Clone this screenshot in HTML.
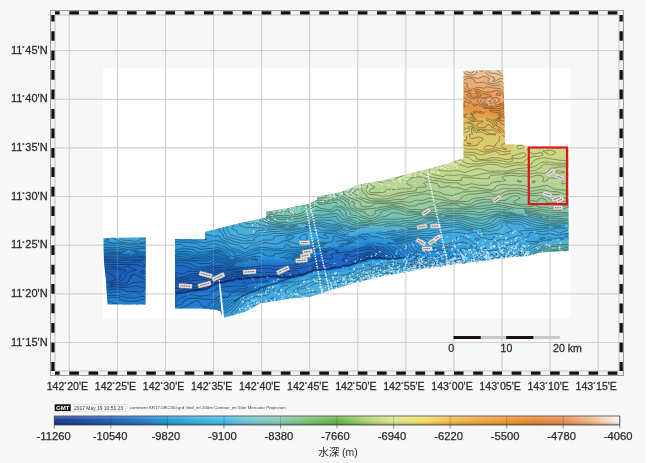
<!DOCTYPE html>
<html><head><meta charset="utf-8"><title>map</title>
<style>html,body{margin:0;padding:0;background:#f7f7f7;overflow:hidden}svg{display:block;filter:blur(0.35px)}</style>
</head><body><svg width="648" height="463" viewBox="0 0 648 463"><defs><linearGradient id="cb" x1="0" x2="1" y1="0" y2="0"><stop offset="0" stop-color="#1a3a90"/><stop offset="0.05" stop-color="#1e4aa8"/><stop offset="0.1" stop-color="#2060b8"/><stop offset="0.15" stop-color="#2478c8"/><stop offset="0.2" stop-color="#2898d8"/><stop offset="0.25" stop-color="#38b0e0"/><stop offset="0.3" stop-color="#48bce8"/><stop offset="0.35" stop-color="#78c8d0"/><stop offset="0.4" stop-color="#88ccb0"/><stop offset="0.45" stop-color="#78c470"/><stop offset="0.5" stop-color="#68b848"/><stop offset="0.55" stop-color="#a8d470"/><stop offset="0.6" stop-color="#e0e890"/><stop offset="0.65" stop-color="#f0e070"/><stop offset="0.7" stop-color="#f0c050"/><stop offset="0.75" stop-color="#f0a840"/><stop offset="0.8" stop-color="#f09838"/><stop offset="0.85" stop-color="#e88838"/><stop offset="0.9" stop-color="#e89050"/><stop offset="0.95" stop-color="#f0b888"/><stop offset="1.0" stop-color="#fff8f0"/></linearGradient><linearGradient id="cbs" x1="0" x2="0" y1="0" y2="1"><stop offset="0" stop-color="#fff" stop-opacity="0.3"/><stop offset="0.45" stop-color="#fff" stop-opacity="0"/><stop offset="0.8" stop-color="#000" stop-opacity="0.1"/><stop offset="1" stop-color="#000" stop-opacity="0.35"/></linearGradient></defs><rect x="0" y="0" width="648" height="463" fill="#f7f7f7"/><rect x="645" y="0" width="3" height="463" fill="#fdfdfd"/><rect x="103" y="68.5" width="468" height="250" fill="#ffffff"/><path d="M69.30 15V371 M117.38 15V371 M165.46 15V371 M213.54 15V371 M261.62 15V371 M309.70 15V371 M357.78 15V371 M405.86 15V371 M453.94 15V371 M502.02 15V371 M550.10 15V371 M598.18 15V371 M55 50.60H619 M55 99.25H619 M55 147.90H619 M55 196.55H619 M55 245.20H619 M55 293.85H619 M55 342.50H619" stroke="#c8c8c8" stroke-width="1" fill="none"/><defs><clipPath id="dm"><path d="M103.5 238.0 L145.8 237.5 L145.5 304.5 L107.5 304.5 L106.0 280.0 L104.0 262.0ZM175.0 239.0 L205.0 239.0 L205.0 232.0 L240.0 223.0 L266.0 217.8 L266.0 211.6 L286.0 208.5 L308.0 203.9 L317.0 200.0 L317.0 196.7 L340.0 192.3 L361.0 184.3 L380.0 181.0 L411.0 173.2 L442.0 165.5 L457.0 160.0 L463.5 158.5 L463.5 71.0 L480.0 70.5 L503.0 70.0 L504.0 100.0 L505.0 144.5 L523.0 144.5 L528.0 147.0 L568.5 147.5 L568.5 251.0 L540.0 252.5 L528.0 256.0 L505.0 257.7 L490.0 260.0 L480.0 261.0 L470.0 262.5 L457.0 264.0 L440.0 266.5 L422.0 269.0 L400.0 273.0 L376.0 277.5 L350.0 284.5 L330.0 290.5 L310.0 297.0 L290.0 298.5 L275.0 301.0 L260.0 303.5 L245.0 312.0 L230.0 316.0 L223.0 318.0 L220.0 311.0 L215.0 309.5 L200.0 308.5 L175.0 308.5Z"/></clipPath></defs><g clip-path="url(#dm)"><path fill="#1b52a5" stroke="#1b52a5" stroke-width="0.7" d="M245.9 278 250.2 278 245.9 278ZM237.2 279 242.4 279 237.2 279ZM232.2 280 235 279.4 236.1 280 232.2 280ZM228 281 229.3 281 228 281ZM219.3 282 223 281.5 224.7 282 220 282.3 219.6 283 217 283.5 211 286.2 208.9 286 213 283.7 219.3 282ZM207.7 287 208.3 287 207.7 287Z"/><path fill="#1c55aa" stroke="#1c55aa" stroke-width="0.7" d="M332.6 268 335.5 268 332.6 268ZM317.4 269 330 268.4 330.9 269 317.4 269ZM313.9 270 316 269.4 317 270 315 270.2 314.1 271 312 271.2 311.2 272 309 272.3 308.3 273 306 273.3 299 276.2 292 276.4 291.5 277 290 277.2 274.6 277 278 276.3 291 276.1 299 274.5 313.9 270ZM261.8 276 261.7 277 254 277.6 232 280.8 218 283.8 204.5 289 188 291.2 186 292.1 181.3 292 203 287 210 283.5 218 280.9 228 279.8 234 278.3 261.8 276ZM208 286.7 207.7 287 208 286.7ZM220 281.9 214 283.3 208.9 286 211 286.2 217 283.5 219.6 283 220 282.3 224.7 282 223 281.5 220 281.9ZM228 281 229.3 281 228 281ZM233 279.7 232.2 280 233 280.1 236.1 280 235 279.4 233 279.7ZM238 278.9 242.4 279 238 278.9ZM246 278 250.2 278 246 278ZM177.7 293 180 292.4 181 292.4 181.1 293 177.7 293ZM172 294 172 293.5 173 293.5 175.5 294 172 294Z"/><path fill="#1d59af" stroke="#1d59af" stroke-width="0.7" d="M363.2 260 365.2 260 363.2 260ZM360 261 362 260.3 362.3 261 360 261ZM357.3 262 359 261.4 359.3 262 357.3 262ZM354.5 263 356 262.5 356.3 263 354.5 263ZM351.1 264 353 263.4 353.3 264 351.1 264ZM346.7 265 350 264.3 350.5 265 346.7 265ZM342.1 266 345 265.4 345.9 266 342.1 266ZM336.6 267 340 266.4 340.9 267 336.6 267ZM318 268 335 267.2 336 267.3 336.3 268 330 269.4 318 269.6 299 276.3 290 277.4 262 277.4 240 280.1 218 284.2 205 289.3 175 294.5 172 294.6 172 294.1 175.5 294 172 293.5 172 291.6 175 291.3 180 289.7 187.9 285 191 284.6 195 285.8 198 285.9 204.1 283 215 279.3 249 275.7 262 275.3 269 275.8 290 274.8 298 273.3 318 268ZM318 268.8 330.9 269 330 268.4 318 268.8ZM333 267.9 335.5 268 333 267.9ZM178 292.9 181.1 293 181 292.4 178 292.9ZM262 276 234 278.3 228 279.8 218 280.9 210 283.5 203 287 181.3 292 186 292.1 188 291.2 204.5 289 218 283.8 232 280.8 254 277.6 261.7 277 262 276ZM314 270 299 274.5 291 276.1 278 276.3 274.6 277 290 277.2 291.5 277 292 276.4 299 276.2 306 273.3 308.3 273 309 272.3 311.2 272 312 271.2 314.1 271 315 270.2 317 270 316 269.4 314 270ZM102 272 105.7 273 107.5 275 103 276.5 102 275 102 272ZM109.9 278 112 277.3 113.7 278 113.4 279 109 280.4 106.3 280 109.9 278Z"/><path fill="#1e5cb4" stroke="#1e5cb4" stroke-width="0.7" d="M365.5 258 368 257.2 370 257.3 371 258 371 259 367 259.3 350 265.4 330 269.5 318 270 299 276.5 290 277.6 262 277.9 234 281.4 218 284.7 205 289.8 175 295 172 295 172 294.6 175 294.5 205 289.3 218 284.2 232 281.3 262 277.4 290 277.4 299 276.3 318 269.6 330 269.4 336.3 268 336 267.3 335 267.2 318 268 298 273.3 290 274.8 269 275.8 262 275.3 249 275.7 218 278.8 204.1 283 198 285.9 195 285.8 191 284.6 188 285 180 289.7 175 291.3 172 291.6 172 283.9 175 285.7 177 285.8 178.4 285 178.5 283 180.7 282 198 281.2 205 279.9 209 278 210.9 276 215 274.6 220 274.6 227 275.8 236 274.6 262 274.4 268 274.9 290 273.4 299 271.9 318 267.2 330 267.1 339.2 266 350 263.5 365.5 258ZM337 266.9 340.9 267 340 266.4 337 266.9ZM343 265.8 345.9 266 345 265.4 343 265.8ZM347 264.9 350.5 265 350 264.3 347 264.9ZM352 263.7 351.1 264 353.3 264 353 263.4 352 263.7ZM355 262.8 356.3 263 356 262.5 355 262.8ZM358 261.7 359.3 262 359 261.4 358 261.7ZM360 261 362.3 261 362 260.3 360 261ZM364 259.8 365.2 260 364 259.8ZM102 270 102 269.5 114 269.3 122.2 270 124.1 271 119.3 274 118.7 275 119.3 278 117.7 280 113 282.3 108 283 103 282.5 103 276.5 107.5 275 105.7 273 102 272 102 270ZM110 277.9 106.3 280 109 280.4 113.4 279 113.7 278 113 277.6 111 277.3 110 277.9Z"/><path fill="#1e5fb9" stroke="#1e5fb9" stroke-width="0.7" d="M367.8 255 370 254.8 374.7 258 373.4 259 367 259.6 350 265.6 331 269.5 318 270.2 299 276.7 290 277.8 262 278.3 234 281.8 218 285.1 205 290.2 175 295.5 172 295.5 172 295 175 295 205 289.8 218 284.7 233 281.6 262 277.9 290 277.6 299 276.5 318 270 332 269.1 350 265.4 367 259.3 371 259 371 258 370 257.3 368 257.2 350 263.5 339.2 266 330 267.1 318 267.2 299 271.9 290 273.4 268 274.9 262 274.4 236 274.6 227 275.8 220 274.6 215 274.6 210.9 276 209 278 205 279.9 198 281.2 180 282.2 178.5 283 178.4 285 177 285.8 175 285.7 172 283.9 172 281.5 192 277.9 204 276.6 215 272.4 223 271.5 229 273 235 272.4 268 273.7 290 272.2 299 270.9 318 266.1 330 266.5 341.1 265 350 262.7 367.8 255ZM125.3 266 130.2 266 133 268.6 137.4 270 135 271.2 129 272.5 126.2 274 126.8 277 120.3 282 112 284.3 103 283.7 103 282.5 111 282.8 114 282 117.7 280 119.3 278 118.7 275 119.3 274 124.1 271 122.2 270 115 269.4 102 269.5 102 267.4 111 266.1 121 267.9 125.3 266ZM147.6 269 148 268.8 148 270.3 147.4 270 147.6 269Z"/><path fill="#1e62bd" stroke="#1e62bd" stroke-width="0.7" d="M369.6 253 372.5 254 379.2 258 376 259 368 259.6 350 265.7 331 269.7 318 270.4 299 276.9 290 278 262 278.7 235.3 282 218 285.5 205 290.6 175 296 172 296 172 295.5 175 295.5 205 290.2 218 285.1 233 282 262 278.3 290 277.8 299 276.7 318 270.2 331 269.5 350 265.6 367 259.6 373.4 259 374.7 258 370 254.8 368 254.9 350 262.7 336 266.1 330 266.5 318 266.1 299 270.9 290 272.2 269 273.7 235 272.4 229 273 225 271.8 222 271.6 215 272.4 204 276.6 192 277.9 173 281.4 172 281.5 172 279.4 182.5 278 191 275.5 205 273.9 215 270 224 269.6 239 271 256 270.7 266 272.2 275 271.4 286 271.3 292 270.2 299 269.8 318 264.1 327 264.7 330 265.7 338.4 265 349 262 348.9 260 352 259.3 356.2 257 369.6 253ZM107.5 264 137 263.9 144 266 148 266 148 268.8 147.4 270 148 270.3 148 281.3 139.2 279 137.3 277 134 275.9 133 276.4 131.9 279 130 280.9 129.9 282 126 284.4 112 285.9 103 284.8 103 283.7 112 284.3 120.3 282 126.8 277 126.2 274 129 272.5 135 271.2 137.4 270 133.8 269 131 266.4 129 265.8 125.3 266 121 267.9 111 266.1 102 267.4 101 266 101 264.8 107.5 264Z"/><path fill="#1e66c1" stroke="#1e66c1" stroke-width="0.7" d="M366.8 251 370 250.4 379.8 255 384 258 378.7 259 368 259.8 350 265.9 330 270.1 318 270.6 299 277.1 290 278.2 262 279.2 248 280.9 245 281.8 234 282.7 218 285.9 204 291.3 175 296.5 172 296.6 172 296 175 296 205 290.6 218 285.5 235.3 282 262 278.7 290 278 299 276.9 318 270.4 331 269.7 350 265.7 368 259.6 376 259 379.2 258 370 252.9 356.2 257 352 259.3 348.9 260 349 262 338 265.1 330 265.7 327 264.7 318 264.1 299 269.8 292 270.2 285 271.4 275 271.4 266 272.2 256 270.7 239 271 225 269.7 218 269.7 215 270 205 273.9 191 275.5 182.5 278 172 279.4 172 277.5 181.6 276 190 272.4 198 272.4 205 271.5 215 267.9 245 269.5 254 267.2 268 266.6 277 268.1 281 266.7 288 265.8 292.2 266 299 267.8 303 266.8 308 263.4 312 262.9 319 260 321 260.2 324 261.7 335 265.1 340 263.8 339 263 334 261.8 332.6 261 332.7 260 340 258.2 341.7 257 339 255.1 336 256 334 255.3 333.3 255 334.3 254 339 253.9 345 252.7 352 253.1 356 252.5 362 253.1 366.8 251ZM139.1 261 143 261.3 144.8 262 145 263.1 148 263.8 148 266 147 266.1 144 266 136 263.9 109 263.9 101 264.8 101 261.3 116 261.6 139.1 261ZM133.6 276 137 276.9 140 279.3 148 281.3 148 287 143 286.4 140 284.2 138 283.9 134 284.2 125 286.7 111 287.4 103 286.2 103 284.8 112 285.9 126 284.4 129.9 282 130 280.9 133.6 276Z"/><path fill="#1f6ac4" stroke="#1f6ac4" stroke-width="0.7" d="M366.5 248 370 248.1 375 249.8 386.1 256 388.1 258 368 260 350 266.1 330 270.3 318 270.7 299 277.2 290 278.5 260 280 255 281.9 250 282.4 244 285.3 230 285.8 213.8 288 205 291.8 190 293.9 175.8 297 172 300.3 172 296.6 175 296.5 204 291.3 218 285.9 233 282.9 240 281.8 245 281.8 248 280.9 262 279.2 290 278.2 299 277.1 318 270.6 330 270.1 350 265.9 368 259.8 378.7 259 384 258 378 254.1 370 250.4 368 250.5 362 253.1 356 252.5 352 253.1 345 252.7 339 253.9 334.3 254 333.3 255 334 255.3 336 256 339 255.1 341.7 257 340 258.2 332.7 260 332.6 261 334 261.8 339 263 340 263.8 335.6 265 333.9 265 331 263.5 325 262 320 260 318 260.2 312 262.9 308 263.4 303 266.8 299 267.8 292.2 266 288 265.8 281 266.7 277 268.1 268 266.6 254 267.2 245 269.5 215 267.9 205 271.5 198 272.4 190 272.4 181.6 276 175 277.4 172 277.5 172 266.1 175 266.6 182 266.2 197 270.2 205 269 215 266.1 218 265.8 245 267.9 251.3 266 264 264.4 293 264.2 299 265.2 300.2 265 304 262 315 258.4 319.1 256 325 255.3 336 252.1 351 250.7 361 248.5 366.5 248ZM101 259 116 259.8 126 259 134 259.7 144 259.4 148 260.2 148 263.8 146 263.5 144.9 263 144.8 262 141 261 116 261.6 101 261.3 101 259ZM135.6 284 139.4 284 143 286.4 148 287 148 288.8 144 289.2 142.8 290 142.6 291 141 291.8 124 289.2 109 289.7 103 288.1 103 286.2 111 287.4 125 286.7 135.6 284Z"/><path fill="#1f6fc7" stroke="#1f6fc7" stroke-width="0.7" d="M362.7 246 368 245.9 378.2 249 390 255.5 392.2 258 368 260.2 350 266.3 330 270.5 318 270.9 299 277.4 290 278.7 275 279.3 270 280.6 262 281.2 255 283.9 248 285.7 245 288.9 240 289.2 236 290.9 226 291.9 221 290.1 218 289.9 213.3 291 212 294.4 210 295.5 201 296.6 193.4 295 190.6 295 185 296.3 179.2 299 177.5 302 176 303.1 172 303.4 172 300.3 175.8 297 190 293.9 205 291.8 213.8 288 230 285.8 244 285.3 250 282.4 255 281.9 260 280 290 278.5 299 277.2 318 270.7 330 270.3 350 266.1 368 260 388.1 258 386.1 256 375.4 250 368 247.8 362 248.4 351 250.7 336 252.1 325 255.3 319.1 256 315 258.4 304 262 300.2 265 299 265.2 293 264.2 264 264.4 251.3 266 245 267.9 218 265.8 215 266.1 205 269 197 270.2 182 266.2 175 266.6 172 266.1 172 262.8 180 262.3 191.1 263 195 266 199 267.2 213 265 214.5 264 215.6 262 218 261.4 229.8 265 245 266.5 250 265 262 263.4 282 263.6 299 262.6 312 257.6 318 254.6 330 252.7 336 250.6 350 249.6 362.7 246ZM101 258 101 257.3 142 257.5 148 258.3 148 260.2 143 259.3 134 259.7 126 259 117 259.8 107 259.7 101 258.9 101 258ZM103 289 103 288.1 109 289.7 124 289.2 140 291.8 142 291.5 142.8 290 144.5 289 148 288.8 148 294.2 140 294.6 134 293 129 294.7 125 295 122 294.4 117 292.1 113 293.4 110 293.6 104 292.4 103 291 103 289Z"/><path fill="#2075ca" stroke="#2075ca" stroke-width="0.7" d="M367.4 244 369.8 244 372.8 246 381 248 384.5 250 390 252 393 254.2 396.2 258 368 260.4 350 266.5 330 270.6 318 271.1 299 277.6 290 278.9 273.5 280 270 282 262 282.6 250 285.9 245 291.2 233.9 293 232 293.9 232.6 296 231.1 297 226 298 220 297.8 216.3 300 213 300.6 205 300.6 196 299 191 299.3 186 301.6 182.8 305 172 307.8 172 303.4 176 303.1 177.5 302 179.2 299 185 296.3 190.6 295 193.4 295 201 296.6 210 295.5 212 294.4 213.3 291 218 289.9 221 290.1 226 291.9 236 290.9 240 289.2 245 288.9 248 285.7 255 283.9 262 281.2 270 280.6 275 279.3 290 278.7 299 277.4 318 270.9 330 270.5 350 266.3 368 260.2 392.2 258 390 255.5 378.2 249 368 245.9 365 245.9 359 246.8 350 249.6 336 250.6 330 252.7 318 254.6 312 257.6 299 262.6 282 263.6 262 263.4 250 265 245 266.5 229.8 265 218 261.4 215.6 262 214.5 264 213 265 199 267.2 195 266 191.1 263 180 262.3 172 262.8 172 261 180 259.9 193 260.7 200 262.5 205 262.8 210 262 215 259.3 218 259 222 260 226 262 233 263.8 245 265.2 262 262.3 290 262.1 299 260.9 309 257.4 318 253.4 330 251.5 336 249 343 249.2 350 248.5 367.4 244ZM101 256 142 255.7 148 256.4 148 258.3 142 257.5 128 257.2 108 257.7 101 257.3 101 256ZM104 293 104 292.4 112 293.6 117 292.1 122 294.4 125 295 129 294.7 134 293 140 294.6 148 294.2 148 298.7 144 297.3 142 297.3 133 299.6 126 298.7 117 296.1 106 296.5 104 296.2 104 293Z"/><path fill="#207bcd" stroke="#207bcd" stroke-width="0.7" d="M367.6 243 373 243.5 377.6 245 384 246.1 394 251.7 396.6 254 398.6 257 400.2 258 387 259.5 368 260.6 350 266.7 330 270.8 318 271.3 299 277.8 290 279.1 276.4 280 270.8 283 262 283.4 253 285.7 250.7 287 249 290 245.4 293 244.7 295 239 295.2 237.6 296 220 299.7 216.1 302 215 303.7 210.2 308 208 308.8 205 308.8 200 306.9 195 306.5 194.4 307 196.4 309 196.5 310 195 311 175 311 172 308 182.8 305 186 301.6 191 299.3 196 299 205 300.6 213 300.6 216.3 300 220 297.8 226 298 231.1 297 232.6 296 232 293.9 233.9 293 245 291.2 250 285.9 262 282.6 270 282 273.5 280 290 278.9 299 277.6 318 271.1 330 270.6 350 266.5 368 260.4 396.2 258 393 254.2 390 252 384.5 250 381 248 373 246.1 370 244.1 368 243.8 350 248.5 343 249.2 336 249 330 251.5 318 253.4 309 257.4 299 260.9 290 262.1 262 262.3 244 265.2 233 263.8 226 262 222 260 218 259 215 259.3 210 262 205 262.8 200 262.5 193 260.7 180 259.9 172 261 172 258 180 257.3 188 258.8 204 260 215 256.8 218 256.9 236 262.9 245 264 262 261 281 261.6 290 261.1 306.7 257 318 252 330 250.1 336 247.7 342 247.9 350 247.4 367.6 243ZM136.9 254 143 253.2 148 253.7 148 256.4 130 255.5 101 255.9 101 254.4 136.9 254ZM114.9 296 120 296.7 126 298.7 133 299.6 141 297.4 145 297.6 148 298.7 148 304 146.7 305.3 144 305 140 305.8 137.3 305 137.2 304 136 303.4 134 303.1 132 303.4 128 305.2 125 305.3 121 302.5 114.4 301 115.8 299 115 298.6 104 299.3 104 296.2 107 296.6 114.9 296ZM117.7 307 120 306.3 122.6 307 117.7 307ZM141.5 307 142.5 307 141.5 307Z"/><path fill="#2081d0" stroke="#2081d0" stroke-width="0.7" d="M367.9 242 387.7 244 396.7 250 401.2 255 404.1 257 402.9 258 388 259.7 368 260.8 350 266.9 330 271 318 271.5 299 277.9 290 279.3 279.9 280 274 283 262 283.9 257.3 285 254.1 286 250.6 291 248.2 293 248.1 294 245.8 295 240 295.5 221.6 300 215 307.2 207.5 311 195 311 196.5 310 196.4 309 194.4 307 195 306.5 200 306.9 205 308.8 209 308.4 211 307.4 217.3 301 220 299.7 237.6 296 239 295.2 244.7 295 245.4 293 249 290 250.7 287 253 285.7 262 283.4 270.8 283 276.4 280 290 279.1 299 277.8 318 271.3 330 270.8 350 266.7 368 260.6 387 259.5 400.2 258 398.6 257 396.6 254 394 251.7 384 246.1 377.6 245 375.8 244 368 242.9 350 247.4 342 247.9 336 247.7 330 250.1 318 252 306.7 257 290 261.1 281 261.6 262 261 245 264 236 262.9 218 256.9 215 256.8 204 260 188 258.8 180 257.3 172 258 172 256.3 176 256 180 254.9 186 255.5 193 257.4 205 257.7 211.5 256 215 254.4 218 254.1 229 259.2 239.3 262 245 262.8 254 260.8 262 259.8 285 260.4 290 259.9 296 257.5 305.2 256 318 250.1 329 248.5 336 246.4 350 246.2 367.9 242ZM139.1 252 143 251.6 148 252.1 148 253.7 143 253.2 134 254.2 101 254.4 101 252.5 132 253 139.1 252ZM109.8 299 115 298.6 115.8 299 114.4 301 121 302.5 125 305.3 128 305.2 132 303.4 134 303.1 136 303.4 137.2 304 137.3 305 140 305.8 144 305 146.7 305.3 145 307 122.6 307 120 306.3 117.7 307 107 307 106.7 306.7 108.1 306 106.2 304 104 303.1 104 299.3 109.8 299Z"/><path fill="#2387d3" stroke="#2387d3" stroke-width="0.7" d="M364.8 242 368 241.2 389 242.6 395 243.6 403 248.7 405 252 411.2 255 410.2 257 400 259.1 368 261 350 267.1 330 271.2 318 271.6 299 278.1 283.2 280 277.9 283 258.8 285 256.5 286 253.5 291 250.8 294 240 295.8 226.8 299 223.1 302 220.8 305 211.8 311 207.5 311 215 307.2 221.6 300 240 295.5 245.8 295 248.1 294 248.2 293 250.6 291 254.1 286 257.3 285 262 283.9 274 283 279.9 280 290 279.3 299 277.9 318 271.5 330 271 350 266.9 368 260.8 396.1 259 402.9 258 404.1 257 401.2 255 396.7 250 387.7 244 368 242 350 246.2 336 246.4 329 248.5 318 250.1 305.2 256 296 257.5 290 259.9 284 260.5 262 259.8 254 260.8 245 262.8 239.3 262 229 259.2 218 254.1 215 254.4 211.5 256 205 257.7 193 257.4 186 255.5 180 254.9 176 256 172 256.3 172 254.6 180 252.6 188 253.5 194 255.6 205 255.9 215 252.1 218 252 229 257.7 245 261.4 256 258.9 263 258.6 282 259.5 290 258.2 295 256 304 254.7 318 248.6 328 247.2 336 245.2 350 245.2 364.8 242ZM101 251 107 250.5 129 251.8 143 250.5 148 250.8 148 252.1 142 251.7 133 252.9 112 252.9 101 252.5 101 251ZM104 304 104 303.1 106 303.9 108.1 306 106.7 306.7 104 304Z"/><path fill="#268dd6" stroke="#268dd6" stroke-width="0.7" d="M365.3 241 368 240.4 390 241.6 401.2 243 404 244.2 410 252 415 254.2 415.7 255 415.6 256 413.8 257 400 259.6 368 261.2 350 267.3 330 271.4 318 271.8 299 278.3 286.3 280 281.7 283 279 283.7 260.2 285 258.8 286 256.2 292 253.4 294 231.8 298 226.6 302 223 305.8 218 308.5 214.4 311.4 211.8 311 220.8 305 223.1 302 226.8 299 240 295.8 250.8 294 253.5 291 256.5 286 258.8 285 277.9 283 283.2 280 299 278.1 318 271.6 330 271.2 350 267.1 368 261 400 259.1 410.2 257 411.2 255 405 252 403 248.7 395 243.6 389 242.6 368 241.2 350 245.2 336 245.2 328 247.2 318 248.6 304 254.7 295 256 290 258.2 282 259.5 263 258.6 256 258.9 245 261.4 229 257.7 218 252 215 252.1 205 255.9 194 255.6 188 253.5 180 252.6 172 254.6 172 251.7 180 250.7 190 250.6 196 253.5 205 253.8 212 251.4 218 250.5 224.7 253 230 256.6 245 259.4 255 257.4 280 258.5 286 257.4 293 254.2 299 253.9 304 252.8 318 247.2 328 246 340 243.6 356 243.3 365.3 241ZM100 249 100 248.6 104 248.5 112 249 119 248.7 129 250.4 143 249.2 148 249.4 148 250.8 141 250.5 129 251.8 120 250.9 101 250.8 100 249Z"/><path fill="#2991d8" stroke="#2991d8" stroke-width="0.7" d="M357 240 359 239.5 362 240.4 368 239.6 392 240.5 407.2 242 409 243 409.8 247 413 250.8 420 253.8 423 254 425.4 256 425.5 257 420 257 400 260.1 368 261.4 347 268.1 331 271.4 318 272 299 278.5 289.8 280 285.8 283 282.7 284 261.6 285 261.2 288 259.2 293 236.7 297 234.7 298 233 300.6 222 309 216.1 312 214.4 311.4 218 308.5 223 305.8 226.6 302 231.8 298 253.4 294 256.2 292 258.8 286 260.2 285 279 283.7 281.7 283 286.3 280 299 278.3 318 271.8 330 271.4 350 267.3 368 261.2 400 259.6 413 257.2 415.6 256 415.7 255 414.8 254 410 252 404 244.2 401.2 243 390 241.6 368 240.4 356 243.3 340 243.6 328 246 318 247.2 304 252.8 299 253.9 293 254.2 286 257.4 280 258.5 255 257.4 245 259.4 230 256.6 224.7 253 218 250.5 212 251.4 205 253.8 196 253.5 190 250.6 180 250.7 172 251.7 172 248 175 248.7 177.5 247 180 246.4 194 248.3 201 251 218 248.6 231 252.5 231.8 253 231.6 255 233 255.6 245 257.2 256 255.2 270 257.1 278 257.2 279.9 257 281.1 255 286 253.1 299 252.1 305 250.6 318 245.9 330 244.4 339 242.4 350 242.1 357 240ZM172 246 172.6 246 172 247.8 172 246ZM100 247 100 246.3 105 246 117 246.3 128 248.5 141 247.2 148 247.9 148 249.4 140 249.2 128 250.4 119 248.7 112 249 100 248.6 100 247Z"/><path fill="#2c94d8" stroke="#2c94d8" stroke-width="0.7" d="M357.7 237 365 236.8 370 239.1 384 239.7 395 239.2 410 240.7 413.2 242 413.7 245 415 247 420 250.5 422 250.4 428 252.4 437 252.2 439 253.2 440.4 253 439.2 252 440 251.8 447 252.2 448.9 253 449 254 447.4 255 444 255.6 440 255 437 255.5 433 256.9 430 260.1 428 260.7 423 260 410 259.7 368 261.5 347 268.4 332 271.5 316 272.8 300 278.4 292.5 280 290.9 282 287.9 284 264.7 285 262.4 291 262.3 293 238.2 297 235.9 301 225.4 310 217.8 312.8 216.1 312 222 309 233 300.6 234.7 298 236.7 297 259.2 293 261.2 288 261.6 285 282.7 284 285.8 283 289.8 280 299 278.5 318 272 331 271.4 347 268.1 368 261.4 400 260.1 420 257 425 257.1 425.5 257 425.4 256 423 254 420 253.8 413 250.8 409.8 247 409 243 407.2 242 396 240.7 368 239.6 362 240.4 359 239.5 350 242.1 339 242.4 330 244.4 318 245.9 305 250.6 299 252.1 286 253.1 281.1 255 279.9 257 278 257.2 270 257.1 257 255.2 251 255.8 245 257.2 234 255.8 231.6 255 231.8 253 230 252 218 248.6 202 251 199 250.6 194 248.3 180 246.4 177.5 247 175 248.7 172 248 172.6 246 172 245.6 172 241.8 180 242 188 243.2 194 243 197.2 244 201 246.8 203 247.2 205 247 210 244.9 213 244.6 214.6 245 215.1 246 218 245.7 224 247.1 229 249.6 245 254.8 250 253.7 254 251.3 258 250.5 282 250.9 303 249.1 318 244.4 330 243.2 340 240.9 350 240.4 357.7 237ZM100 245 105 244.3 118 244.1 128 246.2 142 245.1 148 245.8 148 247.9 139 247.2 128 248.5 118 246.4 100 246.3 100 245Z"/><path fill="#2f97d8" stroke="#2f97d8" stroke-width="0.7" d="M362.1 234 368 233.8 371 236.1 379 236.6 381 237 381.7 238 384 238.4 388.6 238 390.1 237 393 236.7 398.6 238 405 237.9 417 239.5 418.7 240 419.4 241 418.3 244 420 246.7 425 246.4 430 247.3 442 247.8 452 247.2 455.5 251 457 254 459.5 256 458 257.7 456 258.2 454 256.6 452 256.5 450 257.1 448.9 258 448.9 259 446 260.4 430 262.8 412 262.5 403 260.9 368 261.7 348 268.7 340 269.8 333 271.7 316.1 273 295 280 292.9 283 290 284.3 268.3 285 267 286 265.3 290 265.1 293 244.2 296 240 299.4 232 309 227 312.4 221 313.5 218.8 314.8 217.8 312.8 225.4 310 235.9 301 238.2 297 262.3 293 262.4 291 264.7 285 287.9 284 290.9 282 292.5 280 300 278.4 316 272.8 332 271.5 347 268.4 368 261.5 410 259.7 423 260 428 260.7 430 260.1 434 256.4 439 255 446 255.4 449 254 448.9 253 445 251.9 439.2 252 440.4 253 440 253.2 437 252.2 429 252.5 422 250.4 420 250.5 415 247 413.7 245 413.2 242 409 240.5 394 239.1 384 239.7 370 239.1 366 237 363 236.6 357 237.2 349 240.6 340 240.9 330 243.2 318 244.4 303 249.1 282 250.9 258 250.5 254 251.3 250 253.7 245 254.8 229 249.6 223 246.8 218 245.7 215.1 246 214 244.7 211 244.7 205 247 203 247.2 201 246.8 197.2 244 194 243 188 243.2 180 242 172 241.8 172 239 183 240.1 189 239.7 195 241.1 205 242.2 214 240.4 218 240.4 223.1 242 228 244.5 231.5 248 239 249.7 245 252.5 252 249.2 260 247.3 266 247.3 275 248.9 281 248.5 283.7 247 284 245 286 243.9 291.4 245 292.4 247 294 247.3 305 246.8 318 242.4 323 241.8 330.1 242 332.6 241 333 240 332.1 236 333 235.6 336 235.7 339 237.3 346 239.1 362.1 234ZM570 236 571 235.8 570 236ZM106 239 109.3 239 109.7 240 108.5 242 120 242.7 128 244.5 148 242.9 148 245.8 140 245.1 127 246.1 118 244.1 100 244.6 100 242 104.1 241 106 239ZM219 316 219 315.5 220.4 317 220.1 318.1 220 317 219 316Z"/><path fill="#369edb" stroke="#369edb" stroke-width="0.7" d="M216 227 217.8 226 215 228.9 209 230.4 205.4 232 206.4 233 212 235.2 220 234.8 221.3 236 222 238.2 224 239.7 234 243.5 240 244.1 245 247.3 249 244.4 258 244.2 264 241.4 267 241.4 272 243.1 276.8 243 282.4 239 282.7 237 289 235.1 294.3 235 295.9 236 295 238.6 291.1 241 292.8 242 302 243.6 315.4 240 315.7 239 312.3 237 312.9 236 318 234 325 233 336 232.9 341 235.5 350 236 368 231.7 373 231.7 376.1 232 381 233.6 424 238.4 429 240.6 433 241.5 437 244 443 245.9 449.3 245 461 240.6 466 241.3 467.8 242 473.1 246 473.3 247 472.4 250 474.2 252 474.8 254 473 255.3 469.3 255 468 251.4 464.4 251 464 252.4 467.4 255 460 260.3 449 261.8 436 264.5 401 264.7 393 263.5 385 263.7 382.4 262 368 261.9 367 262.9 364 264 362 264 361 264.9 355.9 266 354.3 267 355.4 268 352 270.1 343 272.5 337 272 330 274.1 327 274.4 317 273.1 316 273.9 314 274 313 274.9 311 275 310 275.9 308 276 304 277.8 298.8 279 297.5 280 296 283 293 284.1 279 285.6 270 285.6 267.8 290 267.9 293 260 294.6 252.6 295 250.1 296 248 297.9 245 298.7 242.3 301 236.5 309 232.7 312 233 313 235.6 315 235.8 316 234 317.2 229.6 318 230 319 227 319 226 320 224 320 223 321 220.1 318.1 220.4 317 218.8 314.8 219.7 314 227 312.4 232 309 240 299.4 244.2 296 265.1 293 265.3 290 267 286 268.3 285 290 284.3 292.9 283 295 280 316.1 273 333 271.7 340 269.8 348 268.7 368 261.7 403 260.9 412 262.5 431 262.8 446 260.4 448.9 259 448.9 258 450 257.1 452 256.5 454 256.6 455.4 258 457 258.1 459 257 459.5 256 457 254 455.5 251 453 247.9 451.1 247 442 247.8 430 247.3 425 246.4 420 246.7 418.3 244 419.4 241 418.7 240 417 239.5 405 237.9 398.6 238 393 236.7 390.1 237 388 238.1 383 238.2 379 236.6 371 236.1 368 233.8 365 233.6 362 234 346 239.1 339 237.3 336 235.7 333 235.6 332.1 236 333 240 332.6 241 330.1 242 323 241.8 318 242.4 305 246.8 294 247.3 292.4 247 291.4 245 286 243.9 284 245 283.7 247 281 248.5 275 248.9 266 247.3 260 247.3 252 249.2 245 252.5 239 249.7 231.5 248 228 244.5 223.1 242 218 240.4 214 240.4 205 242.2 195 241.1 189 239.7 183 240.1 172 239 175 236 185.9 236 182 236.9 183 237.2 201 236 202 235 202 232 204 231.1 203.9 230.1 205 229 208 229 209 228 212 228 213 227 216 227ZM532.4 235 535 234.3 541 236.3 549 235.8 553.5 237 553.2 238 542 240 536 240.1 535.2 240 536.3 239 536 238.4 533 236.7 532.4 235ZM565.2 235 571 234.2 571 235.8 570 236 571 236.2 571 237.6 561.9 237 565.2 235ZM102 236 103 235 106.2 235 107.2 236 115.2 238 120.8 241 131 242.7 140.2 242 148 239.2 148 242.9 128 244.5 120 242.7 108.5 242 109.7 240 109.3 239 108 238.7 106 239 104.1 241 100 242 100 238 102 236ZM508.5 252 510 251.3 513 252.6 514.6 257 513 259 508.7 259 507.4 257 507 255 508.5 252ZM497 260 499 259.6 500.8 260.2 500 261 497.4 261 497 260Z"/><path fill="#3ea6df" stroke="#3ea6df" stroke-width="0.7" d="M220 226 221 225 223 225 221.4 230 224.6 234 225.6 237 226.9 238 245 242.2 248 241.7 254 241.8 257.4 241 260.3 239 258.1 237 261.5 236 267 236.8 274 234.5 290 233.5 299 232.2 307 229.8 311 229.3 320 231.1 330 231.4 336 230.7 343.1 234 349 234.8 353 234.3 361 232.1 372 231 386 231.6 408 235 427 236.5 437 236.3 451 233 461 234 471 237.6 473 240.1 478 243.6 480 243.9 483.1 243 482.5 241 483 240 484 239.9 487.2 241 492.4 244 492.8 245 492 245.4 480 247.4 478.9 248 478.7 249 482 249.8 487 249.8 492.8 248 495 245.6 501 243.7 501.7 243 502 241 505 240.8 509 242.5 510 242.3 510.6 241 513 239.5 519 238.9 520.6 237 526.6 235 524.7 232 528.7 231 542 232.6 551 231.4 555 233.3 558 234 561 233.8 566 232.3 571 232.9 571 234.2 566 234.7 561.9 237 571 237.6 571 238.6 555 239.2 543 241.6 528 243.4 523.5 248 519.3 251 517.9 254 518.1 257 517.2 259 513 259 514.6 257 513.2 253 512 251.7 510 251.3 508 252.6 507 255 507.4 257 508.7 259 506 259 505 260 498 259.7 497 260 497.4 261 496 261 495 262 491 262 490 263 481 263 479.5 264 478.4 263 477 262.8 475.2 264 471 264 470 265 464.2 265 463.8 264 462 263.4 456 263.1 452 264.5 448.3 265 446.6 267 448.8 267.2 448 268 441 268 440 269 438.8 269 437.7 267 435 266.3 402 267 392 265.7 370 268.5 359 270.5 357.7 271 354.8 274 350 276 346 276.8 337 276.7 330 277.4 318 276.1 300.1 280 299 283.2 288.3 286 283.3 289 281.8 293 283 294.2 288.2 296 287.8 297 286 297.9 280 298.5 279.4 299 279.1 303 276 303 275 304 268 304 266.4 305 266.5 303 265 302 259 299.1 255.8 299 250.9 302 250.2 303 251.2 305 251 306.2 249 306.4 245 305.5 242.4 307 241.6 309 238.7 312 242.3 315 241 316 238 316 237 317 235 317 234 318 231 318 230 319 229.6 318 234 317.2 235.8 316 235.6 315 233 313 232.7 312 236.5 309 242.3 301 245 298.7 249 297.3 250.1 296 252.6 295 260 294.6 267.9 293 267.8 290 270 285.6 279 285.6 293 284.1 296 283 297.5 280 298.8 279 304 277.8 308 276 310 275.9 311 275 313 274.9 314 274 316 273.9 317 273.1 327 274.4 330 274.1 337 272 343 272.5 352 270.1 355.4 268 354.3 267 355.9 266 361 264.9 362 264 364 264 367 262.9 368 261.9 382.4 262 385 263.7 393 263.5 401 264.7 412 265 437 264.4 449 261.8 457.6 261 460.7 260 467.4 255 464 252.4 464.4 251 468 251.4 469.3 255 473 255.3 474.8 254 474.2 252 472.4 250 473.3 247 473.1 246 467.8 242 466 241.3 461 240.6 449.3 245 443 245.9 437 244 433 241.5 429 240.6 424 238.4 381 233.6 376.1 232 373 231.7 368 231.7 350 236 341 235.5 336 232.9 325 233 318 234 312.9 236 312.3 237 315.7 239 315.4 240 302 243.6 292.8 242 291.1 241 295 238.6 295.9 236 294.3 235 289 235.1 282.7 237 282.4 239 276.8 243 272 243.1 267 241.4 264 241.4 258 244.2 249 244.4 245 247.3 240 244.1 234 243.5 224 239.7 222 238.2 221.3 236 220 234.8 212 235.2 206.4 233 205.4 232 207.1 231 215 228.9 217.8 226 220 226ZM445 239.9 442.2 241 442.2 242 445 242.8 448.1 242 450.4 240 445 239.9ZM533 234.4 532.4 235 532.6 236 533.4 237 535.7 238 536.3 239 535.2 240 536 240.1 542 240 553.2 238 553.5 237 549 235.8 541 236.3 535 234.3 533 234.4ZM203 231 203.9 230.1 204 231.1 202 232 203 231ZM471.9 234 475 233.3 476.4 235 475.1 236 474 236 472 235.1 471.9 234ZM106.2 235 122.3 235 122.3 236 124 238 127 238.9 135 238.8 140 237.5 148 237.2 148 239.2 140.2 242 130 242.6 120.8 241 115.2 238 107.2 236 106.2 235ZM181.8 237 185.9 236 195.8 236 193 236.9 181.8 237ZM453.8 265 463.7 265.3 463 266 458 266 457 267 449.2 267 451 265.6 453.8 265ZM255.6 308 257.1 307.9 255.2 308.8 255.6 308ZM251.3 311 252.2 310.8 251.3 311Z"/><path fill="#43abe0" stroke="#43abe0" stroke-width="0.7" d="M510 223 513 224.5 521 225.1 522.8 226 523.4 228 525 229.1 531 228.9 539 229.8 547 228.8 560 229.4 571 228.1 571 232.9 566 232.3 561 233.8 558 234 555 233.3 551 231.4 542 232.6 528.7 231 524.7 232 526.6 235 520.6 237 519 238.9 513 239.5 510.6 241 510 242.3 509 242.5 505 240.8 502 241 501.7 243 500.6 244 495 245.6 492.8 248 488 249.6 485 249.9 480 249.7 478.7 249 478.9 248 480 247.4 492.8 245 492.4 244 489.2 242 485 240.1 483.1 240 482.5 241 483.1 243 480 243.9 478 243.6 473 240.1 471 237.6 462 234.2 452.2 233 437 236.3 427 236.5 408 235 386 231.6 368 231 349 234.8 343.1 234 336 230.7 330 231.4 320 231.1 311 229.3 307 229.8 299 232.2 290 233.5 274 234.5 267 236.8 261.5 236 258.1 237 260.3 239 257.4 241 254 241.8 248 241.7 245 242.2 226.9 238 225.6 237 224.6 234 221.4 230 221.3 229 223 225 224 224 227 224 226.1 229 230 235.5 245 239.1 257 235 262 232.6 266 233.1 271 231.7 278 231.9 284 231 290 231.5 306 228 318 226.6 328 229.5 336 229.1 341 230 344.6 231 347 233.1 350 233.7 359 231.5 368 230.2 373 230.2 399 230.7 408 232.9 430 234.1 438 232.2 444 232.1 451 230.8 456 230.7 461 229.3 468 231.2 477 231.4 479.1 232 482 234.3 484.2 235 489 235.2 496 233.8 498 234.1 502 236.1 503 235.9 506.9 233 512 231.9 513.3 231 512.7 229 510 227.8 506.4 224 510 223ZM472 233.9 472 235.1 474 236 475.1 236 476.4 235 475 233.3 472 233.9ZM144 235 145 234 148 237.2 140 237.5 135 238.8 126 238.8 124 238 122.3 236 122.3 235 144 235ZM129 236 130.3 236 129 236ZM557 239 571 238.6 571 239.5 555 240.5 537 243.6 532 245 529.9 246 524.5 251 523.7 253 521.3 256 521.2 259 517.2 259 518.1 257 517.9 254 519.3 251 523.5 248 527 243.9 529.6 243 543 241.6 550 239.9 557 239ZM444.6 240 450.4 240 448.1 242 445 242.8 442.2 242 442.2 241 444.6 240ZM456.5 263 463.8 264 464.2 265 463 265.6 454 264.9 451 265.6 448.8 267.2 446.6 267 448.3 265 456.5 263ZM476 263 478 262.9 479.5 264 475.2 264 476 263ZM389.9 266 394 265.8 402 267 435 266.3 437.7 267 438.8 269 435 269 434 270 429 270 428 271 423 271 422 272 417 272 416 273 412 273 411 274 406 274 404.8 275 405.8 273 402.2 271 402.2 270 393 268.4 383 268.8 373.9 270 363.3 273 354 278.3 349.4 280 347.4 282 346 282.3 337 281.8 331 280.2 324 280.4 318 279.7 315 280.2 307 283.3 302.9 286 293.8 289 292.7 291 294.5 295 290 301 286 301 285 302 281 302 280 303 279.1 303 279.4 299 280 298.5 286 297.9 287.8 297 288.2 296 283 294.2 281.8 293 283.3 289 288.3 286 299 283.2 300.1 280 318 276.1 330 277.4 347 276.7 354.8 274 357.7 271 359 270.5 369 268.6 389.9 266ZM410 268.9 407.6 270 409.6 272 412 272.7 414.5 272 414.7 271 414 270 412 269 410 268.9ZM255.8 299 259 299.1 265 302 266.5 303 266.4 305 261 305 257.1 307.9 254 309 252.2 310.8 249 312 245 315 242.3 315 238.7 312 241.6 309 242.4 307 243.5 306 245 305.5 249 306.4 251.3 306 250.2 303 250.9 302 255.8 299ZM257 303.9 258 304.5 259.1 304 257 303.9Z"/><path fill="#47afe0" stroke="#47afe0" stroke-width="0.7" d="M503.4 222 510 221.3 519 221.5 537 227.3 571 226.8 571 228.1 560 229.4 547 228.8 539 229.8 531 228.9 525 229.1 523.4 228 522.8 226 521 225.1 513 224.5 510 223 506.4 224 510 227.8 512.7 229 513.3 231 512 231.9 506.9 233 503 235.9 502 236.1 498 234.1 496 233.8 489 235.2 484.2 235 482 234.3 479.1 232 477 231.4 468 231.2 461 229.3 456 230.7 451 230.8 444 232.1 438 232.2 430 234.1 408 232.9 399 230.7 373 230.2 368 230.2 359 231.5 350 233.7 347 233.1 344.6 231 341 230 336 229.1 328 229.5 318 226.6 306 228 290 231.5 284 231 278 231.9 271 231.7 266 233.1 262 232.6 257 235 245 239.1 237 236.8 230.8 236 228 232.7 226.1 229 227 224 228 223 231.1 222.9 234.2 225 234.4 226 232.6 228 232.9 229 238 231 238.2 233 239.8 234 243 234.4 245 235.3 253.8 234 255.4 233 256.2 231 259 230.2 282 228.9 290 229.6 311 225.5 318 224.8 330 227.3 336 227.1 344.7 229 352 231.4 368 229.3 380 229.7 386 229.1 399 229.4 410 231 420 231.5 436 229.8 443 227.2 454 226.5 463 227.5 470 229.6 487 231.4 496.7 230 501.6 227 501.2 224 503.4 222ZM129 236 130.3 236 129 236ZM561.4 240 571 239.5 571 240.5 550 242.6 541 244.4 533.8 247 528.4 252 528 254 526.4 256 525.7 259 521.2 259 521.3 256 523.7 253 524.5 251 531 245.4 538 243.4 555 240.5 561.4 240ZM380.6 269 393 268.4 401 269.7 402.2 270 402.2 271 405.8 273 404.8 275 401 275 400 276 395 276 394 277 392.8 277 393.8 276 390 273.2 382 274.1 380 273.2 379.1 272 375.8 272 365.1 275 360 277.7 350.1 285 353.7 286 351 286 350 287 348 287 347 288 343 288.3 340 290 339 290 337.7 288 335 287.1 328 285.8 325 286.3 322.2 286 322.5 284 320 282.9 317 282.8 312 285.2 309 287.6 300 289.2 298 290.3 297.5 291 298 291.6 300 293.2 302 293.7 315 291.5 318.3 292 320 294.3 323 294.4 327.7 293.3 327 294 322 295 319 297 317 297 316 298 314 298 313 299 311 299 310 300 290.6 300.4 294.5 295 292.7 291 293.8 289 302.9 286 307 283.3 314 280.5 318 279.7 324 280.4 331 280.2 337 281.8 346 282.3 347.4 282 349.4 280 354 278.3 363 273.1 373.9 270 380.6 269ZM409.3 269 413 269.4 414.7 271 414.5 272 412 272.7 409.6 272 407.6 270 409.3 269ZM380.2 279 382.4 278.6 380.2 279ZM328.9 293 330.2 292.8 328.9 293ZM256.9 304 259.1 304 258 304.5 256.9 304Z"/><path fill="#4bb0d9" stroke="#4bb0d9" stroke-width="0.7" d="M509.2 219 517 218.9 525 219.9 528.6 222 539 225 551 225.9 571 225.7 571 226.8 537 227.3 520 221.7 510 221.3 505 221.6 502 222.8 501.2 224 501.6 227 496.7 230 488 231.3 470 229.6 463 227.5 454 226.5 443 227.2 436 229.8 420 231.5 410 231 399 229.4 386 229.1 380 229.7 368 229.3 352 231.4 344.7 229 336 227.1 330 227.3 318 224.8 311 225.5 290 229.6 282 228.9 259 230.2 256.2 231 255.4 233 253.8 234 245 235.3 243 234.4 239.8 234 238.2 233 238 231 232.9 229 232.6 228 234.4 226 234.2 225 231.1 222.9 232 222 235 222 236 221 239 221 240 220 241 220 241.2 224 242 225 245 226.2 270 227.5 281 227.1 289 228.1 299 226.7 311 223.7 320 222.9 330 225.4 336 225.2 350 229 359 229.6 368 228.3 379 228.9 387 228 401 228.4 412 229.6 420 229.3 441 224.8 450 224.7 458 223.7 471 227.6 482 229.6 496 225.3 501 220.7 509.2 219ZM567.5 241 571 240.5 571 241.7 550 243.7 544 245.2 532.6 252 531.6 254 532.2 256 531.9 257 530.4 258 529 258 528 259 525.7 259 526.4 256 528 254 528.4 252 533.8 247 541 244.4 550 242.6 558 241.4 567.5 241ZM375.8 272 379.1 272 380 273.2 382 274.1 390 273.2 393.8 276 392.8 277 389 277 388 278 383 278 380.2 279 377 279 376 280 373 280 372 281 370 281 369 282 366 282 365 283 362 283 361 284 358 284 357 285 355 285 354 286 350.1 285 351 284.8 359.5 278 365.1 275 375.8 272ZM316.4 283 319 282.7 322.5 284 322.2 286 323 286.2 329 285.9 336 287.4 337.7 288 339 290 338 290 337 291 334 291 333 292 331 292 330.2 292.8 322 294.5 320 294.3 318.3 292 316 291.5 309 292.3 304 293.7 301 293.5 297.5 291 298.3 290 300.7 289 309 287.6 312 285.2 316.4 283ZM342.1 289 343.8 288.2 342.1 289Z"/><path fill="#4fb0d1" stroke="#4fb0d1" stroke-width="0.7" d="M507.4 217 515 216.4 525 216.9 532 220.5 541 221.7 549 224 559 223.7 571 224.6 571 225.7 551 225.9 539 225 528.6 222 525 219.9 517 218.9 510 218.8 501 220.7 496 225.3 482 229.6 471 227.6 458 223.7 450 224.7 441 224.8 420 229.3 412 229.6 401 228.4 387 228 379 228.9 368 228.3 359 229.6 350 229 336 225.2 330 225.4 320 222.9 311 223.7 299 226.7 289 228.1 281 227.1 270 227.5 246 226.3 242 225 241 223 241 220 243 220 244 219 248 219 249 218 251.3 218 251 219.6 247.9 221 250 222 260 221.9 270 224.9 288 226.7 302 224.9 310 222.4 319 220.9 331 222.3 350 227.4 378 228 388 227.2 411 227.6 432 224.6 437 222.4 450 221.2 461 221.9 469 224.7 480 227.2 494.3 223 498 219 507.4 217ZM569 242 571 241.7 571 243.4 550 244.8 546.1 246 542 249.3 535.1 253 534.7 254 536.7 256 535 256 534 257 532 257 530.4 258 532 256.6 531.6 254 532.6 252 544 245.2 550 243.7 569 242Z"/><path fill="#56b3c9" stroke="#56b3c9" stroke-width="0.7" d="M511.3 215 519 214.8 525 215.4 534 218.5 544 219.9 550 222.3 562 221.8 571 223.1 571 224.6 559 223.7 550 224.1 541 221.7 532 220.5 525.3 217 510 216.5 498 219 494.3 223 480 227.2 469 224.7 461 221.9 450 221.2 437 222.4 432 224.6 411 227.6 388 227.2 378 228 350 227.4 332 222.5 320 220.9 310 222.4 302 224.9 289 226.7 270 224.9 260 221.9 250 222 247.9 221 251 219.6 251.3 218 253 217 256 217 256.7 216.3 256.9 217 258.5 218 266 219.8 270 222.7 290 225.3 303 223.2 318 217.7 325 218.4 335 217.2 336 217.3 338.9 222 340 222.4 346 222.5 350 224.4 358 225.8 366 225.8 370 226.8 379 227.2 389 226.1 405 226.2 409 224.7 422 223.8 429.2 221 441 220.1 445 218.8 449 218.3 465 219.5 472 222.2 481 224.1 486.3 223 489.5 220 495 216.8 511.3 215ZM557.6 244 571 243.4 571 245.2 550 246.4 538.9 253 538.4 254 539.4 255 538 255 536.7 256 534.7 254 536 252.4 542 249.3 546.1 246 550 244.8 557.6 244Z"/><path fill="#5eb7c1" stroke="#5eb7c1" stroke-width="0.7" d="M327 214 336 213.2 339.2 215 343 219.4 350.7 221 357 223.6 367 224 370 224.9 378 225.4 381.9 225 383.9 224 387 223.5 399 224.2 406 222.2 417 222.4 426 218.7 435 218.7 442.9 217 451 216.5 464 217.5 475 219.8 483 219.9 495 215.1 502 213.8 510 213.4 523 213.7 544 218.1 551 220.5 560 220 571 220.3 571 223.1 561 221.7 550 222.3 543 219.7 533 218.2 527 215.8 517 214.8 496 216.5 491 219 486.3 223 480 224.2 471.2 222 465 219.5 449 218.3 445 218.8 441 220.1 429.2 221 422 223.8 409 224.7 405 226.2 389 226.1 379 227.2 370 226.8 366 225.8 358 225.8 350 224.4 346 222.5 340 222.4 338.9 222 336 217.3 334 217.2 325 218.4 318 217.7 303 223.2 289 225.3 270 222.7 265 219.3 258 217.8 256.9 217 257 216 261 216 261.6 215.4 264.1 217 274 220 278 222.2 285 222 290 223.1 296 221 301 220.8 304.4 219 310 217.8 316 214.9 323 214.9 327 214ZM556 246 571 245.2 571 246.8 560.1 249 554 249.6 550 249.2 543.4 253 543.2 254 541 254 540 255 538.4 254 538.9 253 548.4 247 556 246Z"/><path fill="#67bbbb" stroke="#67bbbb" stroke-width="0.7" d="M335.2 209 336 208.1 341 209.5 344.3 216 347.2 218 354 219.2 356.2 221 359 222.1 367 222.1 372 223.2 376 223 381 221.2 397 221 403 219.8 412 219.7 420 216.9 433 217.1 450 214.8 461 214.6 478 217.3 499 212.5 510 211.8 521 212.3 530 213.4 550 217.9 557 217.5 566 218.2 571 217 571 220.3 560 220 551 220.5 544 218.1 523 213.7 510 213.4 502 213.8 495 215.1 483 219.9 475 219.8 464 217.5 451 216.5 442.9 217 435 218.7 426 218.7 417 222.4 406 222.2 399 224.2 387 223.5 383.9 224 381.9 225 378 225.4 356 223.3 350.7 221 342.2 219 339.2 215 336 213.2 328 213.8 323 214.9 316 214.9 310 217.8 304.4 219 301 220.8 296 221 290 223.1 285 222 278 222.2 274 220 264.1 217 261.6 215.4 263 214 263 212.1 265.2 215 270 217.3 285 218.7 299 217.8 307 215.5 309.4 214 310.9 211 314 209.8 318 209.4 331 211.1 334 210.3 335.2 209ZM569.3 247 571 246.8 571 248.7 550 251.8 550 252.6 553 252.7 555.7 254 543.2 254 543.4 253 550 249.2 554 249.6 560.1 249 569.3 247Z"/><path fill="#70c0b5" stroke="#70c0b5" stroke-width="0.7" d="M330.7 204 336 203.9 338 205.7 344.8 209 348.4 212 348.2 215 349.4 216 356 216.5 370 221.1 374 220.7 381 217.9 388 216.7 395 214.5 399 215 400 217.1 410 216.5 417 214.8 434 215.1 443 214.1 449 212.3 454 212.7 471 212.4 477 214 480 214.1 485.7 213 488 211 491 210.2 528 211.5 536 212.7 542.8 215 549 216.1 562 214.7 571 214.9 571 217 566 218.2 557 217.5 550 217.9 530 213.4 521 212.3 510 211.8 499 212.5 478 217.3 461 214.6 450 214.8 433 217.1 420 216.9 414.8 219 411 219.8 403 219.8 397 221 381 221.2 376 223 373 223.2 367 222.1 359 222.1 356.2 221 354 219.2 347 217.9 343.6 215 341.6 210 340 208.9 336 208.1 334 210.3 331 211.1 318 209.4 314 209.8 310.9 211 308.3 215 299 217.8 282 218.7 270 217.3 266 215.5 264 214 263 212.1 263 211 265.3 208.7 266.5 213 270 215.4 284 216.8 299 214.9 303 213.6 305.7 212 309.9 207 315 204.9 318 204.8 322 207.2 330 208.3 331 207 330.2 206 325.9 205 330.7 204ZM568.5 249 571 248.7 571 250.3 568.1 251 568.1 252 569.4 252.6 568 254 555.7 254 553 252.7 550 252.6 549.7 252 568.5 249Z"/><path fill="#79c4af" stroke="#79c4af" stroke-width="0.7" d="M333.7 201 336 200.1 339 200.6 343.6 204 344.5 206 347 208 356.9 213 360.9 216 370 219.1 374 218.3 381.5 215 383.1 214 382.3 212 384.5 211 392 209 398 209.8 407 213 423 213.4 436.2 213 447 210 456 210.6 476 209.1 482 209.4 487 208.1 493 207.7 498 206.5 512 209.4 538 210.8 544 212.6 550 213.5 561 212.7 571 213.1 571 214.9 562 214.7 549 216.1 542.8 215 536 212.7 528 211.5 491 210.2 488 211 485.7 213 480 214.1 477 214 471 212.4 454 212.7 449 212.3 443 214.1 434 215.1 417 214.8 410 216.5 400 217.1 399 215 395 214.5 388 216.7 381 217.9 374 220.7 370 221.1 356 216.5 349.4 216 348.2 215 348.4 212 347.6 211 343 207.9 338 205.7 336 203.9 330.7 204 325.9 205 330.2 206 331 207 330.6 208 329 208.4 322 207.2 318 204.8 314.6 205 309.9 207 305.7 212 302 214 299 214.9 282 216.8 269.2 215 266 212 265.3 208.7 266 208 268 208 268.9 212 270 213.1 276 213.4 284 212.3 290 212.8 292.7 212 289.1 209 289.6 208 292 206.8 303 206.6 315 202.6 324 202.6 333.7 201ZM568.1 251 571 250.3 569.4 252.6 568.1 252 568.1 251Z"/><path fill="#82c5a9" stroke="#82c5a9" stroke-width="0.7" d="M334.3 198 336 197.3 342 198.2 349.5 203 349.6 206 351.8 208 358 210.4 365.9 212 366.2 214 370 215.9 374.4 214 375 213 374 210.9 391 206.9 401.4 208 408 211.1 423 211.9 432 210.2 438 208.1 463 208.3 497 203.9 516 208.1 543 209.2 550 210.7 560 210.3 564.9 208 571 206.5 571 213.1 561 212.7 550 213.5 544 212.6 538 210.8 512 209.4 498 206.5 493 207.7 487 208.1 482 209.4 476 209.1 456 210.6 447 210 436.2 213 423 213.4 407 213 398 209.8 392 209 384.5 211 382.3 212 383.1 214 381.5 215 374 218.3 370 219.1 360.9 216 356.9 213 347 208 344.5 206 343.6 204 339.7 201 336 200.1 332 201.5 324 202.6 315 202.6 303 206.6 292 206.8 289.6 208 289.1 209 292.7 212 290 212.8 283 212.3 273 213.4 270 213.1 269 212.1 268 208 272 208 273 207 278 207 279 206 285 206 286 205 289 205 290 204 294 204 295 203 298 203 299 202 301.7 202 301.1 203 302 203.2 305 203.3 310.5 201 318 199.9 324 200.5 329 200.1 334.3 198Z"/><path fill="#8bc7a3" stroke="#8bc7a3" stroke-width="0.7" d="M339.1 189.9 340.3 189 339.1 189.9ZM333 191 334 190 339 190 337.6 192 338.2 195 344 196.2 350 200 356.5 202 357.3 203 355.5 206 355.9 207 357.6 208 362 208.8 370 208.3 379 205.7 390 205.2 400 205.7 412 208.9 422 208.6 430 205.8 437 205.9 445 204.3 451 204.6 458 204.1 460 204.7 462 206.3 465 206.5 472.3 205 478 202.3 486 200.7 492 201.8 500 201.9 527 206.2 530 206 536 203.7 538.1 204 539.9 206 542 206.5 550 206.6 558 204.9 565 205.1 571 204.4 571 206.5 564.9 208 560 210.3 550 210.7 543 209.2 530 208.3 517 208.3 500 204.3 496 204 463 208.3 438 208.1 432 210.2 422 211.9 408 211.1 401.4 208 391 206.9 374 210.9 375 213 374.4 214 370 215.9 366.2 214 365.9 212 358 210.4 351.8 208 349.6 206 349.5 203 343 198.8 340 197.6 336 197.3 329.6 200 324 200.5 318 199.9 310 201.1 306 203.2 301.1 203 301.7 202 303 202 304 201 307 201 308 200 310 200 311 199 313 199 318.7 197 319 196.4 322 196 314.4 195.6 317 193 322 193 323 192 328 192 329 191 333 191Z"/><path fill="#94c99e" stroke="#94c99e" stroke-width="0.7" d="M347 187 348 186 349.6 186 350.1 189 347.3 192 347 194 359.7 200 364 203.5 370 204.5 373 202.9 377 202.3 394 203.2 402 202.2 410 204 416 201.8 424 201.3 430 199.4 437 200.7 444 201.1 450 202.8 462 202.2 469 202.9 471 202.1 473 200 475.8 199 488 198.2 503 198.5 504.5 198 507 195.6 516 194.4 527 197.4 544 197.1 546.4 198 549 200.5 551 201 559 201.3 565 202.5 571 201.9 571 204.4 565 205.1 558 204.9 550 206.6 542 206.5 539.9 206 538.1 204 536 203.7 530 206 527 206.2 500 201.9 492 201.8 485 200.7 477 202.6 472 205.1 465 206.5 462 206.3 460 204.7 458 204.1 451 204.6 445 204.3 437 205.9 430 205.8 422 208.6 412 208.9 400 205.7 390 205.2 379 205.7 370 208.3 362 208.8 357.6 208 355.9 207 355.5 206 357.3 203 356.5 202 350 200 344 196.2 338.2 195 337.8 191 340.3 189 342 189 345 187 347 187ZM314 196 322 196 319 196.4 316.3 198 313.6 198.4 314 196Z"/><path fill="#9dcc9b" stroke="#9dcc9b" stroke-width="0.7" d="M352 185 353 184 354.2 184 354.4 187 357 189 357.1 190 352.2 192 351.8 193 361.4 198 370 201.1 391 201 397 200 407 200 407.5 198 410 196.7 417 195.9 420 194.6 423 194.4 435 195.8 444 198.3 450.6 201 455 201.3 461 200 462.8 199 462.3 198 463 197 468 196.5 472 194.8 478 194.2 483 192.7 489 192.8 493 195 497 195.2 502 194.1 507 191.7 517 190.6 532 194 537 193.7 542 192.6 545 192.8 554 195.4 554.9 196 553.7 197 555 198.1 571 199.7 571 201.9 565 202.5 559 201.3 551 201 549 200.5 546.4 198 544 197.1 527 197.4 518 194.8 515 194.4 507 195.6 504.5 198 503 198.5 488 198.2 475.8 199 473 200 471 202.1 469 202.9 462 202.2 450 202.8 444 201.1 437 200.7 430 199.4 424 201.3 416 201.8 410 204 402 202.2 394 203.2 377 202.3 373 202.9 370 204.5 364 203.5 359.7 200 347 194 347.3 192 350.1 189 349.6 186 352 185ZM555.8 195 557.1 195 555.8 195Z"/><path fill="#a6cf98" stroke="#a6cf98" stroke-width="0.7" d="M357 183 358.1 182 362.1 184 362.7 185 362.3 187 363 192 366.9 195 368.2 197 370 198.1 373 198 378 199 387 198.6 397 195.9 409 193.5 422 192 429 189.6 431 189.7 435 191.3 440 191.4 443.5 194 452 195.1 455 193.1 474 190.6 495 191 498.3 190 501 187.9 503 187.6 510 188.7 520 188 532 191 538 189.7 544 189.4 550 191.2 559 191.8 565 193.9 571 194.2 571 199.7 555 198.1 553.7 197 554.9 196 554 195.4 545 192.8 542 192.6 537 193.7 532 194 516 190.6 507 191.7 502 194.1 497 195.2 493 195 489 192.8 483 192.7 478 194.2 472 194.8 468 196.5 463 197 462.3 198 462.8 199 461 200 455 201.3 450.6 201 444 198.3 435 195.8 423 194.4 420 194.6 417 195.9 410 196.7 407.5 198 407 200 397 200 391 201 370 201.1 361.4 198 351.8 193 352.2 192 357.1 190 357 189 354.4 187 354.2 186 354.2 184 357 183ZM556 195 557.1 195 556 195Z"/><path fill="#add296" stroke="#add296" stroke-width="0.7" d="M514.2 179 516 178.7 526 180.3 537.2 179 538 179.3 538.2 181 535.4 185 535.8 186 537 186.1 541 185.5 553 181.2 555.7 183 556.4 188 566 188.7 571 189.8 571 194.2 565 193.9 559 191.8 550 191.2 544 189.4 538 189.7 532 191 520 188 510 188.7 503 187.6 501 187.9 498.3 190 495 191 474 190.6 455 193.1 452 195.1 443.5 194 440 191.4 435 191.3 431 189.7 429 189.6 422 192 409 193.5 397 195.9 387 198.6 382 199 377 198.9 372 197.9 370 198.1 368.2 197 366.9 195 363 192 362.3 187 362.7 185 362.1 184 358.1 182 360 182 361 181 363.3 181 367.5 184 369 187 367.1 191 367.4 192 370 193.8 378 193.7 382 195 386 195.2 390 194.9 400.5 191 408 191.3 413.3 190 416 186.9 419.8 185 414.7 183 416 182 427 181 437 182.5 443 185.3 450 184.6 465 187.7 470 186.3 473 186.2 486 187.4 491 189.1 493 188.1 495.6 185 499 183.9 507 183.2 512 183.8 516 183.4 516.6 183 511.2 182 511.6 181 514.2 179Z"/><path fill="#b5d493" stroke="#b5d493" stroke-width="0.7" d="M413.6 173 415 172.3 418.6 173 421.2 174 423.2 176 427 177.3 443 179.7 449 181.5 458 181.4 464 183.8 467.1 183 467 182 465 180 465 178.9 470.1 179 476 181 484 181.6 491 179.4 494 176.9 509 174 513 173.8 530 175.1 537 173.7 546 174.5 552 172.5 558 174.2 563 174.6 571 172.3 571 189.8 566 188.7 556.4 188 555.7 183 553 181.2 541 185.5 537 186.1 535.8 186 535.4 185 538.2 181 538 179.3 537.2 179 526 180.3 516 178.7 514 179.1 511.6 181 511.2 182 516.6 183 516 183.4 512 183.8 507 183.2 499 183.9 495.6 185 493 188.1 491 189.1 486 187.4 473 186.2 470 186.3 465 187.7 450 184.6 443 185.3 437 182.5 426 180.9 416 182 415 182.6 414.7 183 419.8 185 416 186.9 413.3 190 410.2 191 400.5 191 393 194 388 195.1 382 195 378 193.7 370 193.8 367.4 192 367.1 191 369 187 368.9 186 367.5 184 363.3 181 366 181 367 180 367.9 180 370 181.7 376 184.2 380 183.8 386 185 401 185.2 404 184 404 183 402 181.4 398.4 181 398 179.7 399.2 179 404 179 406 178.4 411.6 175 413.6 173Z"/><path fill="#bcd691" stroke="#bcd691" stroke-width="0.7" d="M543.6 165 546 164.4 554 165.3 571 165.3 571 172.3 564 174.5 558 174.2 552 172.5 546 174.5 537 173.7 530 175.1 513 173.8 509 174 494 176.9 491 179.4 484 181.6 476 181 470.1 179 465 178.9 465 180 467 182 467.1 183 465 183.7 462 183.4 458 181.4 449 181.5 443 179.7 435 178.9 426 177.1 423.2 176 421.2 174 415 172.3 406 178.4 404 179 399.2 179 398 179.7 398.4 181 402 181.4 404 183 404 184 401 185.2 386 185 380 183.8 375 184.1 370 181.7 367.9 180 373 180 374 179 379 179 380 178 383 178 384 177 388 177.1 395 175.8 397.4 175 397.6 174 399 173 402 173 403 172 406 172 407 171 410 171 411 170 414 170 415 169 421 169.8 427 168.9 432 174.4 441 177 445 177.1 448 175.6 454 175.7 460 174.9 471 176.6 480 175.3 484 173.9 493 173.1 502 173.4 519 171 527 172 535.8 171 543 168 542.9 166 543.6 165Z"/><path fill="#c2d88d" stroke="#c2d88d" stroke-width="0.7" d="M541.7 162 550 161.9 557 163.2 571 163.2 571 165.3 554 165.3 545 164.5 543.6 165 542.9 166 543 168 535.8 171 527 172 519 171 502 173.4 493 173.1 484 173.9 480 175.3 472 176.5 460 174.9 454 175.7 448 175.6 445 177.1 441 177 432 174.4 427 168.9 421 169.8 417 169 418 169 419 168 422 168 423 167 426 167 427 166 429 166 430 165 433 165 434 164 437 164 438 163 441 163 441.8 162.2 444.7 164 444 166.6 437 166 435.4 167 436.5 169 440 170.2 450 170.6 457.6 170 465 172 474 168.9 478 168.4 482.8 169 488.7 171 505 171 510 170.4 516 168.6 533 166.8 541.7 162ZM444.8 167 448.3 168 446 168.2 444.8 167ZM395 175 396 174 397.6 174 397.4 175 394.3 176 386 177 387 177 388 176 391 176 392 175 395 175Z"/><path fill="#c7d888" stroke="#c7d888" stroke-width="0.7" d="M570.7 148 571 148.3 570.7 148ZM562.9 154 571 154.2 571 163.2 557 163.2 550 161.9 543 161.7 540 162.6 535.3 166 533 166.8 516 168.6 510 170.4 505.6 171 489 171 482 168.8 477 168.4 464 172 457.6 170 450 170.6 440 170.2 436.5 169 435.4 167 437 166 444 166.6 444.7 164 442 162 444 162 445 161 447 161 448 160 450 160 451 159 453 159 454 158 455 161.3 458.2 162 460.3 164 468 165.8 480 165.2 488 163.3 497 164.1 505 166.1 517 164.1 528 164.2 528.9 164 529.3 162 534 158.7 544 156.8 552 157.9 559 157.3 561.9 156 562.9 154ZM564 158.9 568 160 569.7 159 566 158.2 564 158.9ZM445 166.9 446 168.2 448.3 168 445 166.9Z"/><path fill="#cbd884" stroke="#cbd884" stroke-width="0.7" d="M517.8 142 518.3 141 523 141 527 144 568 144 571 147 571 154.2 563 153.9 561 156.7 558 157.4 552 157.9 546 156.9 543 157 533.2 159 529.3 162 528.9 164 528 164.2 517 164.1 506 166 503 165.9 497 164.1 488 163.3 480 165.2 468 165.8 460.3 164 458.2 162 454.9 161 454.2 158 460 157.7 464 158.5 473 162.5 494 160.6 506.5 163 512 162.9 513 160 520 160.3 527.4 157 529.4 155 528 153 525 151.2 523 150.9 518 152 516 151.5 515 150.5 513 146.8 513 142.4 516 142.6 517.8 142ZM563.9 159 566 158.2 569.7 159 568 160 563.9 159Z"/><path fill="#d0d77e" stroke="#d0d77e" stroke-width="0.7" d="M512.7 141 518.3 141 517 142.4 513 142.4 513 146.8 516 151.5 518 152 523 150.9 525 151.2 528 153 529.4 155 527.4 157 520 160.3 513 160 512 162.9 506.5 163 494 160.6 474 162.6 471.2 162 468 160.1 462.5 158 455.6 158 457 157 459 157 460 156 460 154.1 465 155.3 473 155.3 474.5 156 475.5 159 478 159.7 486 159.6 493 158 499 158.4 506 160.1 512 159.2 512.7 152 512.7 141Z"/><path fill="#d4d277" stroke="#d4d277" stroke-width="0.7" d="M466.8 128 469.3 128 469.6 130 469 131.5 464 132.3 461.7 134 460 134.3 460 130.5 464 129.5 466.8 128ZM512.4 141 512.3 158 512 159.2 509 159.9 506 160.1 499 158.4 493 158 486 159.6 478 159.7 475.5 159 474.5 156 473 155.3 465 155.3 460 154.1 460 151.9 462 151.8 467 152.4 473 152.2 481 154.7 494 151.1 497 151.7 500 153.8 502 154.3 512 153.2 512.4 141Z"/><path fill="#d7cd70" stroke="#d7cd70" stroke-width="0.7" d="M465.5 127 469 126.3 471 126.9 471.9 128 472 131 472.9 133 475.6 134 460 134.8 460 134.3 461.7 134 464 132.3 469 131.5 469.7 129 469 127.9 467 127.9 464 129.5 460 130.5 460 129 465.5 127ZM477.2 134 480 133.6 481.6 134 477.2 134ZM486.5 136 491 135.6 494.4 136 494 137 492 138.5 490 138.8 488 138.3 486.5 137 486.5 136ZM491.4 141 494.2 141 491.4 141ZM512.1 141 512 153.2 502 154.3 500 153.8 497 151.7 494 151.1 480 154.6 473 152.2 460 151.9 460 144.6 468 147.4 478 147.7 482 150.7 484 151.4 487 151.3 495 149.2 504 151.2 508 151.2 510.5 150 511.1 148 509 146.3 504.4 146 504.8 145 509 144.6 512 143.4 512.1 141Z"/><path fill="#dbc869" stroke="#dbc869" stroke-width="0.7" d="M464.8 126 469 125.1 472 125.7 473.3 127 474 130.3 476 131.5 483 130.9 487.2 134 499.7 135 505 137.7 508 137.9 508 140 509 141 512.1 141 512 143.4 509 144.6 505 144.9 504.4 146 509 146.3 511.1 148 510.5 150 508.8 151 505 151.3 495 149.2 485 151.5 482.6 151 478 147.7 469 147.6 460.5 145 460 144.6 460 140.1 463.1 142 464.2 144 471 145 475.3 144 475.2 142 480 140 479.8 139 478 138.7 472 141 470 140.7 468.2 138 467.7 135 467 134.9 461.6 135 460 136.5 460 134.8 462 134.4 471 134.6 475.6 134 472.9 133 472 131 471.9 128 470 126.4 467 126.5 460 129 460 127.8 464.8 126ZM478 133.9 480 134.4 481.6 134 478 133.9ZM487 135.9 486.5 136 487 137.5 490 138.8 492 138.5 494 137 494.4 136 491 135.6 487 135.9ZM492 140.8 494.2 141 492 140.8Z"/><path fill="#ddc364" stroke="#ddc364" stroke-width="0.7" d="M467.3 124 471 123.7 473 124.3 474.6 126 475.8 129 477 129.6 483 129.4 489 130.8 493 130.4 495.9 132 497.8 134 508 136 508 137.9 505 137.7 499.7 135 487.2 134 483 130.9 475 131.2 473.9 130 473.3 127 471 125.3 467 125.3 460 127.8 460 126.5 467.3 124ZM461.6 135 467.7 135 468.6 139 470.8 141 478 138.7 479.8 139 480 140 475.2 142 475.3 144 474 144.6 470 145.1 466 144.6 464.2 144 463.1 142 460 140.1 460 136.5 461.6 135Z"/><path fill="#debd5f" stroke="#debd5f" stroke-width="0.7" d="M477.2 121 481 120.3 483.4 121 483 122.4 477.7 124 477 125 478 127.3 480 127.7 485 127 487 124.1 489.5 124 491.8 127 495.5 129 500.4 134 508 134.9 508 136 497.8 134 495.9 132 493 130.4 489 130.8 483 129.4 477 129.6 475.8 129 474 125.2 471 123.7 467 124.1 460 126.5 460 124.5 467 122.3 477.2 121Z"/><path fill="#dfb75a" stroke="#dfb75a" stroke-width="0.7" d="M463 117 467 116.8 470 119.2 472 120 482 118.7 488.6 120 493 123 493.7 126 497.8 129 502.6 134 508 134.5 508 134.9 500.4 134 495.5 129 491.8 127 490 124.3 489 123.9 487 124.1 485 127 480 127.7 478 127.3 477 125 477.7 124 483.5 122 483.4 121 482 120.4 468 122 460 124.5 460 120.3 463 117Z"/><path fill="#e0b155" stroke="#e0b155" stroke-width="0.7" d="M461.8 116 466 115.2 473 118.1 483 117.8 491 118.9 496 123 495.9 126 499.5 128 504 133.1 505.6 134 508 134 508 134.5 502.6 134 497.8 129 493.7 126 493 123 488.6 120 482 118.7 472 120 470 119.2 467.5 117 465 116.5 462 117.7 460 120.3 460 117.3 461.8 116Z"/><path fill="#e0ac52" stroke="#e0ac52" stroke-width="0.7" d="M462.8 114 467 114 475 116.9 484 117 492 117.9 500.7 123 499.1 125 500 126 506 125.5 508 124.7 508 134 505 133.7 499.5 128 495.9 126 496 123 491 118.9 483 117.8 473 118.1 468 115.7 465 115.1 462 115.9 460 117.3 460 115.5 462.8 114Z"/><path fill="#e0a74e" stroke="#e0a74e" stroke-width="0.7" d="M461.6 113 466 112.5 476 115.8 492.5 117 499 120.1 507 121.1 507 122 508 123 508 124.7 506 125.5 500 126 499.1 125 500.7 123 492 117.9 474 116.8 465 113.7 462.8 114 460 115.5 460 113.8 461.6 113Z"/><path fill="#e0a24a" stroke="#e0a24a" stroke-width="0.7" d="M460.7 112 468 111.7 478 115.1 492 116 501 119.2 507 119.4 507 121.1 499 120.1 491 116.7 475 115.6 467 112.6 463 112.6 460 113.8 460 112.3 460.7 112Z"/><path fill="#e09e47" stroke="#e09e47" stroke-width="0.7" d="M461.2 111 467 110.7 471 111.3 479 114.3 489 114.6 503 118.2 507 118 507 119.4 501 119.2 491 115.8 477.4 115 468 111.7 464 111.6 460 112.3 460 111.1 461.2 111Z"/><path fill="#e09a45" stroke="#e09a45" stroke-width="0.7" d="M462.5 110 472 110.1 475.6 111 480 113.2 488 113.3 504 116.4 506 116.1 507 115.2 507 118 503 118.2 489 114.6 479 114.3 473.9 112 469 110.9 460 111.1 460 110.1 462.5 110Z"/><path fill="#e19643" stroke="#e19643" stroke-width="0.7" d="M461.5 109 469 108.4 476 109.6 481 111.7 488 112 499 113.9 504 113.5 507 110.7 507 115.2 506 116.1 504 116.4 488 113.3 480 113.2 473 110.3 468 109.7 460 110.1 460 109 461.5 109Z"/><path fill="#e19241" stroke="#e19241" stroke-width="0.7" d="M460 108 468 107.1 476 108.5 482 110.5 496 111.8 501 111.5 505 109 507 108.5 507 110.7 503 113.8 498 113.9 488 112 481 111.7 474 109.2 468 108.4 460 109 460 108Z"/><path fill="#e29142" stroke="#e29142" stroke-width="0.7" d="M463.6 106 470 106.2 484 109.7 492 109.2 498 109.6 507 106.7 507 108.5 505 109 501 111.5 495 111.8 482 110.5 477 108.7 469 107.2 460 107.9 460 106.4 463.6 106Z"/><path fill="#e49347" stroke="#e49347" stroke-width="0.7" d="M472.5 94 476 93.7 477.8 95 477.4 96 476 96.8 473 97.3 470.7 96 470.8 95 472.5 94ZM460 104 474 105.6 484 108.6 493 107.2 498 107 507 105.1 507 106.7 498 109.6 492 109.2 484 109.7 469 106 460 106.4 460 104Z"/><path fill="#e6964b" stroke="#e6964b" stroke-width="0.7" d="M470.9 93 477 92.1 481.2 95 481.5 96 474 99.6 472 99.5 469.1 98 466.8 96 466.7 95 467.6 94 470.9 93ZM473 93.9 470.8 95 470.7 96 472 97 475 97.1 477.4 96 477.8 95 476.9 94 473 93.9ZM460 102 460 101.3 464 103 469 103.9 476 103.8 484 107.1 507 103.6 507 105.1 498 107 493 107.2 484 108.6 474 105.6 460 103.9 460 102Z"/><path fill="#e89952" stroke="#e89952" stroke-width="0.7" d="M460 89 460 88.4 469 91.7 478 90.4 483 93.2 492 94.5 494 94.1 497 92.1 499.2 92 501 93 501.6 94 501.5 96 501 96.5 495 96 488 97.6 481 98.1 479 99 478.5 100 479.7 103 484 104.9 488 105.3 501.2 103 502.4 101 505 100.6 507 100.7 507 103.6 495.6 105 485 107.2 482 106.7 476 103.8 470 104 464 103 460 101.3 460 89ZM471 93 467.6 94 466.7 95 466.8 96 469.1 98 472 99.5 474 99.6 481.5 96 481.2 95 477 92.1 471 93Z"/><path fill="#e9a261" stroke="#e9a261" stroke-width="0.7" d="M460 83 460 82.3 464.9 84 465.3 87 467.6 89 470 90.1 472 90 478 88.2 485 90.4 490 88.9 499 89.4 502.7 92 505.1 97 507 98.5 507 100.7 503 100.7 501.2 103 489 105.1 486 105.3 483 104.7 479.7 103 478.5 100 479 99 481 98.1 488 97.6 494 96.1 501 96.5 501.7 95 501 93 499 91.9 497.3 92 494 94.1 492 94.5 483 93.2 478 90.4 471 91.7 468 91.5 460 88.4 460 83ZM488 98.9 482.8 100 482.3 101 483.1 103 485 103.6 488 103.9 493 103.2 496.8 101 496.9 100 495 98.8 488 98.9Z"/><path fill="#ebab70" stroke="#ebab70" stroke-width="0.7" d="M466.9 79 470 78.3 472.9 79 474 80 474 82.7 475 83.2 483 82.6 493 86.2 496 86.3 499 85.4 501 85.7 503 87.7 505.8 94 507 95.4 507 98.5 505.1 97 502.7 92 499 89.4 490 88.9 485 90.4 478 88.2 472 90 469 89.7 465.3 87 464.9 84 460 82.3 460 80 464 80.7 466.9 79ZM487.3 99 495 98.8 496.9 100 496.8 101 493 103.2 488 103.9 485 103.6 483.1 103 482.3 101 483 99.9 487.3 99ZM488 100.7 487.3 101 487.5 102 489 102.2 492.3 101 491 100.2 488 100.7Z"/><path fill="#ecb47f" stroke="#ecb47f" stroke-width="0.7" d="M479 68 480 67 485.5 67 485 69.1 482 71.9 480 71.3 478 68.8 477.4 68 479 68ZM483.6 76 486 76.4 489.5 78 490.2 79 488.2 81 488.2 82 491 83.5 495 83.6 500 80.9 502 81 503.3 84 507 86.4 507 95.4 505.8 94 502.5 87 500 85.4 494 86.3 484 82.7 475 83.2 473.7 82 474 80 471 78.4 468 78.6 464 80.7 460 80 460 77.7 465 76.7 472 76.6 478 78.2 483.6 76ZM487.3 101 490 100.1 492.3 101 489 102.2 487.5 102 487.3 101Z"/><path fill="#eebd8e" stroke="#eebd8e" stroke-width="0.7" d="M485.5 67 488.9 67 489.3 68 486.9 72 488 74 491 75.2 497.1 76 497.5 77 497 78.1 501 77.6 505.4 79 506 79.9 506 85 507 86.4 504 84.8 502 81 501 80.8 495 83.6 492 83.7 489.6 83 488.2 82 488.2 81 490 78.7 489 77.7 485 76.1 483 76 478 78.2 473 76.8 469 76.5 460 77.7 460 71 461.2 69.8 464 70.8 467.9 74 472 74.5 475 73.4 475.8 72 475.6 70 474.5 68 477.4 68 480 71.3 482 71.9 485 69.1 485.5 67Z"/><path fill="#efc69d" stroke="#efc69d" stroke-width="0.7" d="M488.9 67 497 67 493.1 71 498 72.7 503.6 76 506 76.5 506 79.9 505.4 79 502 77.8 497 78.1 497.5 77 497.1 76 491 75.2 488 74 486.9 72 488.9 69 488.9 67ZM462 69 463 68 466.1 68 467 70 469 71.2 471 71.5 472.1 71 472.5 70 471.5 68 474.5 68 475.6 70 475.8 72 474 74 469 74.3 467 73.5 464 70.8 461.2 69.8 462 69ZM505.9 81 506 83.3 505.9 81Z"/><path fill="#f2cda9" stroke="#f2cda9" stroke-width="0.7" d="M496 68 497 67 503 67 503.8 67.8 501.4 70 504 72 506 72.2 506 76.5 503.6 76 498 72.7 493.1 71 496 68ZM466.1 68 471.5 68 472.5 70 472.1 71 471 71.5 469 71.2 466.9 70 466.1 68Z"/><path fill="#f4d5b5" stroke="#f4d5b5" stroke-width="0.7" d="M503.8 67.8 506 70 506 72.2 504 72 501.4 70 503.8 67.8Z"/><path d="M247 277.9 250.1 278 247 277.9M238 278.9 242.1 279 238 278.9M233 279.8 234 280.2M220 282 223 282.2M223 281.5 220 282M211 284.8 209.2 286 210 286.2M302 273.7 296 275.5M294 275.8 292.9 276 294 276.1M253 277 259 277.2M259 276.6 253 277M232.1 279 229 280.1 224 280.4M212.3 283 205 287 194 290 196 290.1M198 289.1 201 289.3M299 273.7 297 274.2M295 274.5 290 275.5M286 275.7 283 275.5M278 275.5 271 276.3M242 277.2 237 277.5M232 277.8 217 280.3 207.8 283 202.9 286 199.4 287 188 288.4 178 291.7 173 292.4M104 281.3 107 281.9 110 281.6 114.2 280 115.7 279 115.9 278 109 273 106 271.6 103 271.1M248 275.3 215 278 199 284.4 197 284.7 192 283.6 189 283.7 184 285 180 288.2 173 288.2M109 283.2 114 282.3 118.3 280 120 278 120 275 120.7 274 125.4 271 125.6 270 112 268.9 103 269.3M371.5 258 370 257 368 256.9 364 258.3M248 274.2 235 274.2 228 275.4 221 274.2 215 274.2 210 276 208.2 278 205 279.5 180 281.8 177.5 283 176 284.7 173 283.7M110 284.3 113.3 284 119.6 282 126.3 277 125.7 275 126 273.9 129 272.3 136.5 270 132.9 269 131.3 267 129 266 126 266.1 121 268.1 111 266.3 103 267.5M374 258.3 374.5 258 370 255 368 255.1 358 259.4M322 266.4 317 266.4M315 266.9 313 267.4M257 273.3 235 272.5 229 273.2 224 271.7 222 271.7 215 272.5 204 276.9 192 278 173 281.6M147 266.7 144 266.7 137.5 265 131 264.5 109 264.5 102 265.5M142.3 271 144.3 271 146.6 272 146.2 273 145 273.3 141.4 273 140.3 272 142.3 271M147 277.5 145.1 277 147 275.8M110 285.4 126 283.6 128.4 282 128.5 280 130.4 278 131.3 275 133 274.5 137 275.3 140.7 277 143.1 279 147 280.1M377 258.2 378 258 371.4 254 369 253.5 357.9 257 353.8 260 349 262.3M327 265.4 318 264.7 312 266.5M298 270.2 288 271.5M279 271.9 265 272.6M263 272.4 238 271.4 224 270 218 270.3 215 270.7 205 274.4 191 276.2 183 278.4 173 279.9M147 265 144 264.5 140.9 262 139 261.8 129 262.9 109 262.1 102 262.8M104 285.6 112 286.7 125 285.7 128 285 133 282.6 142 281.7 146.1 283 144.6 285 147 285.9M380 258.3 381.8 258 380 256.8 370 251.8 352 256.5 350 256.2 349 254.7 346 254.2 344.7 255 346.7 257 342.3 260 345.5 262M332 265.1 327 263.5 318 262.6 312.6 265 301 268.4 298 268.8 292 267.7 286.8 270 284 270.5 269 268.6 255 268.3 245 270.2 226 269M222 268.9 215 268.8 205 272.8 192 273.9 182 277.1 173 278.4M147 261.8 142 260.5 132 260.8 125 260.3 116 261.1 102 260.6M104 286.9 108 287.9 113 288 128 287.3 136 285.7 142 287.3 147 287.5M242 282.7 244 282.9 247 281.8M383 258.4 385.5 258 382.9 256 370 249.3 350 252.1 345 252 336 253M334 253.6 330.1 255 333 257 333 258.1 328 259.1 323 257.8 320 258.1 314 260.6 306 262.7 302.7 266 300 266.9 293 265.3 288 265 276 266.3 265 265.6 252 266.9 245 268.9 215 267.3 205 270.5 199 271.6 188 271.3 185.8 273 183 274 181 273.9 177 272.5 175.8 273 176.3 276 173 276.5M147 259.7 143 259.1 135 259.5 126 258.7 117 259.5 107 259.4 102 258.7M104 288.7 109 290.2 116 289.4 123 289.8 125 290 125 291 126 291.6 133 291.1 141 292.2 143 291.7 144 289.7 147 289M173 300.4 176 297.6M216 288.1 231 286.2 244 286 249 283.1 255 282.2 259 280.6M388 257.2 376.1 250 370 247.9 361.5 248 352 250.3M338 251.8 335.8 252M327 254.6 318 256 314 258.5 303.5 262 300 264.6 294 264M248 266.8 244 267.7 218 265.4 205 268.7 197 269.9 183 265.9 173 265.6M147 258.3 142 257.6 108 257.8 102 257.4M105 292.4 111 293.4 118 291.9 122 294.2 125 294.7 134 292.9 140 294.3 147 294.1M173 303.2 176 302.8 178.8 299 187 295.6M189 295 192 294.6 200 296.3 203 296.1 211 294.5 212.7 291 215 290.1 221 289.9 227 291.7 235 290.8 238.1 290 239 288.9 245 288.7 247.3 286M256 283.3 262 281.1 269 280.6M391.3 257 389 255.1 376 248.4M372 247.4 368 246.1 364 246M339 250.6 335 251.2M316 255.6 311 258.1M303 260.9 299 262.7 295 262.9M234 265.6 228 264.7 218 261.6 216.4 262 213 265.1 205 266.9 199 267.4 196 266.8 190 263.4 181 262.5 173 262.9M147 256.8 130 255.9 102 256.3M105 295.3 109 295.7 117 295.4 126 297.5 134 298.1 143 296.4 147 297.3M173 306.8 181 304.8 182.2 304 184.8 300 188 298.6 196 298.4 213 300 216.2 299 218 296.4 224 297.3 228.3 297M230 296 229.3 294 231 293 245 290.7 248 286.9M261 282.4 269 281.7M394.3 257 390 253 381 248.7 373 246.5 368 244.2 367 244.6M337 249.4 334 250.3M328 252.2 321 253.4M303 259.7 299 261.3 296 261.7M235 264.6 226 262.5 221 260.2 218 259.6 215 259.9 211 263 205 263.6 199 263.5 196.2 262 192 261 180 260.4 173 261.4M147 254.8 132 254.8M129 254.7 102 255.1M105 298 116 297.2 119.3 298 122 300.1 129 301.5 136 301.4 142 299 147 300.1M174 308.8 180 308.5 181 309.2 181.4 309 180.6 308 188.1 305 195.4 301 197 300.7 199 301.1 200.9 305 202.2 306 205 307 207 307 209 306 209.1 304 209.8 303 215 301.7 220 299.3M237.4 295 245 292.2 247.9 290 250 286.7M397 257 394.9 254 391 251 386 249.1 382.4 247 376 246 371 243.7M335 248.6 331 250.4M329 250.9 320 252.4M313 254.6 310 256.2M303 258.5 296 260.5M236 263.6 227 261.2 222 258.8 218 257.9 215 257.9 205 261.2 186 259.6 180 258.5 173 259.5M147.4 253 142 252.6 136 253.6M122 253.8 102 253.8M105 300.6 108 300.8 113 303.1 118 303.7 118.6 304 116 306M133 306 134 306.2M200 310.3 202 309.7 206 310.1 211 308.4 215 305.7 216.3 303 219 300.7M246 294.1 246.3 293 249.8 290 252 286.6M273 282.4 276 280.8M400 257 395 251.5 386 245.9 383 244.7 377 243.6M334 247.8 330 249.5 319.5 251 316 252.3M310 254.9 307 256.4M302 257.6 292 260.4M239 262.9 228 260 222 257.4 217 256 215 256 205 259.2 191 258.4 180 256.5 173 257.3M141 251.6 135 252.6M124 252.8 102 252.2M210 310.3 215.5 307M216.7 306 221.2 301M248.6 293 251 291 254 286.5M276 282.3 279 280.7M404 257.4 405.2 257 399 252 397 249.4 392.5 247 388.9 244 387 243.6M344 246.5 338 246.3M331 247.7 318 249.9 313 252.3M308 254.6 304 256.1 296 257.3 291 259.5M258 260.1 255 260.4M243 262.4 229 259 218 253.7 215 254 212 255.5 205 257.5 193 257.2 186 255.1 180 254.6 173 256.1M137 251.1 133 251.6M125 251.6 107 250.6 102 250.8M213 310.1 220.6 305 221.8 303 225.1 300M251 293.2 253.3 291 256 286.5M279 282.3 282 280.6M408 257.4 410 257 410.9 255 404.6 252 403.7 250 402 248.2 395.6 244 388 242.6M349 245.3 339 245.1M319 248.6 304 254.8 295 256.1 290 258.3 286 259.1M258 258.9 251 260.2M248.2 261 245 261.5 234 259M229 257.8 218 252.1 215 252.3 205 256 194 255.7 188 253.6 180 252.7 173 254.7M140 249.6 130 250.8M127 250.7 119 249.2 101 249.3M215 310.4 218 307.9 223 305.1 225.6 302 229 299.6M253.9 293 255.9 291 257.7 287M280.7 283 284 281M411 257.5 414.3 256 414.5 255 408.7 252 402 244.4 396 242.5M351 243.9 341 243.8M315 248.6 305 253 299 254.4 294 254.6 288.8 257 284 258.3M256 257.8 245 259.9 234 257.8M231 257.3 227.7 256 222 252.2 218 250.9 213 251.6 205 254.4 195 254 189 251.4 180 251.3 173 252.2M147 248.6 140 248.2 128 249.5 118 247.5 111 247.8 100 247.2M216 311.1 224.4 306 233 298.6M258 292.2 260.1 286M283 283.3 287 280.7M415 257.4 418.2 256 417.6 254 411 251 407.8 247 407.4 244 406.4 243 394 241.2M355 242.5 346 242.8M324 245.7 319 246.4M313 248.2 301 252.5 288 254.1 286.1 255 284.2 257 280 257.8M261 257 254 256.4 245 258.3 233 256.5 230 255.5 228.3 253 218 249.6 205 252.1 200 252.5 197 252.2 194 250 189 248.9 180 248.9 176.7 250 173 250.3M147 247.2 139 246.5 128 247.7 118 245.5 100 245.7M218 311.3 223 309.4 233.7 301 235.3 299M260.5 292 262.3 286M287 283.1 290 280.7M414 258.7 427.6 258 428.6 257 426.8 254 424 253 420 252.9 414 250.2 411.4 247 410.5 243 409.5 242 403 240.8 393 240.1M367 239.4 365 239.6 362 238 359.3 238 352 241 348 241.7M325 244.5 318 245.4M316.3 246 302 250.8 293 251.9 286 252 280 253.3 275 253.5 274.1 254 274 256 267.4 256 264 255 262.9 253 260 252.6 257 253 253 254.6 245 256.4 234.3 255 234.2 253 232.8 252 218 247.7 201 249.4 195 247.2 184 246.1 180 244.2 176 244.9 173 244.3M147 245.3 140 244.9 128 245.9 118 243.9 100 244.4M219 312.5 224 311.2 226 310 228 308 231.3 306 233.5 303 236.3 301 238.3 298M262.6 292 264.7 286M290 283.1 292.1 281M411 259.9 430.4 261 432.8 258 435 256.7 439 255.9 445 256 448.4 255 449.9 254 450 253 449 252 447.1 251 439 249.9 437.2 250 437.2 251 433.3 252 427.3 252 423 250 420 250 417 248.2 414.9 246 413.9 242 412.6 241 403 239.4 390 239.2M369 238.4 366 236.7 360 236.4 355 237.6 350 240.2 341 240.6 336 241.4M327 243.3 318 244.1 306 248.3 294 249.9 281 250.7 262 249.7 258 250.1 253.7 251 250 253.4 245 254.5 229 249.3 224 246.5 214 244 211 244.2 205 246.5 203 246.7 200.5 246 198.3 244 195.7 243 173 241.5M147 243.2 128 244.6 120 242.8 112 242.8 107.5 242 107.2 241 108.7 240 108 239 107 239.1 105.8 241 100 242.3M219 314.4 227 312.2 231.6 309 234 306.9 235.5 304 241.5 298M264.9 293 264.7 291 267 285.9M292 283.3 294.3 281M405 261 414 262.4 431 262.6 446.7 260 448.3 259 448.4 258 449.6 257 452 256.2 454 256.1 457 257.5 458.9 256 456.2 254 455.1 251 452.7 248 450 247.1 442 248 420 247.1 417.9 244 419 241 417 239.7 405 238 397.6 238 393 236.9 386 238.5M384 238.5 380.8 238 379 236.9 371 236.4 368 234.2 366 233.9 363 234 357 235.8M354 236.6 348.1 239 345 239.2 339 237.5 336 235.9 334 235.8 332.8 236 332.5 237 333.4 240 333.2 241 330 242.1 318 242.6 305 246.9 294 247.5 290 247 289.1 245 287 244.7 285 245.2 284.3 246 284.6 247 283.4 248 281 248.7 275 249 266 247.5 260 247.5 252 249.4 245 252.7 239 250 231 248 227 244.2 222.6 242 218 240.6 213 240.7 205 242.6 189 239.9 183 240.2 173 239.2M209 229.2 214 227.6M570 234.6 566.9 235 565.3 236 565.6 237 570 237.4M288 235.9 285.6 237 288 239.4 292 238.9 293.7 238 294.2 237 293 235.8 288 235.9M198 236.7 195 237.9 189 237.5 182 238.3 179.6 238 177.8 237M541 237.8 539.6 239 541 239.3 544.3 239 544.9 238 541 237.8M549 237.9 550.2 238 549 237.9M204.3 239 207.1 239 205 239.8 204.3 239M147 240.8 143.4 242 139 242.5M137 242.8 130 243.2 122.2 242 118 240.9 112.8 238 104.3 236M510 252.9 508.8 256 509.5 258M512 258.2 513 256.9 511.5 254 510 252.9M225.8 319 227.8 317 233.2 316 233.9 315 231.6 313 231.6 312 236.3 308 238 304.9 242.1 300 245 297.8 247.4 297M266 293.4 267.2 293 267.1 290 269 285.8M294 283.5 295.2 283 296.4 281M324.6 273 328 273.4 331 272.7M349 269.4 351.4 269M387 262.6 393 262.6 400.3 264 411 264.4 432 264.2 436 264 449 261.3 457 260.6 460 259.4 463.9 256 464.1 255 461.3 252 459.9 249 469 248.9 471 247.8 471.1 246 465 242.4 462 242 447.3 246 442 246.3 435 244.8 432 242.7 428 241.6 423 238.8 399 236.3 394 235.2 381 234.3 376 232.6M350 236.5 341 236 336 233.6 325 233.7 323.5 234 324 234.9 328 236.8 328.6 238 328 238.4 324 238.3 318 236.7 317.5 237 317.2 240 316 240.8 309.9 242 304 244.2 299 244.6 290.2 242 287 240.3 282 241.5 277 244.1 270 243.6 265 242.1 258 245.2 250.4 245 248.6 247 245 249.4 239.2 245 234 244.5 223 240 221.3 239 219 235.9 213 236.2 207 234.5 203 234.6M570 233.5 566 233.5 558 235.3 554.5 235 549 233.2 543 234.7 535 232.9 531 232.5 529 233 529.3 236 525.4 238 526.4 240 526.2 241 528 241.7 542 241.1 550 239.2 561 237.9 565 238.1M302.5 235 306 234 306.9 235 307.1 239 305 240.9 302.9 241 299.2 238 299.6 237 302.5 235M147 238.2 141.5 239 138 241 135 241.4 131 240.5 124 240.3 122 239.6 119 237 110.9 236M482 256.9 479.2 258 479.2 259 482 260.1 484 259.4 484.6 258 482 256.9M516 258.4 516.6 257 515.9 254 516.3 250 519.5 248 520.9 245 517 242.6 512 244.6 506 245.8 502.3 248 497 249.8 479 251.5 477 250.5 475.8 249 476.7 246 470 240 461 236.2 459 236.1 456.8 237 456.2 238 456.4 240 455.2 241 448.3 244 444 244.6 437.7 242 438.7 240 438.5 239 437 238.6 410 236.1 378 231.8M346 235.2 341 234.3 336 231.6 330 232.2 316 232.3 311 230.7 308 230.7 299 233.2 276 236.2 273.9 237 274 239 272 240 264 240 256 242.9 249 242.8 245 243.7 234.9 242 231 240.2 225 238.6 223.7 237 223 234.3 218.5 230 221 226M489 262.2 486 261.2 484 261.4 483.5 262M472 263.2 473.2 261 472 259 473.3 258 478 256.4 480 254.7 486 255.4 497 253.5 501.9 254 501.9 256 501 257 491.1 259 489.8 260 490 261.2M271 298.5 268.9 300 268.6 301 270 302.2 274 302.7 276.8 301 276.9 300 275 298.5 273 298 271 298.5M239 315.2 235.2 312 238.9 309 240.5 306 243.8 304 245 300.8 248 300.8 250 300 255 296.4 261 296.2 268 294.7 269.4 293 270 288 272 287.1 273 287 274.2 288 273.1 290 273.6 291 277 291.7 279.2 291 279.4 289 281.5 287 281.7 286 288 285.5M297 283.3 298 282.5 299 279.9M308 277.2 318 274.9 330 276 337 275.2 346.5 275 352.7 273 354.6 271 357 269.6 363.6 268 364.2 266 368 264.7 370 264.7 369.9 266 372 267 378 265.7 385 265.7 392 264.8 401 266 412 266.2 418 265.6 439 265.5 452 262.6 462 261.7 466 262.8 468 264.2M570 229.8 565 230.8 561 232.7 559 233 554 230.8 551 230.4 542 231.6 530 230.3 520 231 519.4 232 520 233 522.6 234 522.3 235 517 236.2 508 239.3 497.4 240 496.8 241 498.5 242 498.4 243 497 243.3 495.1 243 494.4 242 495.6 240 494 239.5 489 239.4 484 237.5 480 237.6 477.4 233 475 232.2 471 232.7 467 234.3 462 232.9 451 232.3 439 234.1 434 235.4 427 235.8 420 235.4 414 234.3 408 234.3 398 232.2 392 232 387 231.2M348 234.4 345.2 234 339.2 231 336 230.2 327 230.8 320.8 230 317 228.3 313 228.5 307 229.1 299 231.4 290 232.9 280 233.6 273 233.3 267 235.5 261 235.2 253.5 238 255 240.1 244 241.1 227.3 237 223.1 230 224.3 225M147 236.7 139 236.4 133 237.8 129 238 126 237.5 124.3 236M493 236.9 494 237.4 494.5 237 493 236.9M474.9 239 477 238.2 479.1 239 478.7 240 477 240.4 475.5 240 474.9 239M483.6 248 486.3 248 485 248.8 483.6 248M518.9 258 519 255 521.2 251 525 248.2 528 244.9 532 243.3 539 242.4M547 241.2 552 240.1M560 239.2 564 239.1M281 301.4 282 299.7 288 298.4 290.7 296 290 294.7 285.3 292 286.3 289 293.9 285 299 284.2 301.4 281 318 276.9 322.5 277 330 278.3 335 278.3 337.8 280 340 280.1 344 278.3 353 276 361 271.4 372 269 392 266.5 403 267.8 433 266.9 434.6 267 436.2 268M257 306.6 254 305.7 252.5 304 252.4 303 255 301.3 259 301.4 263.4 303 264.4 304M570 227.9 561 229 547 228.6 539 229.5 531 228.6 526 228.7 524.4 228 523.8 226 522.2 225 518 224 513 224 510 222.8 506.6 223 505.3 224 510 228.4 511.5 229 512.3 230 512 231 506 232.9 503 234.6 496 233.4 489 234.8 486 234.8 483 234.2 479 231.8M473 230.9 468 230.9 463 229.2 459 229 445 231.7 438 231.9 430 233.7 408 232.6 398 230.5M396 230.5 391 230.6M349 233.4 347.5 233 345.5 231 342.4 230 336 228.9 328 229.2 322 227 318 226.3 306 227.8 290 231.2 284 230.7 278 231.6 271 231.4 266 232.6 262 232.1 256.3 235 245 238.6 230.7 235 226.8 229 227.6 224M522 258 522 255.5 524 253.5 525.1 251 529.3 247 532 245.4 538 243.6M292.1 299 295.4 295 295.4 294 293.5 291 294 289.7 303 286.4 308 283.6 316 280.5 324 281 331 280.6 338 282.4 346 282.8 348.8 282 357.9 276 364 273.1 374 270.3 383 269 393 268.8 400 269.9 400.4 271 404.2 273 403.7 274M308 299.5 303 299.4M565 227.1 553 227.4M549 227.3 537 227.5 519 221.7 507 221.6 504 222 502 223 501.4 224 502.3 227 497 230.2 489 231.5 480.8 231M473 229.9 469 229.6 462 227.5 454 226.7 442 227.8 440.2 229 436.2 230 420 231.6 410 231.2 401 229.6M355 231.2 351 231.6 345 229.2 336 227.3 330 227.5 318 224.9 305 226.8M301 227.7 290 229.7 282 229 260 230.3 256.9 231 255.7 233 254.3 234 245 235.8 243 234.7 238.6 234 237.3 233 237.2 231 232 229 231.8 228 233.9 226 233.6 225 232 224M525.6 258 526 256 527.7 254 528.1 252 532 248 541 244.3M344.5 286 346.9 286 345 286.5 344.5 286M350 285.5 347.6 285 352 283.4 359.2 278 364.6 275 376 271.8 380 271.9 381 273.3 383 273.7 390 272.8 393.4 275 394.4 276 394 276.4M321 295.2 318.9 295 318.4 293 317 291.9 313 291.9 303 294.1 300 293.5 297.2 291 297.9 290 300 289 308 287.5 316 282.9 320 282.7 339 287.6 345 287.3M561 226.2 538 225.6 528 222.5 524 220.4 518 219.7 510 219.6 501.8 221 500 222.3 497.9 225 495 226.6 485 229.7 481 230M478 229.4 470 228.1 460 224.8 457 224.4 451 225.2 441 225.4 422 229.7 408 229.6M357 229.8 348 228.9M343 227.6 336 225.6 330 225.9 319 223.4 312 224 307.9 225M295 227.5 289 228.5 281 227.5 270 228.1 245 227.4 240.4 226 239.3 223 239.8 221M530 257.1 530.8 256 530.8 253 531.5 252 536 248.9 544 244.8M369 281.3 362 281.4 360.9 281 362 279.9 365 279.3 369 279.9 372 279.7M565 225.2 548 224.7 531 221.4 524 218.1 510 217.4 500 219.7 496.7 223 494 224.6 482 228.5 480 228.5 467 225.3 461 223.1 457 222.6 439 223.7 434 225.4 427 226.2 420.1 228 412 228.7 407 228.4M360 228.8 350 228.2 336 224.3 330 224.1 321 221.9 311 223 306 224.5M298 226.1 289 227.4M285 226.9 279 226.2 270 226.2 260.7 225 257 223.6 247 223.8 244 222.3 244 219.7M534 255.3 533.2 254 534 252.5 541 248.8 545 245.7M570 224.2 560 223 550 223.5 541 220.9 532 219.6 526 216.6 515 215.8 510 216 497 217.9 495 219 491.3 223 481 226 470 224.1 462 221.1 449 220 443 221.3 435 221.9 430.7 224 405 227.3M367 227.1 360 227.4 350 226.6 337 223.1 334 221 332 220.5 318 220.1 302 224.4M298 224.9 289 226.3 270 224.1 262 220.8 256 219.9 253.4 218M537 255.1 535.8 254 536.3 253 549 245.5M551 245.2 570 244.1M570 222.8 561 221.5 550 222 544 219.6 534 218.1 527 215.6M523.3 215 514 214.7 497 216 493.8 217 490.3 219 486 222.5 481 223.5 472 221.7 465 219.2 449 218 445 218.4 440 220 429 220.4 422 223.4 417 224.3 409 224.2 404.5 226 391 225.8 384 226.4M369 226.2 366 225.5 358 225.5 350 223.9 346.4 222 340 222 338.7 221 336 216.5 325 217.9 318 217.1 303 223 289 225.1 270 222.4 265.1 219 257.8 217M539 254 539.5 253 550 246.7 570 245.4M570 220.5 560 220.1 550 220.5 545 218.4 528 214.8M516 213.5 503 213.8 496 215 483 220.1 474 219.8 466 217.9 456 216.6 447 216.8 436 218.7 426 218.8 421 221.4 417 222.6 407 222.3 400 224.3 388 223.7 379 225.6 356 223.5 350.2 221 342 219.2 339 215.2 336 213.4 328.9 214 324 215.1 316 215.1 310 218 305 219 301 221.1 296 221.3 290 223.3 285 222.2 280 222.6 277 222.1 273.1 220 270 219.3 261.9 216M543 253.3 550 249 554 249.5 559 249 570 246.8M570 218.5 566 219 557 218.1 550 218.4 546 217.5M542 216.6 535 214.7 525 213.1M513 212.3 501 212.7 478 218.2 474 218 459 215.1 444 215.9M441 216.2 433 217.6 422 217.7 413 220.4 404 220.5 398 222.1 382 221.9 377 223.4 374 223.7 370 223.5 367 222.6 359 222.6 353 219.9 346 218.2 343.3 216 339.3 210 337 209.4 336 209.5 334 211.2 331 211.7 318 210.3 314 210.7 311.6 212 311.2 214 309 215.8 299 218.6 281 219.4 270 217.7 264 214.9M548.5 253 548.6 252 550 251 562 250 570 248.3M570 215.7 550 216.9 544 216 535 213.4 525 211.9M506 211.2 492 211.7 487 214 479 215.1 469 213.7 459 213.5 449 213.6 432 216.2 419 215.6 410 218.1 393 219.4 383 219 375 221.8 372 222.1 367 221 361 220.8 359 220 358.6 219 357 217.9 348 216.9 345.9 215 346 212 344.3 210 341 207.9 336 206.3 334.3 207 332 209.4 330 209.9 320 208.3 317 206.5 315 206.2 312.8 207 306.9 213 304 214.6 299 216.1 284 217.7 270 216.4 265 213 264.6 210M559.8 253 563.6 251 570 249.6M570 214.4 562 213.9 549 215.4 542 214.1 536 212 525 210.8M510 210.2 499 209.1 490 209.4 487.1 210 484.1 212 480 213 473 211.5 454 212 448 211.5 439.4 214 433 214.5 416 214.2 409 215.4 405 214.9 398 213 392 212.9 386.9 216 380 217.4 373.8 220 370 220.5 356 215.6 351.4 215 350.5 214 350.2 212 349.2 211 339.1 205 336 202.4 322 204.3 318 203.9 314 204.4 308 207 306.7 208 304 211.9 302 213.1 299 214.1 284 215.9 270 214.7 267.6 213 266.3 209M570 212.7 561 212.4 550 213.1 538 210.5 524 209.7M514 209.4 498 206.1 482 208.9 476 208.7 457 210.3 446 209.9 436 212.6 422 213.3 407 212.7 398 209.3 392 208.7 382.9 211 380.8 212 380.8 214 379.6 215 374 217.9 370 218.8 368 217.7 361.9 216 358.1 213 347.5 208 345.2 206 344.9 204 344 203.2 340 200.4 338 199.8 336 199.7 332 201.2 324 202.4 315 202.3 308 205.1 303 206.1 291 206.6 288.5 208 287.8 209 288 210.9 290 212.1 286 211.4 276 213 270 212.7 269.3 212 268.8 209M570 206.8 565.6 208 560 210.5 550 210.8 543 209.4 530 208.4 517 208.4 497 204.1 463 208.4 438 208.3 432 210.4 422 212 408 211.3 402 208.3 392 206.9 375 210.9 375.3 213 374.8 214 373 215.3 370 216.1 365.6 214 365.1 212 358 210.5 351.4 208 349.3 206 349.2 203 343 199 340 197.8 336 197.5 331 199.8 328 200.3 323 200.7 318 200 311.5 201 306 203.4 300.2 203M323 193.2 324 193.5 325.7 196 327.5 197 327 197.4 318 198.2 314 199.2M570 205.1 560 206.3 555 207.8 550 208.5 546 207.3 538 207.1 536 204.9 531 206.5 527 206.8 499 202.4 486 201.9 478 203.4 472 205.7 465.5 207 460.8 207 457 204.9 445 205.1 439 206.2 430 206.9 423 210.1 417 209.4 410 209.8 403 206.8 393 205.6 388 205.9 377.5 208 362 209.4 357 208.5 354.2 207 353.6 205 354.8 203 353.8 202 348.4 200 343 196.6 337 195.5 336.1 195 335 192.9 332 191.5M570 203.3 565 203.8 558 202.8 548.1 203 547 202.3 544.9 199 542 198.1 538.7 199 538.1 201 537 201.5 533 200.6 529.6 201 528.9 202 530 204 529 204.5 519 204.2 514.4 203 513.2 202 520.1 198 519.6 197 518 196.2 515 195.8 510 196.7 508 199 505 200.4 494 200.7 488 199.4 483 199.5 476 200.8 472 203.5 468 204.6 466 204.6 461 203.1 450 203.6 443 202.5 436 204.6 434.3 204 434.9 203 434.2 202 430 201.2 424 203.4 417.6 204 416.1 206 408 206.1 401 203.4 393 204.2 377 203.2 374 204 370 206.8 368 206.5 364 207.1 361.3 206 360.3 203 358.4 201 352 198.7 343.6 194 343.4 192 342.5 191 343.1 189M570 201.2 566 201.4 551.4 200 550 199.6 547 196.8 545 196.2 523 195.1 518 193.3 515 193 507 194.4 501 196.9 487 196.2 485.2 197 475 198.2 472.3 199 468 201.8 462 201.6 451 202.3 444 200.2 431 198 428 198.4 423 200.4 416 200.2 410 202.6 402 201.5 394 202.5 376 201.8 370 203.1 365.4 202 362.3 200 348.9 194 348.4 193 349 192 352.6 189 351.2 186M570 199.4 562 197.4 559.3 198 557 197.7 555.9 197 560.6 196 559.9 195 558 194.4 552 194.4 543 192 536 193.5 532 193.7 517 190.3 506 191.3 500.8 194 496 195 493 194.4 491 193 486 192.3 477 193.9 470.1 194 461.5 197 460.9 199 459.6 200 455 201.1 450 200.5 443.1 197 427 193.9 421 194 416 195.5 410 196 403 199.6 396 199.5 387 200.9 370 200.8 368 199.6 362.2 198 352.7 193 352.9 192 358.1 190 357.9 189 355.1 187 355.1 185M570 194.4 565 194.1 558 191.8 550 191.4 543 189.6 537.2 190 532 191.3 519 188.1 511 188.9 503 188.1 495 191.2 480 190.8 462.5 192 452 195.7 442.7 194 439.8 192 435 191.6 430 189.8 422.8 192 409 193.7 393 197 387 198.9 378 199.1 370 198.4 367.1 197 366.4 195 362.5 192 361.8 187 362.2 185 361.6 184 359 182.7M517 180.8 519.6 182 521.7 182 520.8 181 517 180.8M533 180.9 532 182 533 183.1 535 182 535.3 181 533 180.9M570 190.6 554 189 547 185.2 532 188 526 185.8 516 184.9 510 185.2 503 184.3 497 185.6 495.4 187 494.4 189 492 189.8 489 189.8 473 187 470 187.6 467 189.9 465 190.1 460.3 188 452 187.6 449 186.1 443 187.4 438.9 187 438.9 185 437 183.4 427 181.8 423.5 183 426.5 186 426 187 418 187.2 416.5 188 416.1 189 416.6 190 415 190.8 400 192.8 389 195.9 381 196.3 376 194.7 370 194.6 367 192.5 366 191 367.5 186 366.2 184 363 181.9M570 174.2 566.7 176 566.8 177 570 178.4M570 183.2 566 183.1 562 184.1 561.6 183 563 181.4 563.2 180 563 179 561 177.8 557 178.3 550 177.9 547.6 179 546.7 181 543 181.6 542.3 181 543.7 179 543.9 178 543.2 177 541 175.7 538 175.1 536 175.3 531 177.2 524 175.8 519 176.3 512 175.3 504 176 501.9 177 501.9 178 505.6 180 504.9 181 496 181.7 491.2 183 489 185.1 486 185.4 477.8 185 472 183.7 465 185.1 462 185.1 457 182.8 444 182.7 439.7 181 432 180.1 419 176.7 411.7 178 406.8 181 406.4 182 407.2 184 412.4 186 412.3 187 410 188.7 408 189.1 403 188.6 395 189.6 389 189.3 386 190 385 191.9 384 192.3 372 192.7 370 192.5 369.2 191 370 189.4 374.3 188 374.1 187 367 181.5M570 166.8 560 166.8 556 167.8 551 168 548.8 170 548.1 172 545 173.3 537 172.8 529 174.2 511 173.2 500 174.8 491 175.3 489.3 176 489.5 178 486 179 463 177.1 460.9 178 461.9 180 461 180.7 451 180.5 435.5 178 427.3 176 424.9 174 415 170.7 412 170.8 409 173 405 172.7M402.3 174 402 176.3 396.2 178 392 180.7 387 180.7 383 182.3 379.1 182 374 180.5M556.1 171 558 170.5 564.8 172 563 173 559 173.1 555.8 172 556.1 171M570 165.1 554 165 545 163.9 542.5 165 541 167.5 534 170.8 527 171.4 519 170.6 502 173.1 494 172.7 485 173.4 471 176.3 460 174.6 454 175.4 447 175 443 176.6 435 175 432.5 174 430.5 172 428.4 167M425 167.7 422 168.8 419 168.9M570 163.3 556 163.3 550 162.1 543 162 540 162.9 535.8 166 533 167 516 168.9 507.1 171 489 171.2 480.9 169 477 168.7 465 172.5 457 170.3 450 171.1 441 170.6 437 169.6 435.3 168 434.8 167 435.2 166 443 165.7 443.9 164 442 162.5M570 161.1 559 160.1 544 157.6 536 159.3 532.3 162 531.8 164 529.8 165 516 164.9 506 167.2 502 166.8 497 164.7 488 164.1 481 165.8 474 166 468 167.3 458.1 164 457 162.9 455 162.1 454.2 159M522.5 142 523.7 144 525 144.6 528 145.1 531 144.7M568 144.7 563 146 562 147.4 560 148.1 552 147.8 546 146.6 534 146.7 530 147.5 527.4 149 527.6 150 532 153.7 534 154 541 152.5 542.5 153 542.9 155 539 156.4 534 156.4 531 157.1 525.6 160 524 162 522 162.8 516 162.6 513 163.2 512 164 507 164.2 503 163.9 498 162.6 488 162 479 164 470 164 465.4 163 461 160.2 455 159.5 454.9 159M518 145.5 516.9 148 518 149.2 523.3 148 523.8 147 522 145.2 518 145.5M542.9 151 551 150.1 555.6 152 554 154.2 550 155.1 542.9 151M570 152.2 566.9 151 570 150.9M512.9 155 513 155.8 521.6 153 524 152.8 525.6 154 525.8 156 520 158.7 513 158.3 512 161.6 509 162.2 495 159.8 475 161.3 473 160.9 469 157.5 461 156.4M512.4 155 512 158.7 508 159.6 505 159.5 499.3 158 492 157.5 487 159.2 480 159.6 476.5 159 475.5 156 473.7 155 465 154.9 461 153.9M462 133.5 464 132.1 468 131.8 469.1 131 469.5 129 469 128 467.3 128 464 129.7 461 130.4M511 153.4 504 154.6 501 154.6 499.2 154 497.2 152 494 151.3 481 155 473 152.5 460.6 152M469 134.3 472.9 134 471.7 133 471.4 128 470 126.8 468 126.6M465 127.6 462 128.8M511.2 151 505 151.9 495 149.7 487 151.8 484 152 476 149.2 466 148.9 460.9 146M469 134.9 469.6 135 469.5 137 471 138.4 473 138.5 479 137 482.3 138 483 139 482.8 140 478.6 143 477.6 145 472 145.9 466 145.6 462 144.1 460.6 142M507.1 140 507.4 142 502 144.6 501 146 502 147.3 506.8 149 506 149.5 495 147.6 487.3 150 485 149.9 483.9 148 486 146.1 489 145.6 494 146.6 495 146.2 495.9 144 499.2 141 499.2 139 500.1 137 499 135.8M496 134.8 486 134.5 482 131.8 475 132.5 473.3 131 472.4 127 471 126M460.6 137 462 135.7M466.7 136 466.7 139 466 140.4 464 140.6 461 139.4M507 137.1 502 135.5M496 134.2 488 133.4 484.9 131 482 130.3M480 130.4 477 130.8 475 130.3 473.2 126 471 124.8M466.8 143 469.1 143 471.1 144 468.6 144 466.8 143M497.4 133 493 129.8 489 130.2 483 129.3 477 129.3 473.1 124 471 123.4 468 123.6M463 125.2 460.9 126M499.4 133 495 128.7 491.4 127 489 124.2 487 124.9 486 127 480 127.9 478 127.5 476.9 126 477 124.3 478 123.5 482.7 122 482.8 121 482 120.7 468 122.2 461 124.5M501.1 133 497 128.8M494.2 127 493.1 126 492.1 123 486 119.7M477 119.7 471 120.4 469.7 120 467 117.3 465 116.9 462.5 118 461 121.2M503 133.2 498 128M495 126.1 494.6 123 494 122.5 490 119.3 486 118.5M476 118.8 472 118.9 469 116.9M466 115.8 463 116.1 461 117.4M507 133.4 505.1 133 501 128 496.7 126 497.1 123 492 118.8M475 117.8 471 116.7M466 114.7 463 114.9 460.9 116M507 124.4 502 124.4 501.8 123 496 120.4 494 118.8M474 116.6 472 116M468 114.1 466 113.6M464 113.5 461 114.6M506 121.4 499 120.2 496 118.9M474 115.5 470 113.8M506 120 504.9 120M501 119.5 496.8 118M474 114.3 470 112.5M501 118.4 498 117.3M475 113.4 473 112.4M506 117.7 503 117.6 499 116.4M477 113.1 473 111.3M506 115.6 504 116 499 115.2M485 113 479.7 113 475 110.5M506 111.5 503.1 114 497 114M482 111.9 479 111M506 109.3 501 112.2 495 112.3 490 111.4M506 107.6 499 110.5 489 110.1M465 106.5 461 107.1M506 106.3 498 108.8 493 108.5 489 109M465 105.4 461 105.5M472 94 470.3 95 470.2 96 472 97.3 475 97.4 477.9 96 478.2 95 477 93.8 475 93.3M506 105.1 487 108.3 483 108.3M477 106.2 473 105.3M463.4 104 461 103.7M471.3 93 468 94 467 95 467.1 96 471 98.9 474 99.4 481 96 480.9 95 478.6 93 476 92.1M506 103.8 495 105.2M493 105.6 487 107.2 484 107.3 476.1 104 472 104.1M465 103.3 461 101.8M498 92.7 496.1 94 496.6 95 500 95.6 500.7 94 499.9 93 498 92.7M506 101.5 504.1 102 503.5 103 499 103.7M488 105.7 485 105.7 481 104.3 478.7 103 477.5 100 478.1 99 480 97.9 489 97 491.5 96 490.3 95 482 93.5 478 91 475 91.1M470 92.1 463 91.2 461.6 92 461.6 93 462.8 97 470.2 101 471.3 102 470.8 103 468.4 103 464.3 101 462.2 99 460.8 96M490.6 98 496 97.7 499.6 99 498.3 102 494 103.4M488 104.5 485 104.3 482 103.3 480.5 101 480.4 100 481.7 99 487 98.5M506 99.4 503.3 98 503.4 96 502.4 93 499 90.6 496 90.5 491 92.2 486 92.3 483 91.8 479 89.5 477 89.3 474 90.2M472 90.8 469 90.7 465.8 89 463.1 87 462.4 85 461 83.8M506.4 97 503 91.3 500 88.6 493 88 487 86.6 484 88.3 478 87.1 473 89.1 470 89.3 466.7 87 467.5 84 467 83.6 461 81.8M490.7 99 494 99.3 495.3 100 495.4 101 492.1 103 489 103.5M487 103.5 484.5 103 483.7 101 487 99.6M506.1 94 503.2 87 500 84.7 494 86 489 84.5 484 82.2 476 82.8 474.6 82 474.6 80 474 79.4 471 78.1 468 78.2 464 80.1 461 79.9M488.4 101 491.3 101 489 101.5 488.4 101M478.4 69 480.2 71 482 71.5 483 71 485.1 68M506 86.2 504 85 502 81.5 501 81 494 83.9 489.2 83 487.9 82 487.9 81 489.8 79 489.1 78 485 76.3 483 76.4 478 78.5 470 76.6 466 76.7 461 77.8M475.8 69 476.7 71 476.7 73 475 74.6 473 75.1 467 74.5 464.4 73 462.5 71 461 70.8M461 72.6 461.5 74 460.5 75M505 83.3 504.8 80 502 78.5 500 78.7 493 82 492.5 81 494.3 80 494 77.6 488 74.9 486.1 73 488 67.6M473.5 69 474.1 70 473.6 72 471 73.1 468 72.2 464 69M505 77.5 497 73.8 489.5 73 488.8 72 489.2 71 492.9 68M468.5 69 470 68.8 470.5 70 468.9 70 468.5 69M505 75.5 501.9 74 496.5 70 499 67.8M505 71.7 502.2 70 503 68.8" fill="none" stroke="#000" stroke-opacity="0.42" stroke-width="0.8"/></g><path d="M69.30 15V371 M117.38 15V371 M165.46 15V371 M213.54 15V371 M261.62 15V371 M309.70 15V371 M357.78 15V371 M405.86 15V371 M453.94 15V371 M502.02 15V371 M550.10 15V371 M598.18 15V371 M55 50.60H619 M55 99.25H619 M55 147.90H619 M55 196.55H619 M55 245.20H619 M55 293.85H619 M55 342.50H619" stroke="#e8e8e8" stroke-opacity="0.15" stroke-width="1" fill="none"/><g transform="translate(185.5 286) rotate(3)"><rect x="-6.5" y="-2.1" width="13" height="4.3" fill="#e8e4de" stroke="#a89c98" stroke-width="0.3"/><path d="M-5.0 0H5.0" stroke="#6a5050" stroke-width="1" stroke-dasharray="1.2 0.5"/></g><g transform="translate(204.5 284.5) rotate(-15)"><rect x="-6.5" y="-2.1" width="13" height="4.3" fill="#e8e4de" stroke="#a89c98" stroke-width="0.3"/><path d="M-5.0 0H5.0" stroke="#6a5050" stroke-width="1" stroke-dasharray="1.2 0.5"/></g><g transform="translate(205.7 274.6) rotate(15)"><rect x="-6.5" y="-2.1" width="13" height="4.3" fill="#e8e4de" stroke="#a89c98" stroke-width="0.3"/><path d="M-5.0 0H5.0" stroke="#6a5050" stroke-width="1" stroke-dasharray="1.2 0.5"/></g><g transform="translate(218.3 277) rotate(-25)"><rect x="-6.5" y="-2.1" width="13" height="4.3" fill="#e8e4de" stroke="#a89c98" stroke-width="0.3"/><path d="M-5.0 0H5.0" stroke="#6a5050" stroke-width="1" stroke-dasharray="1.2 0.5"/></g><g transform="translate(249.5 271.8) rotate(-5)"><rect x="-6.5" y="-2.1" width="13" height="4.3" fill="#e8e4de" stroke="#a89c98" stroke-width="0.3"/><path d="M-5.0 0H5.0" stroke="#6a5050" stroke-width="1" stroke-dasharray="1.2 0.5"/></g><g transform="translate(304.7 242.6) rotate(0)"><rect x="-5.0" y="-2.0" width="10" height="4.0" fill="#e8e4de" stroke="#a89c98" stroke-width="0.3"/><path d="M-3.5 0H3.5" stroke="#6a5050" stroke-width="1" stroke-dasharray="1.2 0.5"/></g><g transform="translate(307.5 251.7) rotate(-10)"><rect x="-5.0" y="-2.1" width="10" height="4.3" fill="#e8e4de" stroke="#a89c98" stroke-width="0.3"/><path d="M-3.5 0H3.5" stroke="#6a5050" stroke-width="1" stroke-dasharray="1.2 0.5"/></g><g transform="translate(305.2 255.6) rotate(-10)"><rect x="-5.0" y="-2.1" width="10" height="4.3" fill="#e8e4de" stroke="#a89c98" stroke-width="0.3"/><path d="M-3.5 0H3.5" stroke="#6a5050" stroke-width="1" stroke-dasharray="1.2 0.5"/></g><g transform="translate(301.6 260.4) rotate(-5)"><rect x="-6.0" y="-2.1" width="12" height="4.3" fill="#e8e4de" stroke="#a89c98" stroke-width="0.3"/><path d="M-4.5 0H4.5" stroke="#6a5050" stroke-width="1" stroke-dasharray="1.2 0.5"/></g><g transform="translate(283 270.2) rotate(-25)"><rect x="-6.5" y="-2.1" width="13" height="4.3" fill="#e8e4de" stroke="#a89c98" stroke-width="0.3"/><path d="M-5.0 0H5.0" stroke="#6a5050" stroke-width="1" stroke-dasharray="1.2 0.5"/></g><g transform="translate(426 212) rotate(-35)"><rect x="-4.5" y="-2.0" width="9" height="4.0" fill="#e8e4de" stroke="#a89c98" stroke-width="0.3"/><path d="M-3.0 0H3.0" stroke="#6a5050" stroke-width="1" stroke-dasharray="1.2 0.5"/></g><g transform="translate(422 226.7) rotate(-10)"><rect x="-5.0" y="-2.0" width="10" height="4.0" fill="#e8e4de" stroke="#a89c98" stroke-width="0.3"/><path d="M-3.5 0H3.5" stroke="#6a5050" stroke-width="1" stroke-dasharray="1.2 0.5"/></g><g transform="translate(435.3 226) rotate(0)"><rect x="-5.0" y="-2.0" width="10" height="4.0" fill="#e8e4de" stroke="#a89c98" stroke-width="0.3"/><path d="M-3.5 0H3.5" stroke="#6a5050" stroke-width="1" stroke-dasharray="1.2 0.5"/></g><g transform="translate(421 242) rotate(30)"><rect x="-5.0" y="-2.0" width="10" height="4.0" fill="#e8e4de" stroke="#a89c98" stroke-width="0.3"/><path d="M-3.5 0H3.5" stroke="#6a5050" stroke-width="1" stroke-dasharray="1.2 0.5"/></g><g transform="translate(433 241) rotate(-35)"><rect x="-5.0" y="-2.0" width="10" height="4.0" fill="#e8e4de" stroke="#a89c98" stroke-width="0.3"/><path d="M-3.5 0H3.5" stroke="#6a5050" stroke-width="1" stroke-dasharray="1.2 0.5"/></g><g transform="translate(437 238) rotate(-35)"><rect x="-4.0" y="-2.0" width="8" height="4.0" fill="#e8e4de" stroke="#a89c98" stroke-width="0.3"/><path d="M-2.5 0H2.5" stroke="#6a5050" stroke-width="1" stroke-dasharray="1.2 0.5"/></g><g transform="translate(427 248.7) rotate(0)"><rect x="-5.0" y="-2.0" width="10" height="4.0" fill="#e8e4de" stroke="#a89c98" stroke-width="0.3"/><path d="M-3.5 0H3.5" stroke="#6a5050" stroke-width="1" stroke-dasharray="1.2 0.5"/></g><g transform="translate(497 199) rotate(-35)"><rect x="-4.5" y="-2.0" width="9" height="4.0" fill="#e8e4de" stroke="#a89c98" stroke-width="0.3"/><path d="M-3.0 0H3.0" stroke="#6a5050" stroke-width="1" stroke-dasharray="1.2 0.5"/></g><g transform="translate(550.8 172.6) rotate(-35)"><rect x="-4.5" y="-2.0" width="9" height="4.0" fill="#e8e4de" stroke="#a89c98" stroke-width="0.3"/><path d="M-3.0 0H3.0" stroke="#6a5050" stroke-width="1" stroke-dasharray="1.2 0.5"/></g><g transform="translate(559.9 177.2) rotate(20)"><rect x="-4.5" y="-2.0" width="9" height="4.0" fill="#e8e4de" stroke="#a89c98" stroke-width="0.3"/><path d="M-3.0 0H3.0" stroke="#6a5050" stroke-width="1" stroke-dasharray="1.2 0.5"/></g><g transform="translate(547.5 194.2) rotate(15)"><rect x="-4.5" y="-2.0" width="9" height="4.0" fill="#e8e4de" stroke="#a89c98" stroke-width="0.3"/><path d="M-3.0 0H3.0" stroke="#6a5050" stroke-width="1" stroke-dasharray="1.2 0.5"/></g><g transform="translate(556.7 198.3) rotate(-20)"><rect x="-5.0" y="-2.0" width="10" height="4.0" fill="#e8e4de" stroke="#a89c98" stroke-width="0.3"/><path d="M-3.5 0H3.5" stroke="#6a5050" stroke-width="1" stroke-dasharray="1.2 0.5"/></g><g transform="translate(560 200) rotate(-30)"><rect x="-4.0" y="-2.0" width="8" height="4.0" fill="#e8e4de" stroke="#a89c98" stroke-width="0.3"/><path d="M-2.5 0H2.5" stroke="#6a5050" stroke-width="1" stroke-dasharray="1.2 0.5"/></g><g transform="translate(558 207.8) rotate(0)"><rect x="-4.5" y="-2.0" width="9" height="4.0" fill="#e8e4de" stroke="#a89c98" stroke-width="0.3"/><path d="M-3.0 0H3.0" stroke="#6a5050" stroke-width="1" stroke-dasharray="1.2 0.5"/></g><path d="M306 207L323 298M310 204L331 298M427.6 173L448.9 268.8" stroke="#ffffff" stroke-width="1.5" stroke-dasharray="1.5 1.1" fill="none" opacity="0.9"/><path d="M218.6 280L219.9 280L224.2 318L222.2 318Z" fill="#ffffff"/><path d="M481.0 254.4h1v1h-1zM504.1 247.7h1v1h-1zM513.7 245.0h1v1h-1zM475.0 258.3h1v1h-1zM417.4 265.3h1v1h-1zM508.8 254.7h1v1h-1zM503.8 253.7h1v1h-1zM506.6 250.7h1v1h-1zM475.1 259.3h1v1h-1zM471.9 246.5h1v1h-1zM398.8 254.9h1v1h-1zM519.4 251.7h1v1h-1zM509.7 256.4h1v1h-1zM363.6 275.9h1v1h-1zM442.6 247.2h1v1h-1zM496.1 254.6h1v1h-1zM492.0 246.9h1v1h-1zM445.5 256.3h1v1h-1zM423.1 267.7h1v1h-1zM381.0 263.1h1v1h-1zM431.4 258.4h1v1h-1zM418.5 259.4h1v1h-1zM363.1 278.4h1v1h-1zM514.5 254.1h1v1h-1zM452.3 255.6h1v1h-1zM414.8 263.9h1v1h-1zM435.7 251.5h1v1h-1zM338.7 271.2h1v1h-1zM367.6 271.4h1v1h-1zM493.8 255.7h1v1h-1zM458.8 250.8h1v1h-1zM439.7 256.4h1v1h-1zM355.7 267.6h1v1h-1zM354.6 266.8h1v1h-1zM349.4 271.9h1v1h-1zM516.8 250.9h1v1h-1zM425.0 256.7h1v1h-1zM440.9 245.3h1v1h-1zM495.0 250.2h1v1h-1zM496.0 245.5h1v1h-1zM370.7 272.1h1v1h-1zM439.2 257.9h1v1h-1zM341.1 280.8h1v1h-1zM501.8 244.8h1v1h-1zM356.5 273.1h1v1h-1zM520.5 247.4h1v1h-1zM496.2 253.7h1v1h-1zM488.9 259.9h1v1h-1zM373.4 269.6h1v1h-1zM460.4 259.0h1v1h-1zM519.9 255.3h1v1h-1zM383.9 273.7h1v1h-1zM477.9 249.0h1v1h-1zM493.3 254.5h1v1h-1zM336.9 285.7h1v1h-1zM363.1 273.7h1v1h-1zM335.5 287.1h1v1h-1zM379.5 270.7h1v1h-1zM520.5 248.6h1v1h-1zM386.6 273.4h1v1h-1zM343.1 275.4h1v1h-1zM439.3 258.9h1v1h-1zM520.6 254.8h1v1h-1zM450.8 249.4h1v1h-1zM503.1 255.9h1v1h-1zM450.0 257.5h1v1h-1zM428.6 266.8h1v1h-1zM435.0 262.8h1v1h-1zM449.0 263.5h1v1h-1zM391.5 264.8h1v1h-1zM485.4 259.3h1v1h-1zM527.0 255.1h1v1h-1zM452.5 258.8h1v1h-1zM465.6 254.4h1v1h-1zM415.9 250.7h1v1h-1zM402.5 269.9h1v1h-1zM498.1 252.7h1v1h-1zM391.6 256.1h1v1h-1zM357.2 278.9h1v1h-1zM508.2 233.3h1v1h-1zM470.9 244.6h1v1h-1zM507.4 248.7h1v1h-1zM505.9 247.5h1v1h-1zM474.8 242.5h1v1h-1zM385.2 273.4h1v1h-1zM511.2 255.5h1v1h-1zM380.0 275.7h1v1h-1zM503.5 257.7h1v1h-1zM453.6 260.1h1v1h-1zM414.2 261.0h1v1h-1zM457.9 252.4h1v1h-1zM440.4 265.9h1v1h-1zM504.5 256.1h1v1h-1zM384.6 266.3h1v1h-1zM517.3 240.6h1v1h-1zM486.4 259.3h1v1h-1zM473.3 257.8h1v1h-1zM394.2 255.7h1v1h-1zM362.9 260.9h1v1h-1zM366.4 261.3h1v1h-1zM513.5 254.8h1v1h-1zM333.5 284.9h1v1h-1zM347.2 280.6h1v1h-1zM488.7 257.7h1v1h-1zM359.6 281.8h1v1h-1zM390.9 272.9h1v1h-1zM386.6 271.9h1v1h-1zM359.9 278.5h1v1h-1zM415.2 260.9h1v1h-1zM469.5 257.6h1v1h-1zM421.5 265.3h1v1h-1zM391.0 273.1h1v1h-1zM463.8 263.1h1v1h-1zM410.8 264.2h1v1h-1zM394.0 265.5h1v1h-1zM466.4 254.3h1v1h-1zM482.6 252.6h1v1h-1zM333.1 286.2h1v1h-1zM462.2 262.9h1v1h-1zM444.8 265.0h1v1h-1zM496.1 253.3h1v1h-1zM416.1 265.8h1v1h-1zM365.0 275.7h1v1h-1zM433.3 247.9h1v1h-1zM371.1 267.9h1v1h-1zM376.9 270.3h1v1h-1zM519.9 253.4h1v1h-1zM380.4 275.5h1v1h-1zM492.9 243.5h1v1h-1zM352.3 277.8h1v1h-1zM404.3 272.1h1v1h-1zM417.0 266.3h1v1h-1zM476.2 261.4h1v1h-1zM419.6 268.6h1v1h-1zM413.3 261.2h1v1h-1zM523.8 236.3h1v1h-1zM406.1 268.4h1v1h-1zM416.5 256.2h1v1h-1zM370.7 263.2h1v1h-1zM472.8 255.8h1v1h-1zM350.6 277.2h1v1h-1zM502.7 250.1h1v1h-1zM358.1 277.2h1v1h-1zM429.4 267.9h1v1h-1zM413.3 267.4h1v1h-1zM520.6 254.7h1v1h-1zM434.4 265.1h1v1h-1zM337.4 282.4h1v1h-1zM454.8 260.5h1v1h-1zM443.5 263.8h1v1h-1zM384.3 270.7h1v1h-1zM390.8 273.7h1v1h-1zM471.1 259.7h1v1h-1zM459.8 255.7h1v1h-1zM493.3 243.5h1v1h-1z" fill="#0a2040" opacity="0.6"/><path d="M434.5 266.9h1.2v1.2h-1.2zM278.8 294.0h1.0v1.0h-1.0zM404.8 264.8h1.5v1.5h-1.5zM281.5 275.4h1.0v1.0h-1.0zM505.5 242.0h1.5v1.5h-1.5zM395.6 252.7h1.5v1.5h-1.5zM313.6 295.5h1.5v1.5h-1.5zM350.1 277.0h1.2v1.2h-1.2zM466.1 258.0h1.5v1.5h-1.5zM288.7 296.3h1.0v1.0h-1.0zM515.1 230.2h1.0v1.0h-1.0zM512.9 251.6h1.0v1.0h-1.0zM501.7 252.5h1.5v1.5h-1.5zM475.9 252.9h1.0v1.0h-1.0zM517.5 254.7h1.0v1.0h-1.0zM321.2 290.9h1.0v1.0h-1.0zM514.9 246.6h1.0v1.0h-1.0zM454.3 256.5h1.2v1.2h-1.2zM493.7 239.0h1.2v1.2h-1.2zM442.6 263.1h1.0v1.0h-1.0zM382.2 260.4h1.0v1.0h-1.0zM256.1 302.2h1.5v1.5h-1.5zM400.4 270.5h1.0v1.0h-1.0zM446.2 263.8h1.2v1.2h-1.2zM448.3 264.2h1.0v1.0h-1.0zM340.0 279.1h1.0v1.0h-1.0zM258.0 301.8h1.5v1.5h-1.5zM252.3 278.3h1.2v1.2h-1.2zM486.9 255.6h1.0v1.0h-1.0zM364.8 275.4h1.5v1.5h-1.5zM435.9 259.8h1.0v1.0h-1.0zM441.4 262.4h1.0v1.0h-1.0zM478.4 258.8h1.0v1.0h-1.0zM373.0 276.2h1.5v1.5h-1.5zM407.1 266.9h1.0v1.0h-1.0zM417.2 269.2h1.5v1.5h-1.5zM287.1 291.6h1.2v1.2h-1.2zM485.3 254.4h1.5v1.5h-1.5zM448.8 263.3h1.2v1.2h-1.2zM525.2 238.4h1.5v1.5h-1.5zM481.7 254.9h1.0v1.0h-1.0zM383.8 275.3h1.5v1.5h-1.5zM419.2 264.5h1.0v1.0h-1.0zM501.0 250.2h1.5v1.5h-1.5zM526.8 252.0h1.2v1.2h-1.2zM440.4 255.2h1.5v1.5h-1.5zM377.4 274.7h1.5v1.5h-1.5zM372.5 273.9h1.2v1.2h-1.2zM520.5 250.5h1.5v1.5h-1.5zM304.4 295.9h1.0v1.0h-1.0zM320.3 287.4h1.2v1.2h-1.2zM355.6 282.2h1.2v1.2h-1.2zM363.4 277.6h1.5v1.5h-1.5zM524.7 246.2h1.0v1.0h-1.0zM370.2 272.7h1.0v1.0h-1.0zM425.8 267.6h1.0v1.0h-1.0zM454.9 239.6h1.2v1.2h-1.2zM533.8 231.3h1.5v1.5h-1.5zM432.0 249.0h1.0v1.0h-1.0zM473.8 259.4h1.2v1.2h-1.2zM464.2 257.1h1.0v1.0h-1.0zM432.1 261.4h1.2v1.2h-1.2zM365.1 272.3h1.2v1.2h-1.2zM536.8 247.5h1.5v1.5h-1.5zM393.6 271.4h1.2v1.2h-1.2zM472.9 259.4h1.2v1.2h-1.2zM356.2 281.8h1.2v1.2h-1.2zM431.5 265.8h1.0v1.0h-1.0zM521.7 248.6h1.5v1.5h-1.5zM433.5 262.7h1.5v1.5h-1.5zM359.7 270.1h1.2v1.2h-1.2zM426.7 268.3h1.5v1.5h-1.5zM363.0 270.7h1.2v1.2h-1.2zM418.9 258.0h1.0v1.0h-1.0zM483.3 256.6h1.5v1.5h-1.5zM452.6 261.5h1.2v1.2h-1.2zM307.0 287.4h1.0v1.0h-1.0zM372.0 276.4h1.5v1.5h-1.5zM405.4 262.8h1.5v1.5h-1.5zM459.8 262.6h1.0v1.0h-1.0zM318.1 292.4h1.0v1.0h-1.0zM509.3 249.0h1.0v1.0h-1.0zM337.0 280.3h1.5v1.5h-1.5zM325.4 291.6h1.2v1.2h-1.2zM360.2 279.1h1.2v1.2h-1.2zM486.1 258.0h1.2v1.2h-1.2zM426.2 254.4h1.0v1.0h-1.0zM349.3 276.4h1.2v1.2h-1.2zM515.6 254.9h1.2v1.2h-1.2zM500.1 257.3h1.2v1.2h-1.2zM525.6 253.1h1.5v1.5h-1.5zM443.6 264.7h1.2v1.2h-1.2zM511.1 240.2h1.0v1.0h-1.0zM342.7 277.0h1.5v1.5h-1.5zM405.1 267.3h1.0v1.0h-1.0zM358.8 275.8h1.2v1.2h-1.2zM319.8 277.9h1.0v1.0h-1.0zM423.4 256.3h1.2v1.2h-1.2zM474.4 245.1h1.2v1.2h-1.2zM459.2 260.0h1.2v1.2h-1.2zM242.1 307.8h1.0v1.0h-1.0zM481.2 247.1h1.2v1.2h-1.2zM362.4 278.8h1.2v1.2h-1.2zM343.1 283.9h1.0v1.0h-1.0zM343.9 286.1h1.2v1.2h-1.2zM254.8 287.1h1.0v1.0h-1.0zM407.2 256.1h1.2v1.2h-1.2zM559.7 242.4h1.5v1.5h-1.5zM345.5 281.6h1.5v1.5h-1.5zM410.9 267.0h1.0v1.0h-1.0zM464.6 253.5h1.5v1.5h-1.5zM457.1 239.2h1.0v1.0h-1.0zM404.8 247.7h1.2v1.2h-1.2zM525.3 253.1h1.0v1.0h-1.0zM442.0 247.0h1.5v1.5h-1.5zM418.0 259.4h1.5v1.5h-1.5zM462.5 254.5h1.2v1.2h-1.2zM383.9 266.4h1.0v1.0h-1.0zM440.4 264.0h1.5v1.5h-1.5zM351.2 283.6h1.5v1.5h-1.5zM327.6 285.0h1.2v1.2h-1.2zM295.6 294.6h1.0v1.0h-1.0zM283.7 297.5h1.0v1.0h-1.0zM483.3 246.0h1.2v1.2h-1.2zM506.0 237.3h1.0v1.0h-1.0zM478.2 253.1h1.2v1.2h-1.2zM486.8 251.9h1.5v1.5h-1.5zM421.3 268.9h1.5v1.5h-1.5zM350.1 282.0h1.0v1.0h-1.0zM436.3 264.1h1.2v1.2h-1.2zM394.3 267.4h1.0v1.0h-1.0zM523.5 240.8h1.0v1.0h-1.0zM356.0 282.5h1.0v1.0h-1.0zM462.3 256.9h1.0v1.0h-1.0zM406.5 268.8h1.2v1.2h-1.2zM422.6 261.4h1.0v1.0h-1.0zM486.4 255.1h1.0v1.0h-1.0zM434.8 265.6h1.0v1.0h-1.0zM238.8 308.0h1.5v1.5h-1.5zM493.0 244.9h1.0v1.0h-1.0zM413.0 269.4h1.5v1.5h-1.5zM414.9 266.6h1.2v1.2h-1.2zM351.3 277.9h1.5v1.5h-1.5zM515.5 245.6h1.2v1.2h-1.2zM465.7 253.5h1.2v1.2h-1.2zM356.5 273.9h1.5v1.5h-1.5zM306.5 297.1h1.2v1.2h-1.2zM385.1 260.0h1.0v1.0h-1.0zM513.8 256.0h1.0v1.0h-1.0zM351.8 273.0h1.5v1.5h-1.5zM427.3 250.4h1.2v1.2h-1.2zM502.6 256.9h1.2v1.2h-1.2zM482.2 242.6h1.2v1.2h-1.2zM499.8 258.0h1.2v1.2h-1.2zM380.1 274.0h1.5v1.5h-1.5zM413.8 266.4h1.5v1.5h-1.5zM458.1 237.9h1.0v1.0h-1.0zM335.5 281.4h1.0v1.0h-1.0zM413.2 265.3h1.2v1.2h-1.2zM276.3 280.8h1.2v1.2h-1.2zM345.8 280.8h1.0v1.0h-1.0zM445.6 255.5h1.0v1.0h-1.0zM487.8 254.8h1.5v1.5h-1.5zM384.1 273.8h1.5v1.5h-1.5zM254.5 299.7h1.0v1.0h-1.0zM526.4 253.6h1.0v1.0h-1.0zM416.3 263.5h1.0v1.0h-1.0zM434.5 239.0h1.5v1.5h-1.5zM454.5 247.0h1.2v1.2h-1.2zM443.1 254.4h1.2v1.2h-1.2zM347.2 285.0h1.5v1.5h-1.5zM423.5 250.7h1.2v1.2h-1.2zM383.8 275.2h1.2v1.2h-1.2zM432.6 264.0h1.5v1.5h-1.5zM341.1 282.5h1.5v1.5h-1.5zM463.2 261.2h1.2v1.2h-1.2zM343.8 277.9h1.2v1.2h-1.2zM463.2 258.4h1.0v1.0h-1.0zM460.0 252.3h1.2v1.2h-1.2zM421.6 268.9h1.2v1.2h-1.2zM521.1 250.1h1.0v1.0h-1.0zM413.3 244.5h1.2v1.2h-1.2zM334.2 281.1h1.5v1.5h-1.5zM449.8 259.1h1.5v1.5h-1.5zM274.5 298.0h1.0v1.0h-1.0zM407.9 263.8h1.0v1.0h-1.0zM365.8 271.5h1.2v1.2h-1.2zM408.0 254.2h1.0v1.0h-1.0zM521.9 250.5h1.5v1.5h-1.5zM485.7 254.7h1.5v1.5h-1.5zM477.6 232.5h1.5v1.5h-1.5zM341.9 278.9h1.5v1.5h-1.5zM548.3 252.5h1.2v1.2h-1.2zM565.4 251.9h1.0v1.0h-1.0zM377.4 262.8h1.0v1.0h-1.0zM524.6 253.9h1.0v1.0h-1.0zM484.6 240.2h1.2v1.2h-1.2zM415.3 268.8h1.5v1.5h-1.5zM295.4 289.8h1.0v1.0h-1.0zM353.0 274.8h1.0v1.0h-1.0zM461.1 262.9h1.2v1.2h-1.2zM371.3 277.1h1.2v1.2h-1.2zM466.6 251.1h1.0v1.0h-1.0zM349.5 282.4h1.5v1.5h-1.5zM476.8 254.8h1.2v1.2h-1.2zM396.6 270.9h1.5v1.5h-1.5zM478.8 251.3h1.2v1.2h-1.2zM353.3 267.6h1.0v1.0h-1.0zM307.5 281.3h1.0v1.0h-1.0zM462.1 257.6h1.5v1.5h-1.5zM428.2 264.5h1.2v1.2h-1.2zM458.1 250.8h1.2v1.2h-1.2zM460.2 243.3h1.0v1.0h-1.0zM473.9 260.1h1.5v1.5h-1.5zM489.9 257.2h1.2v1.2h-1.2zM409.1 262.4h1.0v1.0h-1.0zM303.1 281.6h1.2v1.2h-1.2zM463.7 256.2h1.0v1.0h-1.0zM516.4 243.3h1.5v1.5h-1.5zM266.6 276.3h1.5v1.5h-1.5zM514.9 255.6h1.5v1.5h-1.5zM486.1 250.7h1.0v1.0h-1.0zM511.1 257.2h1.5v1.5h-1.5zM427.9 260.0h1.0v1.0h-1.0zM508.2 245.9h1.2v1.2h-1.2zM369.5 271.1h1.2v1.2h-1.2zM372.7 274.6h1.5v1.5h-1.5zM425.7 262.3h1.2v1.2h-1.2zM402.9 260.1h1.5v1.5h-1.5zM421.1 257.7h1.5v1.5h-1.5zM349.2 275.0h1.5v1.5h-1.5zM355.0 266.8h1.0v1.0h-1.0zM404.4 258.6h1.5v1.5h-1.5zM351.6 279.0h1.0v1.0h-1.0zM322.6 288.7h1.2v1.2h-1.2zM474.3 252.9h1.2v1.2h-1.2zM420.9 259.8h1.5v1.5h-1.5zM494.0 246.5h1.0v1.0h-1.0zM246.9 310.9h1.5v1.5h-1.5zM380.1 269.8h1.2v1.2h-1.2zM435.0 260.6h1.0v1.0h-1.0zM450.8 259.5h1.2v1.2h-1.2zM247.4 304.4h1.0v1.0h-1.0zM289.8 274.0h1.2v1.2h-1.2zM459.5 257.8h1.2v1.2h-1.2zM419.2 266.5h1.2v1.2h-1.2zM489.6 259.6h1.2v1.2h-1.2zM404.6 267.0h1.0v1.0h-1.0zM452.0 259.6h1.5v1.5h-1.5zM558.9 248.3h1.5v1.5h-1.5zM283.9 295.2h1.0v1.0h-1.0zM342.8 266.7h1.0v1.0h-1.0zM388.0 265.3h1.5v1.5h-1.5zM274.8 291.4h1.5v1.5h-1.5zM392.3 262.8h1.5v1.5h-1.5zM451.1 249.0h1.5v1.5h-1.5zM451.4 262.3h1.2v1.2h-1.2zM366.4 255.9h1.0v1.0h-1.0zM497.1 242.3h1.0v1.0h-1.0zM520.4 247.4h1.5v1.5h-1.5zM480.4 247.0h1.2v1.2h-1.2zM445.4 265.4h1.0v1.0h-1.0zM499.7 250.5h1.0v1.0h-1.0zM376.1 267.2h1.5v1.5h-1.5zM470.7 261.8h1.5v1.5h-1.5zM526.3 245.5h1.0v1.0h-1.0zM430.4 256.7h1.0v1.0h-1.0zM452.8 258.9h1.5v1.5h-1.5zM468.9 252.1h1.2v1.2h-1.2zM401.0 271.5h1.0v1.0h-1.0zM330.1 281.9h1.5v1.5h-1.5zM415.0 269.0h1.0v1.0h-1.0zM463.6 258.7h1.5v1.5h-1.5zM307.8 287.8h1.2v1.2h-1.2zM392.7 259.2h1.5v1.5h-1.5zM487.9 256.8h1.2v1.2h-1.2zM480.4 247.5h1.5v1.5h-1.5zM370.9 255.4h1.5v1.5h-1.5zM374.1 276.3h1.0v1.0h-1.0zM484.8 249.1h1.5v1.5h-1.5zM332.3 276.9h1.2v1.2h-1.2zM480.6 232.8h1.5v1.5h-1.5zM415.1 265.3h1.5v1.5h-1.5zM445.4 259.7h1.0v1.0h-1.0zM457.6 249.2h1.2v1.2h-1.2zM331.3 285.0h1.0v1.0h-1.0zM366.0 271.7h1.2v1.2h-1.2zM418.4 269.2h1.2v1.2h-1.2zM476.1 252.7h1.0v1.0h-1.0zM361.3 280.3h1.0v1.0h-1.0zM379.8 269.3h1.5v1.5h-1.5zM511.1 255.9h1.0v1.0h-1.0zM444.4 254.6h1.0v1.0h-1.0zM429.5 252.6h1.5v1.5h-1.5zM277.4 278.6h1.5v1.5h-1.5zM368.9 277.7h1.0v1.0h-1.0zM419.3 265.2h1.0v1.0h-1.0zM302.1 295.9h1.5v1.5h-1.5zM446.6 263.7h1.0v1.0h-1.0zM559.3 246.1h1.0v1.0h-1.0zM510.9 249.7h1.2v1.2h-1.2zM451.6 248.0h1.5v1.5h-1.5zM501.4 245.2h1.5v1.5h-1.5zM486.6 250.9h1.2v1.2h-1.2zM445.5 264.6h1.2v1.2h-1.2zM362.2 265.8h1.0v1.0h-1.0zM490.2 247.6h1.5v1.5h-1.5zM336.9 287.3h1.5v1.5h-1.5zM347.4 283.2h1.0v1.0h-1.0zM502.0 249.2h1.5v1.5h-1.5zM517.2 236.2h1.2v1.2h-1.2zM523.9 253.9h1.0v1.0h-1.0zM470.7 261.4h1.0v1.0h-1.0zM437.6 264.6h1.2v1.2h-1.2zM498.0 246.1h1.2v1.2h-1.2zM475.6 259.8h1.0v1.0h-1.0zM449.3 260.0h1.0v1.0h-1.0zM395.6 260.3h1.0v1.0h-1.0zM507.0 247.8h1.0v1.0h-1.0zM451.4 262.0h1.0v1.0h-1.0zM389.2 269.1h1.0v1.0h-1.0zM517.0 250.0h1.0v1.0h-1.0zM328.6 279.7h1.2v1.2h-1.2zM546.0 244.0h1.2v1.2h-1.2zM495.5 256.0h1.0v1.0h-1.0zM435.4 266.9h1.0v1.0h-1.0zM390.3 267.3h1.5v1.5h-1.5zM303.3 280.7h1.5v1.5h-1.5zM388.5 271.4h1.0v1.0h-1.0zM509.6 247.3h1.0v1.0h-1.0zM472.4 261.8h1.5v1.5h-1.5zM442.4 254.7h1.0v1.0h-1.0zM454.2 257.7h1.5v1.5h-1.5zM344.7 277.2h1.2v1.2h-1.2zM473.6 249.1h1.2v1.2h-1.2zM518.6 255.9h1.5v1.5h-1.5zM456.4 260.7h1.5v1.5h-1.5zM393.8 256.3h1.0v1.0h-1.0zM465.3 257.2h1.0v1.0h-1.0zM265.3 291.3h1.0v1.0h-1.0zM500.3 251.2h1.5v1.5h-1.5zM246.8 305.9h1.2v1.2h-1.2zM452.3 257.9h1.5v1.5h-1.5zM349.0 282.9h1.5v1.5h-1.5zM512.8 252.0h1.5v1.5h-1.5zM507.8 252.2h1.2v1.2h-1.2zM424.4 267.1h1.0v1.0h-1.0zM331.1 290.2h1.5v1.5h-1.5zM367.1 272.2h1.5v1.5h-1.5zM319.2 286.7h1.2v1.2h-1.2zM419.7 267.8h1.2v1.2h-1.2zM527.8 244.7h1.5v1.5h-1.5zM507.7 251.6h1.5v1.5h-1.5zM345.0 284.6h1.5v1.5h-1.5zM376.2 263.7h1.0v1.0h-1.0zM412.9 261.4h1.2v1.2h-1.2zM437.3 256.4h1.2v1.2h-1.2zM458.7 262.3h1.2v1.2h-1.2zM335.2 272.0h1.5v1.5h-1.5zM488.3 260.0h1.5v1.5h-1.5zM308.5 290.1h1.2v1.2h-1.2zM272.2 286.1h1.5v1.5h-1.5zM236.3 312.9h1.5v1.5h-1.5zM372.9 278.0h1.0v1.0h-1.0zM369.9 270.4h1.0v1.0h-1.0zM412.6 267.0h1.2v1.2h-1.2zM498.2 252.8h1.0v1.0h-1.0zM289.8 293.6h1.2v1.2h-1.2zM349.6 279.9h1.0v1.0h-1.0zM358.3 281.8h1.0v1.0h-1.0zM390.6 256.6h1.2v1.2h-1.2zM463.3 256.6h1.2v1.2h-1.2zM263.0 302.4h1.2v1.2h-1.2zM469.5 249.1h1.5v1.5h-1.5zM472.9 256.2h1.5v1.5h-1.5zM472.4 253.7h1.0v1.0h-1.0zM462.9 256.3h1.0v1.0h-1.0zM498.8 246.8h1.5v1.5h-1.5zM421.5 240.1h1.2v1.2h-1.2zM341.3 286.1h1.2v1.2h-1.2zM251.6 299.1h1.0v1.0h-1.0zM330.2 286.6h1.0v1.0h-1.0zM403.2 267.7h1.5v1.5h-1.5zM340.7 287.1h1.2v1.2h-1.2zM505.6 254.5h1.5v1.5h-1.5zM457.6 258.0h1.2v1.2h-1.2zM383.3 271.2h1.5v1.5h-1.5zM531.0 253.9h1.0v1.0h-1.0zM485.2 257.9h1.0v1.0h-1.0zM560.6 251.6h1.0v1.0h-1.0zM251.4 296.1h1.2v1.2h-1.2zM248.4 305.5h1.2v1.2h-1.2zM505.2 256.3h1.5v1.5h-1.5zM405.9 271.0h1.5v1.5h-1.5zM390.1 270.9h1.2v1.2h-1.2zM331.7 288.5h1.0v1.0h-1.0zM241.8 300.6h1.2v1.2h-1.2zM410.6 258.2h1.2v1.2h-1.2zM517.9 248.5h1.2v1.2h-1.2zM385.7 254.9h1.5v1.5h-1.5zM411.6 243.4h1.0v1.0h-1.0zM441.6 258.3h1.5v1.5h-1.5zM383.9 269.9h1.5v1.5h-1.5zM333.9 281.4h1.2v1.2h-1.2zM377.8 275.7h1.2v1.2h-1.2zM373.5 270.2h1.2v1.2h-1.2zM558.7 246.4h1.5v1.5h-1.5zM479.4 259.9h1.0v1.0h-1.0zM448.9 262.5h1.2v1.2h-1.2zM485.7 259.4h1.2v1.2h-1.2zM438.6 265.1h1.0v1.0h-1.0zM349.8 282.7h1.5v1.5h-1.5zM486.7 252.5h1.2v1.2h-1.2zM500.7 255.9h1.5v1.5h-1.5zM514.5 253.2h1.2v1.2h-1.2zM420.2 258.9h1.2v1.2h-1.2zM471.0 259.6h1.5v1.5h-1.5zM390.5 274.4h1.2v1.2h-1.2zM421.5 261.2h1.5v1.5h-1.5zM424.7 268.2h1.5v1.5h-1.5zM508.5 257.1h1.5v1.5h-1.5zM367.8 270.7h1.0v1.0h-1.0zM485.8 252.2h1.0v1.0h-1.0zM517.6 242.8h1.2v1.2h-1.2zM462.5 249.1h1.2v1.2h-1.2zM412.3 255.9h1.5v1.5h-1.5zM291.6 295.0h1.2v1.2h-1.2zM425.2 252.2h1.0v1.0h-1.0zM470.8 260.2h1.2v1.2h-1.2zM418.7 259.5h1.2v1.2h-1.2zM463.6 260.6h1.2v1.2h-1.2zM457.0 253.4h1.2v1.2h-1.2zM489.2 258.8h1.5v1.5h-1.5zM536.3 247.1h1.0v1.0h-1.0zM446.3 263.3h1.2v1.2h-1.2zM423.9 266.4h1.0v1.0h-1.0zM495.5 257.8h1.2v1.2h-1.2zM239.9 298.5h1.0v1.0h-1.0zM362.5 280.7h1.2v1.2h-1.2zM488.4 257.3h1.5v1.5h-1.5zM483.9 256.4h1.5v1.5h-1.5zM512.2 256.8h1.5v1.5h-1.5zM343.1 279.4h1.2v1.2h-1.2zM492.3 251.6h1.0v1.0h-1.0zM395.6 263.2h1.0v1.0h-1.0zM482.8 253.5h1.5v1.5h-1.5zM245.9 310.8h1.2v1.2h-1.2zM267.8 287.0h1.5v1.5h-1.5zM425.1 261.9h1.2v1.2h-1.2zM423.7 249.2h1.0v1.0h-1.0zM480.5 254.8h1.2v1.2h-1.2zM452.0 240.6h1.2v1.2h-1.2zM490.0 256.4h1.5v1.5h-1.5zM344.3 282.5h1.0v1.0h-1.0zM496.7 252.4h1.5v1.5h-1.5zM434.8 242.8h1.0v1.0h-1.0zM461.3 262.8h1.2v1.2h-1.2zM443.0 251.5h1.2v1.2h-1.2zM406.0 259.9h1.5v1.5h-1.5zM239.6 310.0h1.0v1.0h-1.0zM370.7 257.2h1.0v1.0h-1.0zM450.3 259.1h1.0v1.0h-1.0zM460.8 263.5h1.0v1.0h-1.0zM482.9 246.3h1.0v1.0h-1.0zM494.5 245.7h1.0v1.0h-1.0zM489.8 243.3h1.0v1.0h-1.0zM388.4 268.8h1.5v1.5h-1.5zM348.2 283.2h1.2v1.2h-1.2zM334.6 283.3h1.0v1.0h-1.0zM455.6 263.1h1.0v1.0h-1.0zM406.0 261.8h1.5v1.5h-1.5zM479.2 256.8h1.0v1.0h-1.0zM426.5 266.7h1.2v1.2h-1.2zM474.4 257.5h1.2v1.2h-1.2zM423.0 268.1h1.0v1.0h-1.0zM411.5 269.0h1.0v1.0h-1.0zM440.4 255.2h1.5v1.5h-1.5zM487.8 248.9h1.0v1.0h-1.0zM510.9 254.6h1.2v1.2h-1.2zM418.6 261.6h1.5v1.5h-1.5zM472.7 254.2h1.2v1.2h-1.2zM535.5 235.6h1.2v1.2h-1.2zM282.1 270.5h1.0v1.0h-1.0zM344.8 275.5h1.2v1.2h-1.2zM409.8 266.5h1.2v1.2h-1.2zM494.1 258.1h1.0v1.0h-1.0zM417.4 253.5h1.2v1.2h-1.2zM363.0 276.8h1.0v1.0h-1.0zM481.6 235.4h1.2v1.2h-1.2zM561.0 250.8h1.2v1.2h-1.2zM360.7 279.9h1.2v1.2h-1.2zM364.9 274.9h1.5v1.5h-1.5zM493.4 253.2h1.5v1.5h-1.5zM328.5 272.4h1.0v1.0h-1.0zM388.7 266.3h1.0v1.0h-1.0zM351.5 279.0h1.5v1.5h-1.5zM242.9 297.6h1.2v1.2h-1.2zM502.9 252.2h1.2v1.2h-1.2zM345.9 260.0h1.2v1.2h-1.2zM435.7 252.2h1.0v1.0h-1.0zM421.3 261.7h1.0v1.0h-1.0zM405.8 245.7h1.2v1.2h-1.2zM260.8 302.6h1.2v1.2h-1.2zM367.5 274.9h1.5v1.5h-1.5zM416.9 269.2h1.0v1.0h-1.0zM487.0 258.4h1.0v1.0h-1.0zM350.5 278.8h1.0v1.0h-1.0zM423.3 260.4h1.2v1.2h-1.2zM375.4 253.2h1.5v1.5h-1.5zM280.4 289.1h1.5v1.5h-1.5zM325.4 278.8h1.5v1.5h-1.5zM454.4 245.4h1.5v1.5h-1.5zM437.0 261.2h1.0v1.0h-1.0zM495.7 236.0h1.0v1.0h-1.0zM421.7 263.9h1.0v1.0h-1.0zM357.1 281.1h1.5v1.5h-1.5zM461.4 255.3h1.2v1.2h-1.2zM492.5 246.3h1.5v1.5h-1.5zM514.6 239.6h1.5v1.5h-1.5zM361.4 274.5h1.2v1.2h-1.2zM335.7 287.9h1.2v1.2h-1.2zM494.0 258.9h1.5v1.5h-1.5zM386.6 269.9h1.0v1.0h-1.0zM314.0 279.9h1.5v1.5h-1.5zM481.3 250.3h1.0v1.0h-1.0zM526.8 255.1h1.5v1.5h-1.5zM411.5 252.9h1.0v1.0h-1.0zM485.4 256.3h1.5v1.5h-1.5zM524.9 246.7h1.0v1.0h-1.0zM335.4 286.7h1.5v1.5h-1.5zM471.0 252.1h1.2v1.2h-1.2zM397.7 267.2h1.0v1.0h-1.0zM389.6 273.5h1.5v1.5h-1.5zM261.4 295.8h1.0v1.0h-1.0zM334.2 263.1h1.0v1.0h-1.0zM379.0 251.0h1.5v1.5h-1.5zM324.9 267.4h1.2v1.2h-1.2zM457.4 260.6h1.5v1.5h-1.5zM288.9 294.9h1.0v1.0h-1.0zM548.5 244.9h1.5v1.5h-1.5zM497.8 242.6h1.2v1.2h-1.2zM519.3 233.9h1.0v1.0h-1.0zM420.5 263.3h1.5v1.5h-1.5zM419.4 266.3h1.2v1.2h-1.2zM514.0 253.2h1.2v1.2h-1.2zM252.5 301.4h1.2v1.2h-1.2zM445.8 261.3h1.0v1.0h-1.0zM477.1 241.9h1.5v1.5h-1.5zM424.3 268.6h1.5v1.5h-1.5zM468.1 261.8h1.0v1.0h-1.0zM493.6 258.6h1.0v1.0h-1.0zM490.7 243.1h1.0v1.0h-1.0zM274.0 298.7h1.5v1.5h-1.5zM398.5 265.6h1.5v1.5h-1.5zM512.8 244.9h1.5v1.5h-1.5zM427.3 261.8h1.2v1.2h-1.2zM455.3 258.8h1.0v1.0h-1.0zM281.1 299.1h1.2v1.2h-1.2zM269.4 287.3h1.0v1.0h-1.0zM474.9 241.6h1.0v1.0h-1.0zM515.8 250.4h1.5v1.5h-1.5zM251.1 299.6h1.2v1.2h-1.2zM434.9 249.0h1.5v1.5h-1.5zM419.7 253.7h1.0v1.0h-1.0zM364.8 280.3h1.5v1.5h-1.5zM242.7 301.6h1.2v1.2h-1.2zM391.2 270.8h1.2v1.2h-1.2zM249.9 307.1h1.2v1.2h-1.2zM251.1 304.1h1.2v1.2h-1.2zM489.2 259.9h1.0v1.0h-1.0zM491.5 256.7h1.0v1.0h-1.0zM481.3 259.2h1.0v1.0h-1.0zM278.0 293.6h1.2v1.2h-1.2zM401.9 257.8h1.2v1.2h-1.2zM433.8 266.2h1.5v1.5h-1.5zM306.0 291.4h1.0v1.0h-1.0zM422.4 256.5h1.2v1.2h-1.2zM248.0 305.4h1.0v1.0h-1.0zM403.3 266.9h1.0v1.0h-1.0zM513.1 252.7h1.2v1.2h-1.2zM558.6 252.0h1.5v1.5h-1.5zM316.3 280.8h1.5v1.5h-1.5zM332.1 276.3h1.5v1.5h-1.5zM418.5 262.4h1.0v1.0h-1.0zM363.0 277.0h1.0v1.0h-1.0zM271.9 286.8h1.5v1.5h-1.5zM528.1 252.3h1.5v1.5h-1.5zM455.4 257.6h1.2v1.2h-1.2zM505.6 242.3h1.2v1.2h-1.2zM460.1 253.0h1.5v1.5h-1.5zM247.4 302.8h1.2v1.2h-1.2zM494.4 239.7h1.5v1.5h-1.5zM458.1 235.8h1.0v1.0h-1.0zM439.5 262.6h1.5v1.5h-1.5zM524.0 255.2h1.5v1.5h-1.5zM344.2 279.3h1.0v1.0h-1.0zM240.9 312.2h1.2v1.2h-1.2zM453.9 262.2h1.5v1.5h-1.5zM510.3 256.4h1.5v1.5h-1.5zM423.7 267.3h1.2v1.2h-1.2zM408.1 268.8h1.0v1.0h-1.0zM273.2 280.8h1.5v1.5h-1.5zM365.6 276.2h1.0v1.0h-1.0zM403.7 267.4h1.2v1.2h-1.2zM463.7 250.3h1.5v1.5h-1.5zM391.6 267.8h1.5v1.5h-1.5zM412.9 265.1h1.2v1.2h-1.2zM447.3 260.5h1.5v1.5h-1.5zM424.2 267.7h1.2v1.2h-1.2zM378.0 270.0h1.0v1.0h-1.0zM430.4 267.6h1.5v1.5h-1.5zM312.5 288.9h1.0v1.0h-1.0zM254.0 303.6h1.0v1.0h-1.0zM361.4 278.0h1.0v1.0h-1.0zM403.5 270.6h1.5v1.5h-1.5zM468.0 249.3h1.5v1.5h-1.5zM381.4 273.4h1.0v1.0h-1.0zM462.5 255.7h1.5v1.5h-1.5zM491.9 256.5h1.2v1.2h-1.2zM419.6 267.7h1.2v1.2h-1.2zM525.1 254.4h1.0v1.0h-1.0zM429.3 267.3h1.0v1.0h-1.0zM458.2 235.6h1.0v1.0h-1.0zM458.3 243.6h1.5v1.5h-1.5zM258.8 300.7h1.0v1.0h-1.0zM260.2 293.9h1.5v1.5h-1.5zM312.0 290.2h1.2v1.2h-1.2zM351.3 284.1h1.2v1.2h-1.2zM401.6 271.5h1.2v1.2h-1.2zM488.6 253.4h1.2v1.2h-1.2zM500.6 250.0h1.0v1.0h-1.0zM514.2 231.1h1.2v1.2h-1.2zM465.6 234.8h1.5v1.5h-1.5zM281.3 295.7h1.2v1.2h-1.2zM417.4 257.9h1.0v1.0h-1.0zM384.1 275.2h1.5v1.5h-1.5zM431.2 263.4h1.5v1.5h-1.5zM497.3 241.8h1.0v1.0h-1.0zM340.9 265.9h1.2v1.2h-1.2zM373.4 267.9h1.5v1.5h-1.5zM464.8 254.1h1.5v1.5h-1.5zM376.4 269.3h1.2v1.2h-1.2zM473.5 261.7h1.5v1.5h-1.5zM428.0 257.3h1.0v1.0h-1.0zM528.1 255.9h1.5v1.5h-1.5zM468.9 261.4h1.0v1.0h-1.0zM454.2 244.2h1.0v1.0h-1.0zM338.3 275.3h1.0v1.0h-1.0zM398.7 269.0h1.2v1.2h-1.2zM523.2 245.6h1.5v1.5h-1.5zM444.4 250.4h1.2v1.2h-1.2zM488.2 257.9h1.0v1.0h-1.0zM409.2 252.6h1.0v1.0h-1.0zM434.9 258.0h1.2v1.2h-1.2zM383.3 264.9h1.0v1.0h-1.0zM521.2 240.6h1.0v1.0h-1.0zM441.1 262.5h1.0v1.0h-1.0zM512.1 232.1h1.5v1.5h-1.5zM359.8 277.2h1.5v1.5h-1.5zM313.1 271.8h1.0v1.0h-1.0zM297.0 293.6h1.0v1.0h-1.0zM491.2 246.6h1.0v1.0h-1.0zM495.1 251.3h1.5v1.5h-1.5zM255.7 298.2h1.2v1.2h-1.2zM424.2 262.5h1.2v1.2h-1.2zM552.7 247.8h1.0v1.0h-1.0zM489.7 258.7h1.0v1.0h-1.0zM430.9 266.8h1.2v1.2h-1.2zM351.6 282.0h1.5v1.5h-1.5zM362.6 264.0h1.2v1.2h-1.2zM509.5 250.7h1.0v1.0h-1.0zM397.3 270.8h1.5v1.5h-1.5zM403.4 271.8h1.0v1.0h-1.0zM498.8 244.0h1.0v1.0h-1.0zM423.6 264.9h1.0v1.0h-1.0zM451.1 259.4h1.0v1.0h-1.0zM418.6 267.4h1.5v1.5h-1.5zM433.2 257.1h1.5v1.5h-1.5zM289.7 297.9h1.5v1.5h-1.5zM446.4 236.4h1.2v1.2h-1.2zM354.5 260.7h1.5v1.5h-1.5zM460.3 260.9h1.5v1.5h-1.5zM443.2 265.6h1.0v1.0h-1.0zM419.4 262.6h1.5v1.5h-1.5zM510.8 246.6h1.5v1.5h-1.5zM414.9 260.8h1.5v1.5h-1.5zM331.2 288.8h1.5v1.5h-1.5zM490.4 245.9h1.5v1.5h-1.5zM438.4 253.3h1.0v1.0h-1.0zM520.7 253.4h1.0v1.0h-1.0zM477.7 256.4h1.2v1.2h-1.2zM493.9 257.9h1.2v1.2h-1.2zM257.7 293.9h1.5v1.5h-1.5zM481.6 250.7h1.2v1.2h-1.2zM296.5 293.5h1.5v1.5h-1.5zM515.2 252.0h1.2v1.2h-1.2zM508.4 250.3h1.0v1.0h-1.0zM505.2 246.2h1.2v1.2h-1.2zM515.4 237.4h1.5v1.5h-1.5zM495.6 251.2h1.2v1.2h-1.2zM428.1 267.0h1.0v1.0h-1.0zM269.5 299.6h1.2v1.2h-1.2zM356.8 281.1h1.5v1.5h-1.5zM429.7 260.8h1.0v1.0h-1.0zM403.4 268.3h1.2v1.2h-1.2zM381.2 260.5h1.2v1.2h-1.2zM299.6 295.4h1.0v1.0h-1.0zM330.6 284.5h1.5v1.5h-1.5zM332.4 277.8h1.5v1.5h-1.5zM362.7 273.1h1.0v1.0h-1.0zM483.1 250.9h1.5v1.5h-1.5zM423.3 264.7h1.2v1.2h-1.2zM452.4 263.6h1.2v1.2h-1.2zM441.0 264.4h1.5v1.5h-1.5zM353.8 279.0h1.5v1.5h-1.5zM392.3 265.0h1.2v1.2h-1.2zM506.4 253.3h1.0v1.0h-1.0zM462.7 261.6h1.0v1.0h-1.0zM414.3 264.2h1.2v1.2h-1.2zM493.5 251.6h1.0v1.0h-1.0zM396.9 266.6h1.5v1.5h-1.5zM264.4 298.6h1.0v1.0h-1.0zM417.2 261.9h1.2v1.2h-1.2zM372.8 271.6h1.0v1.0h-1.0zM397.6 270.6h1.0v1.0h-1.0zM470.4 250.6h1.0v1.0h-1.0zM353.6 268.7h1.5v1.5h-1.5zM511.5 246.9h1.5v1.5h-1.5zM449.4 260.7h1.0v1.0h-1.0zM372.5 260.5h1.0v1.0h-1.0zM457.3 262.5h1.5v1.5h-1.5zM367.2 279.1h1.5v1.5h-1.5zM505.2 237.6h1.2v1.2h-1.2zM503.5 245.4h1.5v1.5h-1.5zM347.8 283.6h1.0v1.0h-1.0zM522.1 245.3h1.0v1.0h-1.0zM457.8 262.8h1.5v1.5h-1.5zM498.2 254.2h1.2v1.2h-1.2zM367.6 274.8h1.2v1.2h-1.2zM253.6 300.5h1.2v1.2h-1.2zM335.5 288.1h1.5v1.5h-1.5zM404.9 271.0h1.5v1.5h-1.5zM436.2 265.1h1.2v1.2h-1.2zM362.6 271.7h1.2v1.2h-1.2zM398.2 269.9h1.2v1.2h-1.2zM379.1 273.8h1.2v1.2h-1.2zM486.8 252.8h1.2v1.2h-1.2zM499.9 234.9h1.5v1.5h-1.5zM525.4 250.7h1.5v1.5h-1.5zM515.5 247.6h1.5v1.5h-1.5zM453.2 262.0h1.2v1.2h-1.2zM508.7 255.9h1.2v1.2h-1.2zM527.0 253.8h1.2v1.2h-1.2zM313.3 279.0h1.2v1.2h-1.2zM487.5 255.8h1.0v1.0h-1.0zM333.1 284.6h1.5v1.5h-1.5zM381.9 276.2h1.0v1.0h-1.0zM389.1 265.8h1.2v1.2h-1.2zM480.4 250.4h1.2v1.2h-1.2zM496.7 255.3h1.5v1.5h-1.5zM443.7 265.2h1.0v1.0h-1.0zM413.4 268.8h1.5v1.5h-1.5zM375.0 277.0h1.0v1.0h-1.0zM472.8 258.4h1.5v1.5h-1.5zM511.0 243.0h1.0v1.0h-1.0zM445.3 262.2h1.2v1.2h-1.2zM455.7 263.1h1.5v1.5h-1.5zM245.0 308.0h1.5v1.5h-1.5zM374.8 254.9h1.2v1.2h-1.2zM240.3 312.7h1.0v1.0h-1.0zM438.6 257.3h1.0v1.0h-1.0zM442.9 264.6h1.2v1.2h-1.2zM547.9 245.4h1.2v1.2h-1.2zM398.2 272.4h1.2v1.2h-1.2zM328.7 288.9h1.0v1.0h-1.0zM292.2 298.1h1.2v1.2h-1.2zM265.1 292.3h1.5v1.5h-1.5zM458.0 261.3h1.2v1.2h-1.2zM499.0 248.6h1.5v1.5h-1.5zM480.0 253.7h1.2v1.2h-1.2zM348.1 283.8h1.5v1.5h-1.5zM511.7 254.9h1.2v1.2h-1.2zM377.7 271.7h1.5v1.5h-1.5zM392.7 264.5h1.0v1.0h-1.0zM507.3 241.7h1.5v1.5h-1.5zM335.8 284.1h1.2v1.2h-1.2zM447.4 245.1h1.0v1.0h-1.0zM249.9 308.1h1.0v1.0h-1.0zM334.2 273.2h1.5v1.5h-1.5zM454.7 253.8h1.5v1.5h-1.5zM332.8 276.9h1.0v1.0h-1.0zM427.2 265.8h1.2v1.2h-1.2zM372.0 271.4h1.5v1.5h-1.5zM432.6 265.1h1.2v1.2h-1.2zM430.5 259.0h1.0v1.0h-1.0zM345.2 282.5h1.5v1.5h-1.5zM282.1 297.8h1.2v1.2h-1.2zM520.3 237.8h1.0v1.0h-1.0zM420.3 257.9h1.0v1.0h-1.0zM505.5 238.9h1.0v1.0h-1.0zM396.6 250.4h1.0v1.0h-1.0zM421.5 269.0h1.2v1.2h-1.2zM280.7 290.4h1.0v1.0h-1.0zM293.8 292.8h1.2v1.2h-1.2zM266.3 290.1h1.2v1.2h-1.2zM475.8 251.7h1.0v1.0h-1.0zM338.4 273.0h1.0v1.0h-1.0zM432.1 266.0h1.0v1.0h-1.0zM411.4 268.5h1.5v1.5h-1.5zM471.1 259.0h1.2v1.2h-1.2zM286.2 298.8h1.5v1.5h-1.5zM325.8 274.1h1.2v1.2h-1.2zM458.4 254.3h1.0v1.0h-1.0zM450.8 261.8h1.0v1.0h-1.0zM315.9 280.5h1.5v1.5h-1.5zM452.4 244.9h1.0v1.0h-1.0zM453.6 253.1h1.2v1.2h-1.2zM268.3 290.2h1.0v1.0h-1.0zM397.3 271.5h1.2v1.2h-1.2zM423.8 266.0h1.5v1.5h-1.5zM348.4 278.8h1.0v1.0h-1.0zM487.6 252.8h1.5v1.5h-1.5zM398.6 268.8h1.0v1.0h-1.0zM524.1 254.2h1.5v1.5h-1.5zM408.4 269.5h1.2v1.2h-1.2zM521.8 255.5h1.0v1.0h-1.0zM392.4 269.9h1.2v1.2h-1.2zM328.5 289.1h1.2v1.2h-1.2zM306.1 287.3h1.0v1.0h-1.0zM541.8 251.0h1.2v1.2h-1.2zM432.4 267.4h1.0v1.0h-1.0zM442.6 246.1h1.2v1.2h-1.2zM248.8 308.1h1.0v1.0h-1.0zM294.5 293.7h1.5v1.5h-1.5zM513.5 248.0h1.5v1.5h-1.5zM462.7 258.7h1.0v1.0h-1.0zM342.6 282.7h1.2v1.2h-1.2zM437.1 260.0h1.2v1.2h-1.2zM270.6 300.5h1.5v1.5h-1.5zM331.0 286.4h1.5v1.5h-1.5zM428.5 249.7h1.5v1.5h-1.5zM467.2 261.5h1.2v1.2h-1.2zM523.0 253.0h1.0v1.0h-1.0zM436.8 252.1h1.5v1.5h-1.5zM393.0 264.4h1.2v1.2h-1.2zM393.2 272.3h1.2v1.2h-1.2zM484.4 255.6h1.0v1.0h-1.0zM509.2 255.5h1.5v1.5h-1.5zM452.4 261.8h1.0v1.0h-1.0zM431.2 266.8h1.5v1.5h-1.5zM447.1 265.1h1.2v1.2h-1.2zM436.1 262.1h1.5v1.5h-1.5zM494.0 246.1h1.0v1.0h-1.0zM357.4 281.9h1.5v1.5h-1.5zM265.5 300.3h1.5v1.5h-1.5zM467.8 236.6h1.5v1.5h-1.5zM374.9 276.5h1.0v1.0h-1.0zM445.8 265.4h1.0v1.0h-1.0zM512.8 245.4h1.2v1.2h-1.2zM525.8 253.2h1.5v1.5h-1.5zM445.8 254.3h1.5v1.5h-1.5zM321.7 289.8h1.5v1.5h-1.5zM461.3 254.6h1.0v1.0h-1.0zM418.1 265.5h1.0v1.0h-1.0zM455.7 263.5h1.0v1.0h-1.0zM474.8 255.8h1.2v1.2h-1.2zM352.9 282.5h1.5v1.5h-1.5zM368.8 275.3h1.0v1.0h-1.0zM409.9 266.9h1.2v1.2h-1.2zM480.9 256.9h1.0v1.0h-1.0zM490.8 259.1h1.0v1.0h-1.0zM508.4 253.5h1.5v1.5h-1.5zM379.9 268.8h1.2v1.2h-1.2zM325.0 287.2h1.0v1.0h-1.0zM523.1 256.3h1.0v1.0h-1.0zM527.9 250.9h1.2v1.2h-1.2zM337.4 279.6h1.0v1.0h-1.0zM451.9 263.9h1.0v1.0h-1.0zM408.2 268.1h1.5v1.5h-1.5zM453.9 264.1h1.0v1.0h-1.0zM300.0 285.0h1.0v1.0h-1.0zM389.1 273.8h1.2v1.2h-1.2zM237.0 313.5h1.5v1.5h-1.5zM447.7 263.8h1.5v1.5h-1.5zM441.4 258.5h1.0v1.0h-1.0zM525.0 252.7h1.2v1.2h-1.2zM504.2 242.0h1.2v1.2h-1.2zM386.4 274.1h1.5v1.5h-1.5zM360.2 258.7h1.5v1.5h-1.5zM297.4 295.1h1.0v1.0h-1.0zM407.5 268.5h1.2v1.2h-1.2zM338.6 286.5h1.2v1.2h-1.2zM256.5 300.8h1.2v1.2h-1.2zM454.9 256.9h1.0v1.0h-1.0zM440.9 255.8h1.5v1.5h-1.5zM557.8 239.3h1.2v1.2h-1.2zM400.6 249.2h1.0v1.0h-1.0zM344.7 282.6h1.5v1.5h-1.5zM342.8 278.1h1.2v1.2h-1.2zM538.9 246.3h1.2v1.2h-1.2zM312.5 292.9h1.0v1.0h-1.0zM442.9 254.4h1.0v1.0h-1.0zM485.8 256.3h1.5v1.5h-1.5zM410.8 270.4h1.0v1.0h-1.0zM247.6 298.1h1.0v1.0h-1.0zM448.0 261.5h1.5v1.5h-1.5zM467.7 244.6h1.2v1.2h-1.2zM363.6 265.8h1.2v1.2h-1.2zM545.7 246.8h1.0v1.0h-1.0zM368.7 276.4h1.0v1.0h-1.0zM385.4 181.0h1.0v1.0h-1.0zM408.6 175.1h1.2v1.2h-1.2zM330.5 196.2h1.0v1.0h-1.0zM381.5 183.8h1.2v1.2h-1.2zM430.3 171.1h1.2v1.2h-1.2zM420.9 174.5h1.0v1.0h-1.0zM362.4 187.6h1.0v1.0h-1.0zM362.4 185.9h1.2v1.2h-1.2zM454.5 164.6h1.2v1.2h-1.2zM448.2 166.6h1.0v1.0h-1.0zM314.1 202.8h1.2v1.2h-1.2zM358.0 195.7h1.0v1.0h-1.0zM346.8 194.7h1.0v1.0h-1.0zM349.4 194.8h1.0v1.0h-1.0zM333.1 195.5h1.0v1.0h-1.0zM353.8 193.6h1.0v1.0h-1.0zM252.2 223.4h1.2v1.2h-1.2zM389.1 184.5h1.2v1.2h-1.2zM304.5 209.0h1.0v1.0h-1.0zM267.9 219.9h1.0v1.0h-1.0zM313.3 209.5h1.2v1.2h-1.2zM420.9 172.1h1.2v1.2h-1.2zM420.0 173.6h1.2v1.2h-1.2zM251.8 224.3h1.2v1.2h-1.2zM263.4 231.0h1.2v1.2h-1.2zM399.7 180.6h1.2v1.2h-1.2zM458.0 161.8h1.0v1.0h-1.0zM290.3 208.0h1.0v1.0h-1.0zM300.5 206.5h1.0v1.0h-1.0zM366.3 189.4h1.2v1.2h-1.2zM390.5 189.3h1.0v1.0h-1.0zM252.7 230.4h1.0v1.0h-1.0zM292.3 211.5h1.2v1.2h-1.2zM389.3 179.5h1.0v1.0h-1.0zM265.3 228.4h1.0v1.0h-1.0zM348.8 189.8h1.2v1.2h-1.2zM460.5 160.2h1.2v1.2h-1.2zM369.9 185.6h1.0v1.0h-1.0zM398.2 180.1h1.0v1.0h-1.0zM267.5 218.7h1.2v1.2h-1.2zM441.4 166.6h1.2v1.2h-1.2zM437.0 172.0h1.0v1.0h-1.0zM334.3 197.0h1.2v1.2h-1.2zM422.3 177.8h1.2v1.2h-1.2zM399.6 178.9h1.0v1.0h-1.0zM431.3 170.8h1.2v1.2h-1.2zM379.6 185.3h1.0v1.0h-1.0zM351.8 188.7h1.0v1.0h-1.0zM353.0 187.8h1.0v1.0h-1.0zM310.5 209.1h1.0v1.0h-1.0zM394.6 178.6h1.0v1.0h-1.0zM414.3 176.0h1.2v1.2h-1.2zM279.5 209.9h1.0v1.0h-1.0zM334.0 193.6h1.2v1.2h-1.2zM274.7 218.8h1.2v1.2h-1.2zM418.1 173.0h1.0v1.0h-1.0zM421.8 170.6h1.2v1.2h-1.2zM447.1 164.0h1.0v1.0h-1.0zM257.7 226.3h1.0v1.0h-1.0zM355.2 187.0h1.2v1.2h-1.2zM312.2 203.3h1.0v1.0h-1.0zM295.3 210.5h1.2v1.2h-1.2zM399.9 177.2h1.2v1.2h-1.2zM329.4 194.9h1.2v1.2h-1.2zM350.8 196.3h1.0v1.0h-1.0zM271.7 216.4h1.2v1.2h-1.2zM315.9 203.6h1.0v1.0h-1.0zM253.0 231.5h1.2v1.2h-1.2zM290.0 210.8h1.2v1.2h-1.2zM426.4 175.7h1.2v1.2h-1.2zM322.9 201.8h1.0v1.0h-1.0zM349.9 199.8h1.2v1.2h-1.2zM422.5 172.4h1.0v1.0h-1.0zM360.2 186.0h1.2v1.2h-1.2zM324.2 198.8h1.0v1.0h-1.0zM435.7 168.0h1.2v1.2h-1.2zM368.4 188.9h1.0v1.0h-1.0zM456.2 162.7h1.2v1.2h-1.2zM376.9 186.1h1.0v1.0h-1.0zM406.7 175.8h1.0v1.0h-1.0zM436.6 168.9h1.0v1.0h-1.0zM448.9 163.9h1.2v1.2h-1.2zM266.1 214.4h1.0v1.0h-1.0zM254.8 222.9h1.0v1.0h-1.0zM338.8 203.7h1.2v1.2h-1.2zM384.0 181.6h1.0v1.0h-1.0zM381.3 190.2h1.2v1.2h-1.2zM352.0 195.0h1.2v1.2h-1.2zM297.8 207.5h1.2v1.2h-1.2zM263.8 220.3h1.0v1.0h-1.0zM409.5 174.0h1.0v1.0h-1.0zM325.8 199.2h1.2v1.2h-1.2zM264.7 220.1h1.0v1.0h-1.0zM443.8 165.1h1.2v1.2h-1.2zM395.9 189.0h1.0v1.0h-1.0zM451.7 163.0h1.2v1.2h-1.2zM391.7 180.6h1.0v1.0h-1.0zM355.8 187.2h1.0v1.0h-1.0zM305.5 210.8h1.0v1.0h-1.0zM283.3 209.0h1.2v1.2h-1.2zM267.4 211.6h1.2v1.2h-1.2zM399.0 177.5h1.2v1.2h-1.2zM341.9 192.6h1.2v1.2h-1.2zM456.4 160.4h1.2v1.2h-1.2zM255.7 220.5h1.2v1.2h-1.2zM337.9 202.6h1.0v1.0h-1.0zM359.4 186.6h1.0v1.0h-1.0zM364.4 186.3h1.0v1.0h-1.0zM447.1 166.9h1.0v1.0h-1.0zM291.6 217.7h1.2v1.2h-1.2zM423.8 175.5h1.0v1.0h-1.0zM304.8 205.9h1.0v1.0h-1.0zM357.2 191.3h1.2v1.2h-1.2zM326.5 199.4h1.0v1.0h-1.0zM298.4 209.7h1.2v1.2h-1.2zM320.2 200.9h1.0v1.0h-1.0zM404.0 177.6h1.0v1.0h-1.0zM365.9 183.9h1.2v1.2h-1.2zM340.1 193.1h1.2v1.2h-1.2zM359.1 185.2h1.2v1.2h-1.2zM273.5 211.8h1.2v1.2h-1.2zM291.7 211.5h1.0v1.0h-1.0zM319.6 196.6h1.0v1.0h-1.0zM452.2 165.4h1.2v1.2h-1.2zM345.9 193.6h1.2v1.2h-1.2zM387.3 184.7h1.2v1.2h-1.2zM403.0 176.4h1.2v1.2h-1.2zM433.1 172.1h1.2v1.2h-1.2zM400.0 181.6h1.0v1.0h-1.0zM454.9 165.2h1.0v1.0h-1.0zM449.2 163.8h1.0v1.0h-1.0zM406.3 180.8h1.0v1.0h-1.0zM338.1 197.3h1.2v1.2h-1.2zM394.3 180.8h1.2v1.2h-1.2zM309.5 203.6h1.0v1.0h-1.0zM314.6 203.6h1.0v1.0h-1.0zM460.4 173.3h1.0v1.0h-1.0zM313.8 202.0h1.0v1.0h-1.0zM430.0 170.7h1.0v1.0h-1.0zM351.5 191.1h1.0v1.0h-1.0zM346.5 190.0h1.2v1.2h-1.2zM438.3 173.1h1.2v1.2h-1.2zM257.1 223.7h1.0v1.0h-1.0zM355.2 186.8h1.2v1.2h-1.2zM310.4 203.8h1.0v1.0h-1.0zM458.5 163.2h1.2v1.2h-1.2zM361.9 184.2h1.0v1.0h-1.0zM414.1 179.0h1.0v1.0h-1.0zM393.2 178.6h1.2v1.2h-1.2zM359.0 187.0h1.2v1.2h-1.2zM394.5 186.0h1.0v1.0h-1.0zM294.5 207.2h1.2v1.2h-1.2zM339.6 194.7h1.2v1.2h-1.2zM332.5 203.2h1.2v1.2h-1.2zM414.4 175.0h1.2v1.2h-1.2zM348.0 193.2h1.2v1.2h-1.2zM444.1 167.9h1.0v1.0h-1.0zM321.7 200.7h1.2v1.2h-1.2zM279.3 211.0h1.2v1.2h-1.2zM385.3 179.9h1.0v1.0h-1.0zM352.4 189.8h1.0v1.0h-1.0zM290.9 210.5h1.0v1.0h-1.0zM293.0 209.1h1.0v1.0h-1.0zM442.2 166.8h1.0v1.0h-1.0zM352.3 190.5h1.2v1.2h-1.2zM316.5 203.9h1.2v1.2h-1.2zM398.1 179.3h1.0v1.0h-1.0zM386.7 190.4h1.2v1.2h-1.2zM399.8 177.4h1.2v1.2h-1.2zM250.1 221.8h1.0v1.0h-1.0zM257.4 220.6h1.2v1.2h-1.2zM286.7 211.3h1.0v1.0h-1.0zM451.4 162.4h1.0v1.0h-1.0zM435.9 168.3h1.0v1.0h-1.0zM391.2 179.3h1.0v1.0h-1.0zM380.9 183.5h1.0v1.0h-1.0zM292.8 213.3h1.2v1.2h-1.2zM425.6 171.0h1.0v1.0h-1.0zM369.3 187.3h1.0v1.0h-1.0zM404.6 181.9h1.0v1.0h-1.0zM432.5 179.1h1.0v1.0h-1.0zM349.7 192.6h1.0v1.0h-1.0zM401.2 177.7h1.0v1.0h-1.0zM356.8 186.5h1.2v1.2h-1.2zM333.8 195.0h1.0v1.0h-1.0zM323.1 200.5h1.0v1.0h-1.0zM456.4 167.6h1.2v1.2h-1.2zM330.1 198.0h1.0v1.0h-1.0zM297.1 212.6h1.0v1.0h-1.0zM266.5 213.2h1.0v1.0h-1.0zM430.6 172.2h1.0v1.0h-1.0zM273.9 218.2h1.2v1.2h-1.2zM447.8 168.7h1.0v1.0h-1.0zM288.5 210.4h1.0v1.0h-1.0zM333.6 194.7h1.2v1.2h-1.2zM456.1 166.8h1.0v1.0h-1.0zM399.1 179.3h1.2v1.2h-1.2zM354.2 196.2h1.2v1.2h-1.2zM392.0 179.3h1.2v1.2h-1.2zM272.7 212.3h1.0v1.0h-1.0zM383.0 181.2h1.2v1.2h-1.2zM409.5 175.4h1.2v1.2h-1.2zM333.9 195.4h1.0v1.0h-1.0zM405.9 178.8h1.2v1.2h-1.2zM335.4 196.3h1.0v1.0h-1.0zM315.5 201.8h1.0v1.0h-1.0zM310.1 210.8h1.2v1.2h-1.2zM405.3 178.7h1.0v1.0h-1.0zM356.0 190.4h1.2v1.2h-1.2zM305.5 205.0h1.0v1.0h-1.0zM354.6 187.0h1.0v1.0h-1.0zM298.9 205.9h1.0v1.0h-1.0zM411.0 185.5h1.0v1.0h-1.0zM406.6 174.8h1.0v1.0h-1.0zM407.2 178.7h1.2v1.2h-1.2zM459.9 160.8h1.2v1.2h-1.2zM436.5 167.5h1.2v1.2h-1.2zM283.5 210.2h1.2v1.2h-1.2zM341.2 193.6h1.0v1.0h-1.0zM258.0 219.5h1.2v1.2h-1.2zM419.7 171.4h1.0v1.0h-1.0zM379.5 182.9h1.0v1.0h-1.0zM429.5 174.4h1.0v1.0h-1.0zM455.9 163.5h1.2v1.2h-1.2zM453.5 163.1h1.0v1.0h-1.0zM362.7 186.1h1.0v1.0h-1.0zM252.0 225.0h1.2v1.2h-1.2zM433.0 171.1h1.0v1.0h-1.0zM438.1 172.4h1.2v1.2h-1.2zM313.9 204.8h1.0v1.0h-1.0zM387.8 180.4h1.0v1.0h-1.0zM326.6 196.7h1.0v1.0h-1.0zM282.4 212.3h1.2v1.2h-1.2zM310.6 212.0h1.2v1.2h-1.2zM414.9 173.1h1.2v1.2h-1.2zM265.7 223.7h1.0v1.0h-1.0zM445.0 169.0h1.0v1.0h-1.0zM437.5 171.1h1.2v1.2h-1.2zM350.6 192.9h1.2v1.2h-1.2zM278.3 212.7h1.0v1.0h-1.0zM395.9 184.7h1.0v1.0h-1.0zM372.7 183.5h1.2v1.2h-1.2zM330.1 201.0h1.2v1.2h-1.2zM312.5 207.9h1.2v1.2h-1.2zM289.1 214.1h1.0v1.0h-1.0zM309.8 218.6h1.0v1.0h-1.0zM266.3 220.9h1.2v1.2h-1.2zM326.2 199.6h1.0v1.0h-1.0zM271.4 214.9h1.2v1.2h-1.2zM370.5 183.0h1.2v1.2h-1.2zM381.1 180.8h1.0v1.0h-1.0zM287.0 219.6h1.2v1.2h-1.2zM440.3 167.2h1.2v1.2h-1.2zM342.6 200.2h1.0v1.0h-1.0z" fill="#ffffff" opacity="0.7"/><path d="M176.0 294.3 L179.0 292.9 L182.0 293.1 L185.0 292.7 L188.0 291.3 L191.0 290.6 L194.0 290.1 L197.0 290.0 L200.0 289.6 L203.0 289.3 L206.0 289.0 L209.0 287.6 L212.0 285.7 L215.0 284.1 L218.0 282.4 L221.0 282.9 L224.0 282.2 L227.0 281.2 L230.0 280.7 L233.0 280.2 L236.0 278.4 L239.0 279.2 L242.0 278.9 L245.0 278.4 L248.0 277.6 L251.0 277.8 L254.0 277.7 L257.0 278.0 L260.0 277.3 L263.0 276.8 L266.0 276.6 L269.0 276.0 L272.0 276.5 L275.0 276.1 L278.0 276.7 L281.0 277.4 L284.0 277.4 L287.0 277.4 L290.0 277.0 L293.0 277.2 L296.0 276.2 L299.0 275.0 L302.0 275.1 L305.0 274.0 L308.0 272.1 L311.0 271.6 L314.0 269.6 L317.0 269.6 L320.0 270.0 L323.0 269.0 L326.0 269.8 L329.0 269.2 L332.0 268.2 L335.0 267.1 L338.0 267.8 L341.0 267.1 L344.0 265.5 L347.0 265.4 L350.0 265.6 L353.0 263.6 L356.0 263.2 L359.0 261.0 L362.0 260.5 L365.0 260.4 L368.0 258.4 L371.0 258.2 L374.0 258.1 L377.0 258.5 L380.0 257.8 L383.0 258.5 L386.0 258.7 L389.0 259.1 L392.0 258.1 L395.0 259.0 L398.0 258.4 L401.0 257.8 L404.0 257.9" fill="none" stroke="#0a1a40" stroke-opacity="0.65" stroke-width="1.6"/><path d="M234.0 301.6 L237.0 299.7 L240.0 297.6 L243.0 295.5 L246.0 294.6 L249.0 293.1 L252.0 291.8 L255.0 290.6 L258.0 289.9 L261.0 287.4 L264.0 286.8 L267.0 285.4 L270.0 285.1 L273.0 284.2 L276.0 283.3 L279.0 281.6 L282.0 280.7 L285.0 279.9 L288.0 278.6 L291.0 277.5" fill="none" stroke="#0a1a40" stroke-opacity="0.6" stroke-width="1.4"/><rect x="528.8" y="147.5" width="38.2" height="56.6" fill="none" stroke="#e0141c" stroke-width="2.2"/><path d="M51 11H623V375H51Z M55 15V371H619V15Z" fill="#f2f2f2" fill-rule="evenodd"/><path d="M55.00 11.3H59.68V14.8H55.00Z M55.00 371.2H59.68V374.7H55.00Z M69.30 11.3H78.92V14.8H69.30Z M69.30 371.2H78.92V374.7H69.30Z M88.53 11.3H98.15V14.8H88.53Z M88.53 371.2H98.15V374.7H88.53Z M107.76 11.3H117.38V14.8H107.76Z M107.76 371.2H117.38V374.7H107.76Z M127.00 11.3H136.61V14.8H127.00Z M127.00 371.2H136.61V374.7H127.00Z M146.23 11.3H155.84V14.8H146.23Z M146.23 371.2H155.84V374.7H146.23Z M165.46 11.3H175.08V14.8H165.46Z M165.46 371.2H175.08V374.7H165.46Z M184.69 11.3H194.31V14.8H184.69Z M184.69 371.2H194.31V374.7H184.69Z M203.92 11.3H213.54V14.8H203.92Z M203.92 371.2H213.54V374.7H203.92Z M223.16 11.3H232.77V14.8H223.16Z M223.16 371.2H232.77V374.7H223.16Z M242.39 11.3H252.00V14.8H242.39Z M242.39 371.2H252.00V374.7H242.39Z M261.62 11.3H271.24V14.8H261.62Z M261.62 371.2H271.24V374.7H261.62Z M280.85 11.3H290.47V14.8H280.85Z M280.85 371.2H290.47V374.7H280.85Z M300.08 11.3H309.70V14.8H300.08Z M300.08 371.2H309.70V374.7H300.08Z M319.32 11.3H328.93V14.8H319.32Z M319.32 371.2H328.93V374.7H319.32Z M338.55 11.3H348.16V14.8H338.55Z M338.55 371.2H348.16V374.7H338.55Z M357.78 11.3H367.40V14.8H357.78Z M357.78 371.2H367.40V374.7H357.78Z M377.01 11.3H386.63V14.8H377.01Z M377.01 371.2H386.63V374.7H377.01Z M396.24 11.3H405.86V14.8H396.24Z M396.24 371.2H405.86V374.7H396.24Z M415.48 11.3H425.09V14.8H415.48Z M415.48 371.2H425.09V374.7H415.48Z M434.71 11.3H444.32V14.8H434.71Z M434.71 371.2H444.32V374.7H434.71Z M453.94 11.3H463.56V14.8H453.94Z M453.94 371.2H463.56V374.7H453.94Z M473.17 11.3H482.79V14.8H473.17Z M473.17 371.2H482.79V374.7H473.17Z M492.40 11.3H502.02V14.8H492.40Z M492.40 371.2H502.02V374.7H492.40Z M511.64 11.3H521.25V14.8H511.64Z M511.64 371.2H521.25V374.7H511.64Z M530.87 11.3H540.48V14.8H530.87Z M530.87 371.2H540.48V374.7H530.87Z M550.10 11.3H559.72V14.8H550.10Z M550.10 371.2H559.72V374.7H550.10Z M569.33 11.3H578.95V14.8H569.33Z M569.33 371.2H578.95V374.7H569.33Z M588.56 11.3H598.18V14.8H588.56Z M588.56 371.2H598.18V374.7H588.56Z M607.80 11.3H617.41V14.8H607.80Z M607.80 371.2H617.41V374.7H607.80Z M51.3 361.96H54.8V371.00H51.3Z M619.3 361.96H622.8V371.00H619.3Z M51.3 342.50H54.8V352.23H51.3Z M619.3 342.50H622.8V352.23H619.3Z M51.3 323.04H54.8V332.77H51.3Z M619.3 323.04H622.8V332.77H619.3Z M51.3 303.58H54.8V313.31H51.3Z M619.3 303.58H622.8V313.31H619.3Z M51.3 284.12H54.8V293.85H51.3Z M619.3 284.12H622.8V293.85H619.3Z M51.3 264.66H54.8V274.39H51.3Z M619.3 264.66H622.8V274.39H619.3Z M51.3 245.20H54.8V254.93H51.3Z M619.3 245.20H622.8V254.93H619.3Z M51.3 225.74H54.8V235.47H51.3Z M619.3 225.74H622.8V235.47H619.3Z M51.3 206.28H54.8V216.01H51.3Z M619.3 206.28H622.8V216.01H619.3Z M51.3 186.82H54.8V196.55H51.3Z M619.3 186.82H622.8V196.55H619.3Z M51.3 167.36H54.8V177.09H51.3Z M619.3 167.36H622.8V177.09H619.3Z M51.3 147.90H54.8V157.63H51.3Z M619.3 147.90H622.8V157.63H619.3Z M51.3 128.44H54.8V138.17H51.3Z M619.3 128.44H622.8V138.17H619.3Z M51.3 108.98H54.8V118.71H51.3Z M619.3 108.98H622.8V118.71H619.3Z M51.3 89.52H54.8V99.25H51.3Z M619.3 89.52H622.8V99.25H619.3Z M51.3 70.06H54.8V79.79H51.3Z M619.3 70.06H622.8V79.79H619.3Z M51.3 50.60H54.8V60.33H51.3Z M619.3 50.60H622.8V60.33H619.3Z M51.3 31.14H54.8V40.87H51.3Z M619.3 31.14H622.8V40.87H619.3Z M51.3 15.00H54.8V21.41H51.3Z M619.3 15.00H622.8V21.41H619.3Z" fill="#111"/><rect x="50.5" y="10.5" width="573" height="365" fill="none" stroke="#999" stroke-width="1"/><rect x="55" y="15" width="564" height="356" fill="none" stroke="#bbb" stroke-width="0.8"/><g font-family="Liberation Sans, Arial, sans-serif" fill="#2a2a2a" stroke="#2a2a2a" stroke-width="0.25"><text transform="translate(47.60 53.80) scale(1.05 1)" text-anchor="end" font-size="10.5">11<tspan font-size="7.5" dy="-1.8">˚</tspan><tspan dy="1.8" dx="0.3">45'N</tspan></text><text transform="translate(47.60 102.45) scale(1.05 1)" text-anchor="end" font-size="10.5">11<tspan font-size="7.5" dy="-1.8">˚</tspan><tspan dy="1.8" dx="0.3">40'N</tspan></text><text transform="translate(47.60 151.10) scale(1.05 1)" text-anchor="end" font-size="10.5">11<tspan font-size="7.5" dy="-1.8">˚</tspan><tspan dy="1.8" dx="0.3">35'N</tspan></text><text transform="translate(47.60 199.75) scale(1.05 1)" text-anchor="end" font-size="10.5">11<tspan font-size="7.5" dy="-1.8">˚</tspan><tspan dy="1.8" dx="0.3">30'N</tspan></text><text transform="translate(47.60 248.40) scale(1.05 1)" text-anchor="end" font-size="10.5">11<tspan font-size="7.5" dy="-1.8">˚</tspan><tspan dy="1.8" dx="0.3">25'N</tspan></text><text transform="translate(47.60 297.05) scale(1.05 1)" text-anchor="end" font-size="10.5">11<tspan font-size="7.5" dy="-1.8">˚</tspan><tspan dy="1.8" dx="0.3">20'N</tspan></text><text transform="translate(47.60 345.70) scale(1.05 1)" text-anchor="end" font-size="10.5">11<tspan font-size="7.5" dy="-1.8">˚</tspan><tspan dy="1.8" dx="0.3">15'N</tspan></text><text transform="translate(67.35 390.00) scale(1.01 1)" text-anchor="middle" font-size="10.5">142<tspan font-size="7.5" dy="-1.8">˚</tspan><tspan dy="1.8" dx="0.3">20'E</tspan></text><text transform="translate(115.43 390.00) scale(1.01 1)" text-anchor="middle" font-size="10.5">142<tspan font-size="7.5" dy="-1.8">˚</tspan><tspan dy="1.8" dx="0.3">25'E</tspan></text><text transform="translate(163.51 390.00) scale(1.01 1)" text-anchor="middle" font-size="10.5">142<tspan font-size="7.5" dy="-1.8">˚</tspan><tspan dy="1.8" dx="0.3">30'E</tspan></text><text transform="translate(211.59 390.00) scale(1.01 1)" text-anchor="middle" font-size="10.5">142<tspan font-size="7.5" dy="-1.8">˚</tspan><tspan dy="1.8" dx="0.3">35'E</tspan></text><text transform="translate(259.67 390.00) scale(1.01 1)" text-anchor="middle" font-size="10.5">142<tspan font-size="7.5" dy="-1.8">˚</tspan><tspan dy="1.8" dx="0.3">40'E</tspan></text><text transform="translate(307.75 390.00) scale(1.01 1)" text-anchor="middle" font-size="10.5">142<tspan font-size="7.5" dy="-1.8">˚</tspan><tspan dy="1.8" dx="0.3">45'E</tspan></text><text transform="translate(355.83 390.00) scale(1.01 1)" text-anchor="middle" font-size="10.5">142<tspan font-size="7.5" dy="-1.8">˚</tspan><tspan dy="1.8" dx="0.3">50'E</tspan></text><text transform="translate(403.91 390.00) scale(1.01 1)" text-anchor="middle" font-size="10.5">142<tspan font-size="7.5" dy="-1.8">˚</tspan><tspan dy="1.8" dx="0.3">55'E</tspan></text><text transform="translate(451.99 390.00) scale(1.01 1)" text-anchor="middle" font-size="10.5">143<tspan font-size="7.5" dy="-1.8">˚</tspan><tspan dy="1.8" dx="0.3">00'E</tspan></text><text transform="translate(500.07 390.00) scale(1.01 1)" text-anchor="middle" font-size="10.5">143<tspan font-size="7.5" dy="-1.8">˚</tspan><tspan dy="1.8" dx="0.3">05'E</tspan></text><text transform="translate(548.15 390.00) scale(1.01 1)" text-anchor="middle" font-size="10.5">143<tspan font-size="7.5" dy="-1.8">˚</tspan><tspan dy="1.8" dx="0.3">10'E</tspan></text><text transform="translate(596.23 390.00) scale(1.01 1)" text-anchor="middle" font-size="10.5">143<tspan font-size="7.5" dy="-1.8">˚</tspan><tspan dy="1.8" dx="0.3">15'E</tspan></text></g><rect x="453.6" y="336" width="106.2" height="3" fill="#c8c8c8"/><rect x="453.6" y="336" width="27.1" height="3" fill="#1a1010"/><rect x="506.2" y="336" width="27.1" height="3" fill="#1a1010"/><g font-family="Liberation Sans, Arial, sans-serif" fill="#2a2a2a" stroke="#2a2a2a" stroke-width="0.25"><text transform="translate(451.10 352.00) scale(1.01 1)" text-anchor="middle" font-size="10.5">0</text><text transform="translate(506.40 352.00) scale(1.01 1)" text-anchor="middle" font-size="10.5">10</text><text transform="translate(553.00 352.00) scale(1.01 1)" text-anchor="start" font-size="10.5">20 km</text></g><rect x="54.3" y="416" width="565.5" height="9" fill="url(#cb)"/><rect x="54.3" y="416" width="565.5" height="9" fill="url(#cbs)"/><path d="M54.30 425V428.5 M110.85 425V428.5 M167.40 425V428.5 M223.95 425V428.5 M280.50 425V428.5 M337.05 425V428.5 M393.60 425V428.5 M450.15 425V428.5 M506.70 425V428.5 M563.25 425V428.5 M619.80 425V428.5" stroke="#666" stroke-width="0.7" fill="none"/><path d="M54.30 416V425 M110.85 416V425 M167.40 416V425 M223.95 416V425 M280.50 416V425 M337.05 416V425 M393.60 416V425 M450.15 416V425 M506.70 416V425 M563.25 416V425 M619.80 416V425" stroke="#000" stroke-opacity="0.25" stroke-width="0.7" fill="none"/><rect x="54.3" y="416" width="565.5" height="9" fill="none" stroke="#444" stroke-width="0.8"/><g font-family="Liberation Sans, Arial, sans-serif" fill="#2a2a2a" stroke="#2a2a2a" stroke-width="0.25"><text transform="translate(53.60 439.90) scale(1.0 1)" text-anchor="middle" font-size="11.2">-11260</text><text transform="translate(110.15 439.90) scale(1.0 1)" text-anchor="middle" font-size="11.2">-10540</text><text transform="translate(165.80 439.90) scale(1.0 1)" text-anchor="middle" font-size="11.2">-9820</text><text transform="translate(222.35 439.90) scale(1.0 1)" text-anchor="middle" font-size="11.2">-9100</text><text transform="translate(278.90 439.90) scale(1.0 1)" text-anchor="middle" font-size="11.2">-8380</text><text transform="translate(335.45 439.90) scale(1.0 1)" text-anchor="middle" font-size="11.2">-7660</text><text transform="translate(392.00 439.90) scale(1.0 1)" text-anchor="middle" font-size="11.2">-6940</text><text transform="translate(448.55 439.90) scale(1.0 1)" text-anchor="middle" font-size="11.2">-6220</text><text transform="translate(505.10 439.90) scale(1.0 1)" text-anchor="middle" font-size="11.2">-5500</text><text transform="translate(561.65 439.90) scale(1.0 1)" text-anchor="middle" font-size="11.2">-4780</text><text transform="translate(618.20 439.90) scale(1.0 1)" text-anchor="middle" font-size="11.2">-4060</text></g><text x="338" y="456" text-anchor="middle" font-family="Liberation Sans, Noto Sans CJK JP, sans-serif" font-size="10.5" fill="#2a2a2a">水深 (m)</text><rect x="70.7" y="404.3" width="55.2" height="6.8" fill="#fafafa" stroke="#ccc" stroke-width="0.5"/><rect x="54.7" y="404.3" width="16" height="6.8" fill="#111"/><text x="62.7" y="410" text-anchor="middle" font-family="Liberation Sans, sans-serif" font-size="6" font-weight="bold" fill="#fff">GMT</text><text x="74" y="409.9" font-family="Liberation Sans, sans-serif" font-size="5.3" fill="#333" textLength="49" lengthAdjust="spacingAndGlyphs">2017 May 19 10:51:23</text><text x="129.7" y="409.3" font-family="Liberation Sans, sans-serif" font-size="4.3" fill="#444" textLength="156" lengthAdjust="spacingAndGlyphs">comment KR17-08C200.grd Grid_int 200m Contour_int 50m  Mercator Projection</text></svg></body></html>
